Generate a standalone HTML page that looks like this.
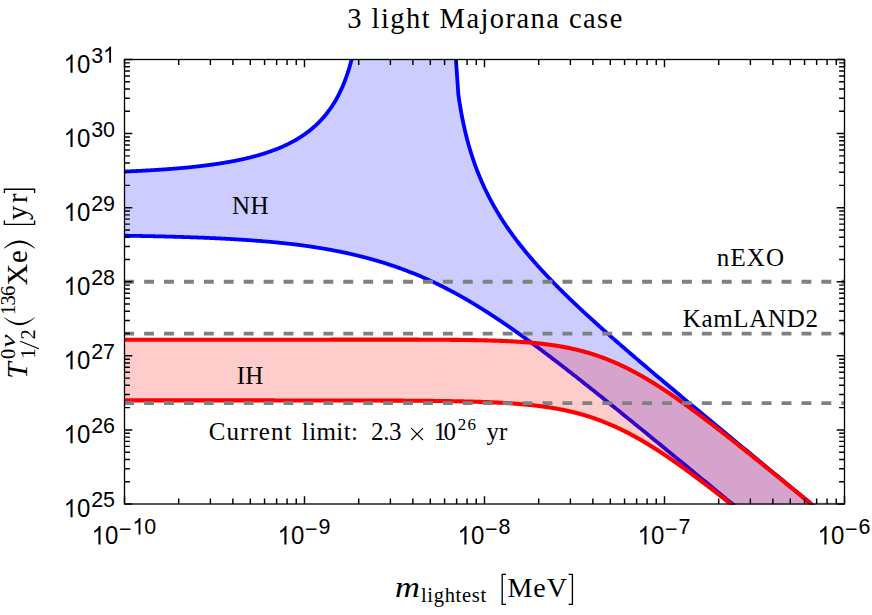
<!DOCTYPE html>
<html><head><meta charset="utf-8"><title>chart</title>
<style>
html,body{margin:0;padding:0;background:#fff;}
#c{position:relative;width:872px;height:615px;overflow:hidden;background:#fff;}
svg{position:absolute;left:0;top:0;}
.sans text{font-family:"Liberation Sans",sans-serif;fill:#000;}
.serif text{font-family:"Liberation Serif",serif;fill:#000;}
</style></head><body>
<div id="c">
<svg width="872" height="615" viewBox="0 0 872 615">
<defs><clipPath id="cp"><rect x="124.0" y="59.0" width="721.0" height="445.5"/></clipPath></defs>
<g clip-path="url(#cp)">
<path d="M124.50,235.72 L125.10,235.73 L125.70,235.73 L126.30,235.74 L126.90,235.75 L127.50,235.76 L128.10,235.77 L128.70,235.78 L129.30,235.79 L129.90,235.80 L130.51,235.81 L131.11,235.82 L131.71,235.83 L132.31,235.84 L132.91,235.85 L133.51,235.86 L134.11,235.87 L134.71,235.88 L135.31,235.89 L135.91,235.90 L136.51,235.91 L137.11,235.92 L137.71,235.93 L138.31,235.94 L138.91,235.95 L139.51,235.96 L140.11,235.97 L140.71,235.99 L141.31,236.00 L141.91,236.01 L142.52,236.02 L143.12,236.03 L143.72,236.04 L144.32,236.05 L144.92,236.06 L145.52,236.08 L146.12,236.09 L146.72,236.10 L147.32,236.11 L147.92,236.12 L148.52,236.14 L149.12,236.15 L149.72,236.16 L150.32,236.17 L150.92,236.19 L151.52,236.20 L152.12,236.21 L152.72,236.22 L153.32,236.24 L153.92,236.25 L154.53,236.26 L155.13,236.28 L155.73,236.29 L156.33,236.30 L156.93,236.32 L157.53,236.33 L158.13,236.34 L158.73,236.36 L159.33,236.37 L159.93,236.38 L160.53,236.40 L161.13,236.41 L161.73,236.43 L162.33,236.44 L162.93,236.46 L163.53,236.47 L164.13,236.49 L164.73,236.50 L165.33,236.52 L165.93,236.53 L166.54,236.55 L167.14,236.56 L167.74,236.58 L168.34,236.59 L168.94,236.61 L169.54,236.62 L170.14,236.64 L170.74,236.66 L171.34,236.67 L171.94,236.69 L172.54,236.70 L173.14,236.72 L173.74,236.74 L174.34,236.75 L174.94,236.77 L175.54,236.79 L176.14,236.80 L176.74,236.82 L177.34,236.84 L177.94,236.86 L178.55,236.87 L179.15,236.89 L179.75,236.91 L180.35,236.93 L180.95,236.95 L181.55,236.96 L182.15,236.98 L182.75,237.00 L183.35,237.02 L183.95,237.04 L184.55,237.06 L185.15,237.08 L185.75,237.10 L186.35,237.12 L186.95,237.14 L187.55,237.16 L188.15,237.18 L188.75,237.20 L189.35,237.22 L189.95,237.24 L190.56,237.26 L191.16,237.28 L191.76,237.30 L192.36,237.32 L192.96,237.34 L193.56,237.36 L194.16,237.38 L194.76,237.40 L195.36,237.43 L195.96,237.45 L196.56,237.47 L197.16,237.49 L197.76,237.51 L198.36,237.54 L198.96,237.56 L199.56,237.58 L200.16,237.61 L200.76,237.63 L201.36,237.65 L201.96,237.68 L202.57,237.70 L203.17,237.72 L203.77,237.75 L204.37,237.77 L204.97,237.80 L205.57,237.82 L206.17,237.85 L206.77,237.87 L207.37,237.90 L207.97,237.92 L208.57,237.95 L209.17,237.97 L209.77,238.00 L210.37,238.03 L210.97,238.05 L211.57,238.08 L212.17,238.11 L212.77,238.13 L213.37,238.16 L213.97,238.19 L214.58,238.21 L215.18,238.24 L215.78,238.27 L216.38,238.30 L216.98,238.33 L217.58,238.36 L218.18,238.38 L218.78,238.41 L219.38,238.44 L219.98,238.47 L220.58,238.50 L221.18,238.53 L221.78,238.56 L222.38,238.59 L222.98,238.62 L223.58,238.65 L224.18,238.68 L224.78,238.72 L225.38,238.75 L225.98,238.78 L226.59,238.81 L227.19,238.84 L227.79,238.87 L228.39,238.91 L228.99,238.94 L229.59,238.97 L230.19,239.01 L230.79,239.04 L231.39,239.07 L231.99,239.11 L232.59,239.14 L233.19,239.18 L233.79,239.21 L234.39,239.25 L234.99,239.28 L235.59,239.32 L236.19,239.35 L236.79,239.39 L237.39,239.43 L237.99,239.46 L238.60,239.50 L239.20,239.54 L239.80,239.58 L240.40,239.61 L241.00,239.65 L241.60,239.69 L242.20,239.73 L242.80,239.77 L243.40,239.81 L244.00,239.85 L244.60,239.89 L245.20,239.93 L245.80,239.97 L246.40,240.01 L247.00,240.05 L247.60,240.09 L248.20,240.13 L248.80,240.17 L249.40,240.21 L250.00,240.26 L250.61,240.30 L251.21,240.34 L251.81,240.38 L252.41,240.43 L253.01,240.47 L253.61,240.52 L254.21,240.56 L254.81,240.61 L255.41,240.65 L256.01,240.70 L256.61,240.74 L257.21,240.79 L257.81,240.84 L258.41,240.88 L259.01,240.93 L259.61,240.98 L260.21,241.02 L260.81,241.07 L261.41,241.12 L262.01,241.17 L262.62,241.22 L263.22,241.27 L263.82,241.32 L264.42,241.37 L265.02,241.42 L265.62,241.47 L266.22,241.52 L266.82,241.57 L267.42,241.63 L268.02,241.68 L268.62,241.73 L269.22,241.79 L269.82,241.84 L270.42,241.89 L271.02,241.95 L271.62,242.00 L272.22,242.06 L272.82,242.11 L273.42,242.17 L274.02,242.23 L274.63,242.28 L275.23,242.34 L275.83,242.40 L276.43,242.46 L277.03,242.51 L277.63,242.57 L278.23,242.63 L278.83,242.69 L279.43,242.75 L280.03,242.81 L280.63,242.87 L281.23,242.93 L281.83,243.00 L282.43,243.06 L283.03,243.12 L283.63,243.18 L284.23,243.25 L284.83,243.31 L285.43,243.38 L286.03,243.44 L286.64,243.51 L287.24,243.57 L287.84,243.64 L288.44,243.71 L289.04,243.77 L289.64,243.84 L290.24,243.91 L290.84,243.98 L291.44,244.05 L292.04,244.12 L292.64,244.19 L293.24,244.26 L293.84,244.33 L294.44,244.40 L295.04,244.47 L295.64,244.54 L296.24,244.62 L296.84,244.69 L297.44,244.76 L298.04,244.84 L298.65,244.91 L299.25,244.99 L299.85,245.06 L300.45,245.14 L301.05,245.22 L301.65,245.30 L302.25,245.38 L302.85,245.47 L303.45,245.55 L304.05,245.63 L304.65,245.71 L305.25,245.80 L305.85,245.88 L306.45,245.97 L307.05,246.05 L307.65,246.14 L308.25,246.22 L308.85,246.31 L309.45,246.40 L310.05,246.49 L310.66,246.58 L311.26,246.66 L311.86,246.75 L312.46,246.84 L313.06,246.94 L313.66,247.03 L314.26,247.12 L314.86,247.21 L315.46,247.31 L316.06,247.40 L316.66,247.50 L317.26,247.59 L317.86,247.69 L318.46,247.78 L319.06,247.88 L319.66,247.98 L320.26,248.08 L320.86,248.18 L321.46,248.27 L322.06,248.38 L322.67,248.48 L323.27,248.58 L323.87,248.68 L324.47,248.78 L325.07,248.89 L325.67,248.99 L326.27,249.10 L326.87,249.20 L327.47,249.31 L328.07,249.41 L328.67,249.52 L329.27,249.63 L329.87,249.74 L330.47,249.85 L331.07,249.96 L331.67,250.07 L332.27,250.18 L332.87,250.30 L333.47,250.41 L334.07,250.52 L334.68,250.64 L335.28,250.75 L335.88,250.87 L336.48,250.99 L337.08,251.10 L337.68,251.22 L338.28,251.34 L338.88,251.46 L339.48,251.58 L340.08,251.70 L340.68,251.82 L341.28,251.95 L341.88,252.07 L342.48,252.20 L343.08,252.32 L343.68,252.45 L344.28,252.57 L344.88,252.70 L345.48,252.83 L346.08,252.96 L346.69,253.09 L347.29,253.22 L347.89,253.35 L348.49,253.48 L349.09,253.62 L349.69,253.75 L350.29,253.88 L350.89,254.02 L351.49,254.16 L352.09,254.29 L352.69,254.43 L353.29,254.57 L353.89,254.71 L354.49,254.85 L355.09,254.99 L355.69,255.13 L356.29,255.28 L356.89,255.42 L357.49,255.57 L358.09,255.71 L358.70,255.86 L359.30,256.01 L359.90,256.15 L360.50,256.30 L361.10,256.45 L361.70,256.60 L362.30,256.76 L362.90,256.91 L363.50,257.06 L364.10,257.22 L364.70,257.37 L365.30,257.53 L365.90,257.69 L366.50,257.85 L367.10,258.01 L367.70,258.17 L368.30,258.33 L368.90,258.49 L369.50,258.65 L370.10,258.82 L370.71,258.98 L371.31,259.15 L371.91,259.31 L372.51,259.48 L373.11,259.65 L373.71,259.82 L374.31,259.99 L374.91,260.16 L375.51,260.34 L376.11,260.51 L376.71,260.68 L377.31,260.86 L377.91,261.04 L378.51,261.21 L379.11,261.39 L379.71,261.57 L380.31,261.75 L380.91,261.93 L381.51,262.12 L382.11,262.30 L382.72,262.49 L383.32,262.67 L383.92,262.86 L384.52,263.05 L385.12,263.24 L385.72,263.43 L386.32,263.62 L386.92,263.81 L387.52,264.00 L388.12,264.20 L388.72,264.39 L389.32,264.59 L389.92,264.79 L390.52,264.98 L391.12,265.18 L391.72,265.38 L392.32,265.59 L392.92,265.79 L393.52,265.99 L394.12,266.20 L394.73,266.40 L395.33,266.61 L395.93,266.82 L396.53,267.03 L397.13,267.24 L397.73,267.45 L398.33,267.66 L398.93,267.88 L399.53,268.09 L400.13,268.31 L400.73,268.53 L401.33,268.74 L401.93,268.96 L402.53,269.18 L403.13,269.41 L403.73,269.63 L404.33,269.85 L404.93,270.08 L405.53,270.31 L406.13,270.53 L406.74,270.76 L407.34,270.99 L407.94,271.22 L408.54,271.45 L409.14,271.69 L409.74,271.92 L410.34,272.16 L410.94,272.40 L411.54,272.63 L412.14,272.87 L412.74,273.11 L413.34,273.35 L413.94,273.60 L414.54,273.84 L415.14,274.09 L415.74,274.33 L416.34,274.58 L416.94,274.83 L417.54,275.08 L418.14,275.33 L418.75,275.58 L419.35,275.84 L419.95,276.09 L420.55,276.35 L421.15,276.60 L421.75,276.86 L422.35,277.12 L422.95,277.38 L423.55,277.64 L424.15,277.91 L424.75,278.17 L425.35,278.44 L425.95,278.70 L426.55,278.97 L427.15,279.24 L427.75,279.51 L428.35,279.78 L428.95,280.06 L429.55,280.33 L430.15,280.61 L430.76,280.88 L431.36,281.16 L431.96,281.44 L432.56,281.72 L433.16,282.00 L433.76,282.28 L434.36,282.57 L434.96,282.85 L435.56,283.14 L436.16,283.43 L436.76,283.72 L437.36,284.01 L437.96,284.30 L438.56,284.59 L439.16,284.88 L439.76,285.18 L440.36,285.48 L440.96,285.77 L441.56,286.07 L442.16,286.37 L442.77,286.67 L443.37,286.98 L443.97,287.28 L444.57,287.58 L445.17,287.89 L445.77,288.20 L446.37,288.51 L446.97,288.81 L447.57,289.13 L448.17,289.44 L448.77,289.75 L449.37,290.07 L449.97,290.38 L450.57,290.70 L451.17,291.02 L451.77,291.33 L452.37,291.65 L452.97,291.98 L453.57,292.30 L454.17,292.62 L454.78,292.95 L455.38,293.27 L455.98,293.60 L456.58,293.93 L457.18,294.26 L457.78,294.59 L458.38,294.92 L458.98,295.25 L459.58,295.59 L460.18,295.92 L460.78,296.26 L461.38,296.60 L461.98,296.94 L462.58,297.28 L463.18,297.62 L463.78,297.96 L464.38,298.31 L464.98,298.65 L465.58,299.00 L466.18,299.34 L466.79,299.69 L467.39,300.04 L467.99,300.39 L468.59,300.74 L469.19,301.10 L469.79,301.45 L470.39,301.80 L470.99,302.16 L471.59,302.52 L472.19,302.88 L472.79,303.24 L473.39,303.60 L473.99,303.96 L474.59,304.32 L475.19,304.68 L475.79,305.05 L476.39,305.41 L476.99,305.78 L477.59,306.15 L478.19,306.52 L478.80,306.89 L479.40,307.26 L480.00,307.63 L480.60,308.00 L481.20,308.38 L481.80,308.75 L482.40,309.13 L483.00,309.51 L483.60,309.89 L484.20,310.27 L484.80,310.65 L485.40,311.03 L486.00,311.41 L486.60,311.79 L487.20,312.18 L487.80,312.56 L488.40,312.95 L489.00,313.34 L489.60,313.72 L490.20,314.11 L490.81,314.50 L491.41,314.90 L492.01,315.29 L492.61,315.68 L493.21,316.07 L493.81,316.47 L494.41,316.86 L495.01,317.26 L495.61,317.66 L496.21,318.06 L496.81,318.46 L497.41,318.86 L498.01,319.26 L498.61,319.66 L499.21,320.06 L499.81,320.47 L500.41,320.87 L501.01,321.28 L501.61,321.68 L502.21,322.09 L502.82,322.49 L503.42,322.90 L504.02,323.31 L504.62,323.72 L505.22,324.13 L505.82,324.54 L506.42,324.95 L507.02,325.37 L507.62,325.78 L508.22,326.19 L508.82,326.61 L509.42,327.02 L510.02,327.44 L510.62,327.86 L511.22,328.28 L511.82,328.70 L512.42,329.12 L513.02,329.54 L513.62,329.96 L514.22,330.38 L514.83,330.80 L515.43,331.22 L516.03,331.65 L516.63,332.07 L517.23,332.50 L517.83,332.92 L518.43,333.35 L519.03,333.78 L519.63,334.21 L520.23,334.64 L520.83,335.07 L521.43,335.50 L522.03,335.93 L522.63,336.36 L523.23,336.79 L523.83,337.22 L524.43,337.66 L525.03,338.09 L525.63,338.53 L526.23,338.96 L526.84,339.40 L527.44,339.83 L528.04,340.27 L528.64,340.71 L529.24,341.15 L529.84,341.59 L530.44,342.03 L531.04,342.47 L531.64,342.91 L532.24,343.35 L532.84,343.79 L533.44,344.23 L534.04,344.68 L534.64,345.12 L535.24,345.56 L535.84,346.01 L536.44,346.45 L537.04,346.90 L537.64,347.35 L538.24,347.79 L538.85,348.24 L539.45,348.69 L540.05,349.14 L540.65,349.58 L541.25,350.03 L541.85,350.48 L542.45,350.93 L543.05,351.38 L543.65,351.84 L544.25,352.29 L544.85,352.74 L545.45,353.19 L546.05,353.65 L546.65,354.10 L547.25,354.55 L547.85,355.01 L548.45,355.46 L549.05,355.92 L549.65,356.37 L550.25,356.83 L550.86,357.29 L551.46,357.74 L552.06,358.20 L552.66,358.66 L553.26,359.12 L553.86,359.58 L554.46,360.04 L555.06,360.49 L555.66,360.95 L556.26,361.42 L556.86,361.88 L557.46,362.34 L558.06,362.80 L558.66,363.26 L559.26,363.72 L559.86,364.19 L560.46,364.65 L561.06,365.11 L561.66,365.58 L562.26,366.04 L562.87,366.50 L563.47,366.97 L564.07,367.43 L564.67,367.90 L565.27,368.37 L565.87,368.83 L566.47,369.30 L567.07,369.76 L567.67,370.23 L568.27,370.70 L568.87,371.17 L569.47,371.64 L570.07,372.10 L570.67,372.57 L571.27,373.04 L571.87,373.51 L572.47,373.98 L573.07,374.45 L573.67,374.92 L574.27,375.39 L574.88,375.86 L575.48,376.33 L576.08,376.80 L576.68,377.28 L577.28,377.75 L577.88,378.22 L578.48,378.69 L579.08,379.16 L579.68,379.64 L580.28,380.11 L580.88,380.58 L581.48,381.06 L582.08,381.53 L582.68,382.01 L583.28,382.48 L583.88,382.96 L584.48,383.43 L585.08,383.91 L585.68,384.38 L586.28,384.86 L586.89,385.33 L587.49,385.81 L588.09,386.29 L588.69,386.76 L589.29,387.24 L589.89,387.72 L590.49,388.19 L591.09,388.67 L591.69,389.15 L592.29,389.63 L592.89,390.11 L593.49,390.58 L594.09,391.06 L594.69,391.54 L595.29,392.02 L595.89,392.50 L596.49,392.98 L597.09,393.46 L597.69,393.94 L598.29,394.42 L598.90,394.90 L599.50,395.38 L600.10,395.86 L600.70,396.34 L601.30,396.82 L601.90,397.30 L602.50,397.78 L603.10,398.27 L603.70,398.75 L604.30,399.23 L604.90,399.71 L605.50,400.19 L606.10,400.68 L606.70,401.16 L607.30,401.64 L607.90,402.12 L608.50,402.61 L609.10,403.09 L609.70,403.57 L610.30,404.06 L610.91,404.54 L611.51,405.02 L612.11,405.51 L612.71,405.99 L613.31,406.48 L613.91,406.96 L614.51,407.44 L615.11,407.93 L615.71,408.41 L616.31,408.90 L616.91,409.38 L617.51,409.87 L618.11,410.35 L618.71,410.84 L619.31,411.33 L619.91,411.81 L620.51,412.30 L621.11,412.78 L621.71,413.27 L622.31,413.76 L622.92,414.24 L623.52,414.73 L624.12,415.21 L624.72,415.70 L625.32,416.19 L625.92,416.67 L626.52,417.16 L627.12,417.65 L627.72,418.14 L628.32,418.62 L628.92,419.11 L629.52,419.60 L630.12,420.09 L630.72,420.57 L631.32,421.06 L631.92,421.55 L632.52,422.04 L633.12,422.53 L633.72,423.01 L634.32,423.50 L634.93,423.99 L635.53,424.48 L636.13,424.97 L636.73,425.46 L637.33,425.95 L637.93,426.44 L638.53,426.92 L639.13,427.41 L639.73,427.90 L640.33,428.39 L640.93,428.88 L641.53,429.37 L642.13,429.86 L642.73,430.35 L643.33,430.84 L643.93,431.33 L644.53,431.82 L645.13,432.31 L645.73,432.80 L646.33,433.29 L646.94,433.78 L647.54,434.27 L648.14,434.76 L648.74,435.25 L649.34,435.74 L649.94,436.23 L650.54,436.72 L651.14,437.21 L651.74,437.70 L652.34,438.19 L652.94,438.69 L653.54,439.18 L654.14,439.67 L654.74,440.16 L655.34,440.65 L655.94,441.14 L656.54,441.63 L657.14,442.12 L657.74,442.61 L658.34,443.11 L658.95,443.60 L659.55,444.09 L660.15,444.58 L660.75,445.07 L661.35,445.56 L661.95,446.06 L662.55,446.55 L663.15,447.04 L663.75,447.53 L664.35,448.02 L664.95,448.52 L665.55,449.01 L666.15,449.50 L666.75,449.99 L667.35,450.48 L667.95,450.98 L668.55,451.47 L669.15,451.96 L669.75,452.45 L670.35,452.95 L670.96,453.44 L671.56,453.93 L672.16,454.42 L672.76,454.92 L673.36,455.41 L673.96,455.90 L674.56,456.39 L675.16,456.89 L675.76,457.38 L676.36,457.87 L676.96,458.37 L677.56,458.86 L678.16,459.35 L678.76,459.84 L679.36,460.34 L679.96,460.83 L680.56,461.32 L681.16,461.82 L681.76,462.31 L682.36,462.80 L682.97,463.30 L683.57,463.79 L684.17,464.28 L684.77,464.78 L685.37,465.27 L685.97,465.76 L686.57,466.26 L687.17,466.75 L687.77,467.24 L688.37,467.74 L688.97,468.23 L689.57,468.73 L690.17,469.22 L690.77,469.71 L691.37,470.21 L691.97,470.70 L692.57,471.19 L693.17,471.69 L693.77,472.18 L694.37,472.68 L694.98,473.17 L695.58,473.66 L696.18,474.16 L696.78,474.65 L697.38,475.14 L697.98,475.64 L698.58,476.13 L699.18,476.63 L699.78,477.12 L700.38,477.62 L700.98,478.11 L701.58,478.60 L702.18,479.10 L702.78,479.59 L703.38,480.09 L703.98,480.58 L704.58,481.07 L705.18,481.57 L705.78,482.06 L706.38,482.56 L706.99,483.05 L707.59,483.55 L708.19,484.04 L708.79,484.53 L709.39,485.03 L709.99,485.52 L710.59,486.02 L711.19,486.51 L711.79,487.01 L712.39,487.50 L712.99,488.00 L713.59,488.49 L714.19,488.98 L714.79,489.48 L715.39,489.97 L715.99,490.47 L716.59,490.96 L717.19,491.46 L717.79,491.95 L718.39,492.45 L719.00,492.94 L719.60,493.44 L720.20,493.93 L720.80,494.43 L721.40,494.92 L722.00,495.41 L722.60,495.91 L723.20,496.40 L723.80,496.90 L724.40,497.39 L725.00,497.89 L725.60,498.38 L726.20,498.88 L726.80,499.37 L727.40,499.87 L728.00,500.36 L728.60,500.86 L729.20,501.35 L729.80,501.85 L730.40,502.34 L731.01,502.84 L731.61,503.33 L732.21,503.83 L732.81,504.32 L733.41,504.81 L734.01,505.31 L734.61,505.80 L735.21,506.29 L735.81,506.79 L736.41,507.28 L737.01,507.78 L737.61,508.27 L738.21,508.76 L738.81,509.26 L739.41,509.75 L740.01,510.24 L740.61,510.74 L741.21,511.23 L741.81,511.73 L742.41,512.22 L743.02,512.71 L743.62,513.21 L744.22,513.70 L744.82,514.19 L745.42,514.69 L746.02,515.18 L746.62,515.68 L747.22,516.17 L747.82,516.66 L748.42,517.16 L749.02,517.65 L749.62,518.15 L750.22,518.64 L750.82,519.13 L751.42,519.63 L752.02,520.12 L752.62,520.61 L753.22,521.11 L753.82,521.60 L754.42,522.10 L755.03,522.59 L755.63,523.08 L756.23,523.58 L756.83,524.07 L757.43,524.57 L758.03,525.06 L758.63,525.55 L759.23,526.05 L759.83,526.54 L760.43,527.04 L761.03,527.53 L761.63,528.02 L762.23,528.52 L762.83,529.01 L763.43,529.51 L764.03,530.00 L764.63,530.49 L765.23,530.99 L765.83,531.48 L766.43,531.98 L767.04,532.47 L767.64,532.96 L768.24,533.46 L768.84,533.95 L769.44,534.45 L770.04,534.94 L770.64,535.43 L771.24,535.93 L771.84,536.42 L772.44,536.92 L773.04,537.41 L773.64,537.90 L774.24,538.40 L774.84,538.89 L775.44,539.39 L776.04,539.88 L776.64,540.37 L777.24,540.87 L777.84,541.36 L778.44,541.86 L779.05,542.35 L779.65,542.85 L780.25,543.34 L780.85,543.83 L781.45,544.33 L782.05,544.82 L782.65,545.32 L783.25,545.81 L783.85,546.30 L784.45,546.80 L785.05,547.29 L785.65,547.79 L786.25,548.28 L786.85,548.77 L787.45,549.27 L788.05,549.76 L788.65,550.26 L789.25,550.75 L789.85,551.25 L790.45,551.74 L791.06,552.23 L791.66,552.73 L792.26,553.22 L792.86,553.72 L793.46,554.21 L794.06,554.70 L794.66,555.20 L795.26,555.69 L795.86,556.19 L796.46,556.68 L797.06,557.18 L797.66,557.67 L798.26,558.16 L798.86,558.66 L799.46,559.15 L800.06,559.65 L800.66,560.14 L801.26,560.63 L801.86,561.13 L802.46,561.62 L803.07,562.12 L803.67,562.61 L804.27,563.11 L804.87,563.60 L805.47,564.09 L806.07,564.59 L806.67,565.08 L807.27,565.58 L807.87,566.07 L808.47,566.56 L809.07,567.06 L809.67,567.55 L810.27,568.05 L810.87,568.54 L811.47,569.04 L812.07,569.53 L812.67,570.02 L813.27,570.52 L813.87,571.01 L814.47,571.51 L815.08,572.00 L815.68,572.50 L816.28,572.99 L816.88,573.48 L817.48,573.98 L818.08,574.47 L818.68,574.97 L819.28,575.46 L819.88,575.95 L820.48,576.45 L821.08,576.94 L821.68,577.44 L822.28,577.93 L822.88,578.43 L823.48,578.92 L824.08,579.41 L824.68,579.91 L825.28,580.40 L825.88,580.90 L826.48,581.39 L827.09,581.89 L827.69,582.38 L828.29,582.87 L828.89,583.37 L829.49,583.86 L830.09,584.36 L830.69,584.85 L831.29,585.35 L831.89,585.84 L832.49,586.33 L833.09,586.83 L833.69,587.32 L834.29,587.82 L834.89,588.31 L835.49,588.81 L836.09,589.30 L836.69,589.79 L837.29,590.29 L837.89,590.78 L838.49,591.28 L839.10,591.77 L839.70,592.26 L840.30,592.76 L840.90,593.25 L841.50,593.75 L842.10,594.24 L842.70,594.74 L843.30,595.23 L843.90,595.72 L844.50,596.22 L844.50,531.22 L843.90,530.73 L843.30,530.23 L842.70,529.74 L842.10,529.24 L841.50,528.75 L840.90,528.25 L840.30,527.76 L839.70,527.26 L839.10,526.77 L838.49,526.28 L837.89,525.78 L837.29,525.29 L836.69,524.79 L836.09,524.30 L835.49,523.80 L834.89,523.31 L834.29,522.81 L833.69,522.32 L833.09,521.83 L832.49,521.33 L831.89,520.84 L831.29,520.34 L830.69,519.85 L830.09,519.35 L829.49,518.86 L828.89,518.36 L828.29,517.87 L827.69,517.38 L827.09,516.88 L826.48,516.39 L825.88,515.89 L825.28,515.40 L824.68,514.90 L824.08,514.41 L823.48,513.91 L822.88,513.42 L822.28,512.93 L821.68,512.43 L821.08,511.94 L820.48,511.44 L819.88,510.95 L819.28,510.45 L818.68,509.96 L818.08,509.46 L817.48,508.97 L816.88,508.47 L816.28,507.98 L815.68,507.49 L815.08,506.99 L814.47,506.50 L813.87,506.00 L813.27,505.51 L812.67,505.01 L812.07,504.52 L811.47,504.02 L810.87,503.53 L810.27,503.03 L809.67,502.54 L809.07,502.05 L808.47,501.55 L807.87,501.06 L807.27,500.56 L806.67,500.07 L806.07,499.57 L805.47,499.08 L804.87,498.58 L804.27,498.09 L803.67,497.59 L803.07,497.10 L802.46,496.61 L801.86,496.11 L801.26,495.62 L800.66,495.12 L800.06,494.63 L799.46,494.13 L798.86,493.64 L798.26,493.14 L797.66,492.65 L797.06,492.15 L796.46,491.66 L795.86,491.16 L795.26,490.67 L794.66,490.17 L794.06,489.68 L793.46,489.19 L792.86,488.69 L792.26,488.20 L791.66,487.70 L791.06,487.21 L790.45,486.71 L789.85,486.22 L789.25,485.72 L788.65,485.23 L788.05,484.73 L787.45,484.24 L786.85,483.74 L786.25,483.25 L785.65,482.75 L785.05,482.26 L784.45,481.76 L783.85,481.27 L783.25,480.77 L782.65,480.28 L782.05,479.79 L781.45,479.29 L780.85,478.80 L780.25,478.30 L779.65,477.81 L779.05,477.31 L778.44,476.82 L777.84,476.32 L777.24,475.83 L776.64,475.33 L776.04,474.84 L775.44,474.34 L774.84,473.85 L774.24,473.35 L773.64,472.86 L773.04,472.36 L772.44,471.87 L771.84,471.37 L771.24,470.88 L770.64,470.38 L770.04,469.89 L769.44,469.39 L768.84,468.90 L768.24,468.40 L767.64,467.91 L767.04,467.41 L766.43,466.92 L765.83,466.42 L765.23,465.93 L764.63,465.43 L764.03,464.94 L763.43,464.44 L762.83,463.95 L762.23,463.45 L761.63,462.96 L761.03,462.46 L760.43,461.97 L759.83,461.47 L759.23,460.97 L758.63,460.48 L758.03,459.98 L757.43,459.49 L756.83,458.99 L756.23,458.50 L755.63,458.00 L755.03,457.51 L754.42,457.01 L753.82,456.52 L753.22,456.02 L752.62,455.53 L752.02,455.03 L751.42,454.54 L750.82,454.04 L750.22,453.54 L749.62,453.05 L749.02,452.55 L748.42,452.06 L747.82,451.56 L747.22,451.07 L746.62,450.57 L746.02,450.08 L745.42,449.58 L744.82,449.08 L744.22,448.59 L743.62,448.09 L743.02,447.60 L742.41,447.10 L741.81,446.61 L741.21,446.11 L740.61,445.61 L740.01,445.12 L739.41,444.62 L738.81,444.13 L738.21,443.63 L737.61,443.14 L737.01,442.64 L736.41,442.14 L735.81,441.65 L735.21,441.15 L734.61,440.66 L734.01,440.16 L733.41,439.66 L732.81,439.17 L732.21,438.67 L731.61,438.17 L731.01,437.68 L730.40,437.18 L729.80,436.69 L729.20,436.19 L728.60,435.69 L728.00,435.20 L727.40,434.70 L726.80,434.20 L726.20,433.71 L725.60,433.21 L725.00,432.71 L724.40,432.22 L723.80,431.72 L723.20,431.22 L722.60,430.73 L722.00,430.23 L721.40,429.73 L720.80,429.24 L720.20,428.74 L719.60,428.24 L719.00,427.75 L718.39,427.25 L717.79,426.75 L717.19,426.26 L716.59,425.76 L715.99,425.26 L715.39,424.77 L714.79,424.27 L714.19,423.77 L713.59,423.27 L712.99,422.78 L712.39,422.28 L711.79,421.78 L711.19,421.28 L710.59,420.79 L709.99,420.29 L709.39,419.79 L708.79,419.29 L708.19,418.80 L707.59,418.30 L706.99,417.80 L706.38,417.30 L705.78,416.81 L705.18,416.31 L704.58,415.81 L703.98,415.31 L703.38,414.81 L702.78,414.32 L702.18,413.82 L701.58,413.32 L700.98,412.82 L700.38,412.32 L699.78,411.82 L699.18,411.33 L698.58,410.83 L697.98,410.33 L697.38,409.83 L696.78,409.33 L696.18,408.83 L695.58,408.33 L694.98,407.83 L694.37,407.33 L693.77,406.84 L693.17,406.34 L692.57,405.84 L691.97,405.34 L691.37,404.84 L690.77,404.34 L690.17,403.84 L689.57,403.34 L688.97,402.84 L688.37,402.34 L687.77,401.84 L687.17,401.34 L686.57,400.84 L685.97,400.34 L685.37,399.84 L684.77,399.34 L684.17,398.84 L683.57,398.34 L682.97,397.84 L682.36,397.34 L681.76,396.84 L681.16,396.34 L680.56,395.83 L679.96,395.33 L679.36,394.83 L678.76,394.33 L678.16,393.83 L677.56,393.33 L676.96,392.83 L676.36,392.32 L675.76,391.82 L675.16,391.32 L674.56,390.82 L673.96,390.32 L673.36,389.81 L672.76,389.31 L672.16,388.81 L671.56,388.31 L670.96,387.80 L670.35,387.30 L669.75,386.80 L669.15,386.30 L668.55,385.79 L667.95,385.29 L667.35,384.78 L666.75,384.28 L666.15,383.78 L665.55,383.27 L664.95,382.77 L664.35,382.27 L663.75,381.76 L663.15,381.26 L662.55,380.75 L661.95,380.25 L661.35,379.74 L660.75,379.24 L660.15,378.73 L659.55,378.23 L658.95,377.72 L658.34,377.21 L657.74,376.71 L657.14,376.20 L656.54,375.70 L655.94,375.19 L655.34,374.68 L654.74,374.18 L654.14,373.67 L653.54,373.16 L652.94,372.66 L652.34,372.15 L651.74,371.64 L651.14,371.13 L650.54,370.62 L649.94,370.12 L649.34,369.61 L648.74,369.10 L648.14,368.59 L647.54,368.08 L646.94,367.57 L646.33,367.06 L645.73,366.55 L645.13,366.04 L644.53,365.53 L643.93,365.02 L643.33,364.51 L642.73,364.00 L642.13,363.49 L641.53,362.98 L640.93,362.47 L640.33,361.95 L639.73,361.44 L639.13,360.93 L638.53,360.42 L637.93,359.90 L637.33,359.39 L636.73,358.88 L636.13,358.36 L635.53,357.85 L634.93,357.34 L634.32,356.82 L633.72,356.31 L633.12,355.79 L632.52,355.28 L631.92,354.76 L631.32,354.25 L630.72,353.73 L630.12,353.21 L629.52,352.70 L628.92,352.18 L628.32,351.66 L627.72,351.14 L627.12,350.63 L626.52,350.11 L625.92,349.59 L625.32,349.07 L624.72,348.55 L624.12,348.03 L623.52,347.51 L622.92,346.99 L622.31,346.47 L621.71,345.95 L621.11,345.43 L620.51,344.91 L619.91,344.38 L619.31,343.86 L618.71,343.34 L618.11,342.81 L617.51,342.29 L616.91,341.77 L616.31,341.24 L615.71,340.72 L615.11,340.19 L614.51,339.66 L613.91,339.14 L613.31,338.61 L612.71,338.08 L612.11,337.56 L611.51,337.03 L610.91,336.50 L610.30,335.97 L609.70,335.44 L609.10,334.91 L608.50,334.38 L607.90,333.85 L607.30,333.32 L606.70,332.79 L606.10,332.25 L605.50,331.72 L604.90,331.19 L604.30,330.65 L603.70,330.12 L603.10,329.58 L602.50,329.05 L601.90,328.51 L601.30,327.98 L600.70,327.44 L600.10,326.90 L599.50,326.36 L598.90,325.82 L598.29,325.28 L597.69,324.74 L597.09,324.20 L596.49,323.66 L595.89,323.12 L595.29,322.58 L594.69,322.03 L594.09,321.49 L593.49,320.95 L592.89,320.40 L592.29,319.85 L591.69,319.31 L591.09,318.76 L590.49,318.21 L589.89,317.66 L589.29,317.11 L588.69,316.56 L588.09,316.01 L587.49,315.46 L586.89,314.91 L586.28,314.36 L585.68,313.80 L585.08,313.25 L584.48,312.69 L583.88,312.13 L583.28,311.58 L582.68,311.02 L582.08,310.46 L581.48,309.90 L580.88,309.34 L580.28,308.78 L579.68,308.22 L579.08,307.65 L578.48,307.09 L577.88,306.52 L577.28,305.96 L576.68,305.39 L576.08,304.82 L575.48,304.25 L574.88,303.68 L574.27,303.11 L573.67,302.54 L573.07,301.97 L572.47,301.39 L571.87,300.82 L571.27,300.24 L570.67,299.67 L570.07,299.09 L569.47,298.51 L568.87,297.93 L568.27,297.35 L567.67,296.76 L567.07,296.18 L566.47,295.59 L565.87,295.01 L565.27,294.42 L564.67,293.83 L564.07,293.24 L563.47,292.65 L562.87,292.06 L562.26,291.46 L561.66,290.87 L561.06,290.27 L560.46,289.67 L559.86,289.07 L559.26,288.47 L558.66,287.87 L558.06,287.27 L557.46,286.66 L556.86,286.05 L556.26,285.45 L555.66,284.84 L555.06,284.22 L554.46,283.61 L553.86,283.00 L553.26,282.38 L552.66,281.76 L552.06,281.14 L551.46,280.52 L550.86,279.90 L550.25,279.27 L549.65,278.65 L549.05,278.02 L548.45,277.39 L547.85,276.76 L547.25,276.12 L546.65,275.49 L546.05,274.85 L545.45,274.21 L544.85,273.57 L544.25,272.92 L543.65,272.28 L543.05,271.63 L542.45,270.98 L541.85,270.33 L541.25,269.67 L540.65,269.01 L540.05,268.35 L539.45,267.69 L538.85,267.03 L538.24,266.36 L537.64,265.69 L537.04,265.02 L536.44,264.35 L535.84,263.67 L535.24,262.99 L534.64,262.31 L534.04,261.63 L533.44,260.94 L532.84,260.25 L532.24,259.56 L531.64,258.86 L531.04,258.16 L530.44,257.46 L529.84,256.76 L529.24,256.05 L528.64,255.34 L528.04,254.63 L527.44,253.91 L526.84,253.19 L526.23,252.46 L525.63,251.74 L525.03,251.01 L524.43,250.27 L523.83,249.53 L523.23,248.79 L522.63,248.05 L522.03,247.30 L521.43,246.54 L520.83,245.79 L520.23,245.02 L519.63,244.26 L519.03,243.49 L518.43,242.72 L517.83,241.94 L517.23,241.15 L516.63,240.37 L516.03,239.58 L515.43,238.78 L514.83,237.98 L514.22,237.17 L513.62,236.36 L513.02,235.54 L512.42,234.72 L511.82,233.89 L511.22,233.06 L510.62,232.22 L510.02,231.38 L509.42,230.53 L508.82,229.68 L508.22,228.81 L507.62,227.95 L507.02,227.07 L506.42,226.19 L505.82,225.30 L505.22,224.41 L504.62,223.51 L504.02,222.60 L503.42,221.69 L502.82,220.76 L502.21,219.83 L501.61,218.90 L501.01,217.95 L500.41,217.00 L499.81,216.03 L499.21,215.06 L498.61,214.08 L498.01,213.09 L497.41,212.10 L496.81,211.09 L496.21,210.07 L495.61,209.05 L495.01,208.01 L494.41,206.96 L493.81,205.90 L493.21,204.83 L492.61,203.75 L492.01,202.66 L491.41,201.55 L490.81,200.43 L490.20,199.30 L489.60,198.16 L489.00,197.00 L488.40,195.83 L487.80,194.65 L487.20,193.45 L486.60,192.23 L486.00,191.00 L485.40,189.75 L484.80,188.48 L484.20,187.20 L483.60,185.90 L483.00,184.58 L482.40,183.24 L481.80,181.88 L481.20,180.50 L480.60,179.09 L480.00,177.67 L479.40,176.22 L478.80,174.75 L478.19,173.25 L477.59,171.72 L476.99,170.17 L476.39,168.59 L475.79,166.97 L475.19,165.33 L474.59,163.65 L473.99,161.94 L473.39,160.19 L472.79,158.41 L472.19,156.58 L471.59,154.72 L470.99,152.80 L470.39,150.84 L469.79,148.84 L469.19,146.77 L468.59,144.66 L467.99,142.48 L467.39,140.25 L466.79,137.94 L466.18,135.56 L465.58,133.11 L464.98,130.58 L464.38,127.96 L463.78,125.24 L463.18,122.42 L462.58,119.49 L461.98,116.43 L461.38,113.25 L460.78,109.92 L460.18,106.42 L459.58,102.75 L458.98,98.88 L458.38,94.79 L457.78,86.24 L457.18,77.69 L456.58,69.14 L455.98,60.59 L455.38,-300.00 L454.78,-300.00 L454.17,-300.00 L453.57,-300.00 L452.97,-300.00 L452.37,-300.00 L451.77,-300.00 L451.17,-300.00 L450.57,-300.00 L449.97,-300.00 L449.37,-300.00 L448.77,-300.00 L448.17,-300.00 L447.57,-300.00 L446.97,-300.00 L446.37,-300.00 L445.77,-300.00 L445.17,-300.00 L444.57,-300.00 L443.97,-300.00 L443.37,-300.00 L442.77,-300.00 L442.16,-300.00 L441.56,-300.00 L440.96,-300.00 L440.36,-300.00 L439.76,-300.00 L439.16,-300.00 L438.56,-300.00 L437.96,-300.00 L437.36,-300.00 L436.76,-300.00 L436.16,-300.00 L435.56,-300.00 L434.96,-300.00 L434.36,-300.00 L433.76,-300.00 L433.16,-300.00 L432.56,-300.00 L431.96,-300.00 L431.36,-300.00 L430.76,-300.00 L430.15,-300.00 L429.55,-300.00 L428.95,-300.00 L428.35,-300.00 L427.75,-300.00 L427.15,-300.00 L426.55,-300.00 L425.95,-300.00 L425.35,-300.00 L424.75,-300.00 L424.15,-300.00 L423.55,-300.00 L422.95,-300.00 L422.35,-300.00 L421.75,-300.00 L421.15,-300.00 L420.55,-300.00 L419.95,-300.00 L419.35,-300.00 L418.75,-300.00 L418.14,-300.00 L417.54,-300.00 L416.94,-300.00 L416.34,-300.00 L415.74,-300.00 L415.14,-300.00 L414.54,-300.00 L413.94,-300.00 L413.34,-300.00 L412.74,-300.00 L412.14,-300.00 L411.54,-300.00 L410.94,-300.00 L410.34,-300.00 L409.74,-300.00 L409.14,-300.00 L408.54,-300.00 L407.94,-300.00 L407.34,-300.00 L406.74,-300.00 L406.13,-300.00 L405.53,-300.00 L404.93,-300.00 L404.33,-300.00 L403.73,-300.00 L403.13,-300.00 L402.53,-300.00 L401.93,-300.00 L401.33,-300.00 L400.73,-300.00 L400.13,-300.00 L399.53,-300.00 L398.93,-300.00 L398.33,-300.00 L397.73,-300.00 L397.13,-300.00 L396.53,-300.00 L395.93,-300.00 L395.33,-300.00 L394.73,-300.00 L394.12,-300.00 L393.52,-300.00 L392.92,-300.00 L392.32,-300.00 L391.72,-300.00 L391.12,-300.00 L390.52,-300.00 L389.92,-300.00 L389.32,-300.00 L388.72,-300.00 L388.12,-300.00 L387.52,-300.00 L386.92,-300.00 L386.32,-300.00 L385.72,-300.00 L385.12,-300.00 L384.52,-300.00 L383.92,-300.00 L383.32,-300.00 L382.72,-300.00 L382.11,-300.00 L381.51,-300.00 L380.91,-300.00 L380.31,-300.00 L379.71,-300.00 L379.11,-300.00 L378.51,-300.00 L377.91,-300.00 L377.31,-300.00 L376.71,-300.00 L376.11,-300.00 L375.51,-300.00 L374.91,-300.00 L374.31,-300.00 L373.71,-300.00 L373.11,-300.00 L372.51,-300.00 L371.91,-300.00 L371.31,-300.00 L370.71,-300.00 L370.10,-300.00 L369.50,-300.00 L368.90,-300.00 L368.30,-300.00 L367.70,-300.00 L367.10,-300.00 L366.50,-255.09 L365.90,-132.21 L365.30,-92.76 L364.70,-68.62 L364.10,-51.21 L363.50,-37.61 L362.90,-26.45 L362.30,-17.01 L361.70,-8.83 L361.10,-1.62 L360.50,4.82 L359.90,10.63 L359.30,15.93 L358.70,20.79 L358.09,25.28 L357.49,29.45 L356.89,33.34 L356.29,36.98 L355.69,40.41 L355.09,43.63 L354.49,46.69 L353.89,49.58 L353.29,52.34 L352.69,54.96 L352.09,57.46 L351.49,59.85 L350.89,62.14 L350.29,64.34 L349.69,66.45 L349.09,68.48 L348.49,70.43 L347.89,72.31 L347.29,74.13 L346.69,75.88 L346.08,77.58 L345.48,79.22 L344.88,80.81 L344.28,82.35 L343.68,83.84 L343.08,85.29 L342.48,86.70 L341.88,88.07 L341.28,89.40 L340.68,90.69 L340.08,91.95 L339.48,93.18 L338.88,94.38 L338.28,95.54 L337.68,96.68 L337.08,97.79 L336.48,98.87 L335.88,99.93 L335.28,100.96 L334.68,101.97 L334.07,102.96 L333.47,103.92 L332.87,104.87 L332.27,105.79 L331.67,106.70 L331.07,107.58 L330.47,108.45 L329.87,109.30 L329.27,110.13 L328.67,110.95 L328.07,111.75 L327.47,112.53 L326.87,113.30 L326.27,114.06 L325.67,114.80 L325.07,115.53 L324.47,116.24 L323.87,116.95 L323.27,117.64 L322.67,118.31 L322.06,118.98 L321.46,119.63 L320.86,120.27 L320.26,120.91 L319.66,121.53 L319.06,122.14 L318.46,122.74 L317.86,123.33 L317.26,123.91 L316.66,124.48 L316.06,125.04 L315.46,125.60 L314.86,126.14 L314.26,126.68 L313.66,127.21 L313.06,127.73 L312.46,128.24 L311.86,128.75 L311.26,129.24 L310.66,129.73 L310.05,130.22 L309.45,130.69 L308.85,131.16 L308.25,131.62 L307.65,132.08 L307.05,132.53 L306.45,132.97 L305.85,133.41 L305.25,133.84 L304.65,134.26 L304.05,134.68 L303.45,135.09 L302.85,135.50 L302.25,135.90 L301.65,136.30 L301.05,136.69 L300.45,137.08 L299.85,137.46 L299.25,137.83 L298.65,138.20 L298.04,138.57 L297.44,138.93 L296.84,139.29 L296.24,139.64 L295.64,139.99 L295.04,140.33 L294.44,140.67 L293.84,141.00 L293.24,141.34 L292.64,141.66 L292.04,141.98 L291.44,142.30 L290.84,142.62 L290.24,142.93 L289.64,143.24 L289.04,143.54 L288.44,143.84 L287.84,144.14 L287.24,144.43 L286.64,144.72 L286.03,145.00 L285.43,145.29 L284.83,145.56 L284.23,145.84 L283.63,146.11 L283.03,146.38 L282.43,146.65 L281.83,146.91 L281.23,147.17 L280.63,147.43 L280.03,147.69 L279.43,147.94 L278.83,148.19 L278.23,148.43 L277.63,148.68 L277.03,148.92 L276.43,149.15 L275.83,149.39 L275.23,149.62 L274.63,149.85 L274.02,150.08 L273.42,150.30 L272.82,150.53 L272.22,150.75 L271.62,150.97 L271.02,151.18 L270.42,151.40 L269.82,151.61 L269.22,151.81 L268.62,152.02 L268.02,152.23 L267.42,152.43 L266.82,152.63 L266.22,152.83 L265.62,153.02 L265.02,153.22 L264.42,153.41 L263.82,153.60 L263.22,153.79 L262.62,153.97 L262.01,154.16 L261.41,154.34 L260.81,154.52 L260.21,154.70 L259.61,154.87 L259.01,155.05 L258.41,155.22 L257.81,155.39 L257.21,155.56 L256.61,155.73 L256.01,155.90 L255.41,156.06 L254.81,156.23 L254.21,156.39 L253.61,156.55 L253.01,156.70 L252.41,156.86 L251.81,157.02 L251.21,157.17 L250.61,157.32 L250.00,157.47 L249.40,157.62 L248.80,157.77 L248.20,157.92 L247.60,158.06 L247.00,158.20 L246.40,158.35 L245.80,158.49 L245.20,158.63 L244.60,158.76 L244.00,158.90 L243.40,159.03 L242.80,159.17 L242.20,159.30 L241.60,159.43 L241.00,159.56 L240.40,159.69 L239.80,159.82 L239.20,159.95 L238.60,160.07 L237.99,160.20 L237.39,160.32 L236.79,160.44 L236.19,160.56 L235.59,160.68 L234.99,160.80 L234.39,160.92 L233.79,161.03 L233.19,161.15 L232.59,161.26 L231.99,161.38 L231.39,161.49 L230.79,161.60 L230.19,161.71 L229.59,161.82 L228.99,161.93 L228.39,162.03 L227.79,162.14 L227.19,162.24 L226.59,162.35 L225.98,162.45 L225.38,162.55 L224.78,162.65 L224.18,162.75 L223.58,162.85 L222.98,162.95 L222.38,163.05 L221.78,163.15 L221.18,163.24 L220.58,163.34 L219.98,163.43 L219.38,163.53 L218.78,163.62 L218.18,163.71 L217.58,163.80 L216.98,163.89 L216.38,163.98 L215.78,164.07 L215.18,164.16 L214.58,164.24 L213.97,164.33 L213.37,164.41 L212.77,164.50 L212.17,164.58 L211.57,164.67 L210.97,164.75 L210.37,164.83 L209.77,164.91 L209.17,164.99 L208.57,165.07 L207.97,165.15 L207.37,165.23 L206.77,165.30 L206.17,165.38 L205.57,165.46 L204.97,165.53 L204.37,165.61 L203.77,165.68 L203.17,165.76 L202.57,165.83 L201.96,165.90 L201.36,165.97 L200.76,166.04 L200.16,166.11 L199.56,166.18 L198.96,166.25 L198.36,166.32 L197.76,166.39 L197.16,166.46 L196.56,166.52 L195.96,166.59 L195.36,166.65 L194.76,166.72 L194.16,166.78 L193.56,166.85 L192.96,166.91 L192.36,166.97 L191.76,167.04 L191.16,167.10 L190.56,167.16 L189.95,167.22 L189.35,167.28 L188.75,167.34 L188.15,167.40 L187.55,167.46 L186.95,167.52 L186.35,167.57 L185.75,167.63 L185.15,167.69 L184.55,167.75 L183.95,167.80 L183.35,167.86 L182.75,167.91 L182.15,167.97 L181.55,168.02 L180.95,168.07 L180.35,168.13 L179.75,168.18 L179.15,168.23 L178.55,168.28 L177.94,168.33 L177.34,168.38 L176.74,168.44 L176.14,168.49 L175.54,168.53 L174.94,168.58 L174.34,168.63 L173.74,168.68 L173.14,168.73 L172.54,168.78 L171.94,168.82 L171.34,168.87 L170.74,168.92 L170.14,168.96 L169.54,169.01 L168.94,169.05 L168.34,169.10 L167.74,169.14 L167.14,169.19 L166.54,169.23 L165.93,169.27 L165.33,169.32 L164.73,169.36 L164.13,169.40 L163.53,169.45 L162.93,169.49 L162.33,169.53 L161.73,169.57 L161.13,169.61 L160.53,169.65 L159.93,169.69 L159.33,169.73 L158.73,169.77 L158.13,169.81 L157.53,169.85 L156.93,169.89 L156.33,169.92 L155.73,169.96 L155.13,170.00 L154.53,170.04 L153.92,170.07 L153.32,170.11 L152.72,170.14 L152.12,170.18 L151.52,170.22 L150.92,170.25 L150.32,170.29 L149.72,170.32 L149.12,170.36 L148.52,170.39 L147.92,170.42 L147.32,170.46 L146.72,170.49 L146.12,170.52 L145.52,170.56 L144.92,170.59 L144.32,170.62 L143.72,170.65 L143.12,170.69 L142.52,170.72 L141.91,170.75 L141.31,170.78 L140.71,170.81 L140.11,170.84 L139.51,170.87 L138.91,170.90 L138.31,170.93 L137.71,170.96 L137.11,170.99 L136.51,171.02 L135.91,171.05 L135.31,171.08 L134.71,171.11 L134.11,171.13 L133.51,171.16 L132.91,171.19 L132.31,171.22 L131.71,171.24 L131.11,171.27 L130.51,171.30 L129.90,171.32 L129.30,171.35 L128.70,171.38 L128.10,171.40 L127.50,171.43 L126.90,171.45 L126.30,171.48 L125.70,171.50 L125.10,171.53 L124.50,171.55Z" fill="#0000ff" fill-opacity="0.2" stroke="none"/>
<path d="M124.50,235.72 L125.10,235.73 L125.70,235.73 L126.30,235.74 L126.90,235.75 L127.50,235.76 L128.10,235.77 L128.70,235.78 L129.30,235.79 L129.90,235.80 L130.51,235.81 L131.11,235.82 L131.71,235.83 L132.31,235.84 L132.91,235.85 L133.51,235.86 L134.11,235.87 L134.71,235.88 L135.31,235.89 L135.91,235.90 L136.51,235.91 L137.11,235.92 L137.71,235.93 L138.31,235.94 L138.91,235.95 L139.51,235.96 L140.11,235.97 L140.71,235.99 L141.31,236.00 L141.91,236.01 L142.52,236.02 L143.12,236.03 L143.72,236.04 L144.32,236.05 L144.92,236.06 L145.52,236.08 L146.12,236.09 L146.72,236.10 L147.32,236.11 L147.92,236.12 L148.52,236.14 L149.12,236.15 L149.72,236.16 L150.32,236.17 L150.92,236.19 L151.52,236.20 L152.12,236.21 L152.72,236.22 L153.32,236.24 L153.92,236.25 L154.53,236.26 L155.13,236.28 L155.73,236.29 L156.33,236.30 L156.93,236.32 L157.53,236.33 L158.13,236.34 L158.73,236.36 L159.33,236.37 L159.93,236.38 L160.53,236.40 L161.13,236.41 L161.73,236.43 L162.33,236.44 L162.93,236.46 L163.53,236.47 L164.13,236.49 L164.73,236.50 L165.33,236.52 L165.93,236.53 L166.54,236.55 L167.14,236.56 L167.74,236.58 L168.34,236.59 L168.94,236.61 L169.54,236.62 L170.14,236.64 L170.74,236.66 L171.34,236.67 L171.94,236.69 L172.54,236.70 L173.14,236.72 L173.74,236.74 L174.34,236.75 L174.94,236.77 L175.54,236.79 L176.14,236.80 L176.74,236.82 L177.34,236.84 L177.94,236.86 L178.55,236.87 L179.15,236.89 L179.75,236.91 L180.35,236.93 L180.95,236.95 L181.55,236.96 L182.15,236.98 L182.75,237.00 L183.35,237.02 L183.95,237.04 L184.55,237.06 L185.15,237.08 L185.75,237.10 L186.35,237.12 L186.95,237.14 L187.55,237.16 L188.15,237.18 L188.75,237.20 L189.35,237.22 L189.95,237.24 L190.56,237.26 L191.16,237.28 L191.76,237.30 L192.36,237.32 L192.96,237.34 L193.56,237.36 L194.16,237.38 L194.76,237.40 L195.36,237.43 L195.96,237.45 L196.56,237.47 L197.16,237.49 L197.76,237.51 L198.36,237.54 L198.96,237.56 L199.56,237.58 L200.16,237.61 L200.76,237.63 L201.36,237.65 L201.96,237.68 L202.57,237.70 L203.17,237.72 L203.77,237.75 L204.37,237.77 L204.97,237.80 L205.57,237.82 L206.17,237.85 L206.77,237.87 L207.37,237.90 L207.97,237.92 L208.57,237.95 L209.17,237.97 L209.77,238.00 L210.37,238.03 L210.97,238.05 L211.57,238.08 L212.17,238.11 L212.77,238.13 L213.37,238.16 L213.97,238.19 L214.58,238.21 L215.18,238.24 L215.78,238.27 L216.38,238.30 L216.98,238.33 L217.58,238.36 L218.18,238.38 L218.78,238.41 L219.38,238.44 L219.98,238.47 L220.58,238.50 L221.18,238.53 L221.78,238.56 L222.38,238.59 L222.98,238.62 L223.58,238.65 L224.18,238.68 L224.78,238.72 L225.38,238.75 L225.98,238.78 L226.59,238.81 L227.19,238.84 L227.79,238.87 L228.39,238.91 L228.99,238.94 L229.59,238.97 L230.19,239.01 L230.79,239.04 L231.39,239.07 L231.99,239.11 L232.59,239.14 L233.19,239.18 L233.79,239.21 L234.39,239.25 L234.99,239.28 L235.59,239.32 L236.19,239.35 L236.79,239.39 L237.39,239.43 L237.99,239.46 L238.60,239.50 L239.20,239.54 L239.80,239.58 L240.40,239.61 L241.00,239.65 L241.60,239.69 L242.20,239.73 L242.80,239.77 L243.40,239.81 L244.00,239.85 L244.60,239.89 L245.20,239.93 L245.80,239.97 L246.40,240.01 L247.00,240.05 L247.60,240.09 L248.20,240.13 L248.80,240.17 L249.40,240.21 L250.00,240.26 L250.61,240.30 L251.21,240.34 L251.81,240.38 L252.41,240.43 L253.01,240.47 L253.61,240.52 L254.21,240.56 L254.81,240.61 L255.41,240.65 L256.01,240.70 L256.61,240.74 L257.21,240.79 L257.81,240.84 L258.41,240.88 L259.01,240.93 L259.61,240.98 L260.21,241.02 L260.81,241.07 L261.41,241.12 L262.01,241.17 L262.62,241.22 L263.22,241.27 L263.82,241.32 L264.42,241.37 L265.02,241.42 L265.62,241.47 L266.22,241.52 L266.82,241.57 L267.42,241.63 L268.02,241.68 L268.62,241.73 L269.22,241.79 L269.82,241.84 L270.42,241.89 L271.02,241.95 L271.62,242.00 L272.22,242.06 L272.82,242.11 L273.42,242.17 L274.02,242.23 L274.63,242.28 L275.23,242.34 L275.83,242.40 L276.43,242.46 L277.03,242.51 L277.63,242.57 L278.23,242.63 L278.83,242.69 L279.43,242.75 L280.03,242.81 L280.63,242.87 L281.23,242.93 L281.83,243.00 L282.43,243.06 L283.03,243.12 L283.63,243.18 L284.23,243.25 L284.83,243.31 L285.43,243.38 L286.03,243.44 L286.64,243.51 L287.24,243.57 L287.84,243.64 L288.44,243.71 L289.04,243.77 L289.64,243.84 L290.24,243.91 L290.84,243.98 L291.44,244.05 L292.04,244.12 L292.64,244.19 L293.24,244.26 L293.84,244.33 L294.44,244.40 L295.04,244.47 L295.64,244.54 L296.24,244.62 L296.84,244.69 L297.44,244.76 L298.04,244.84 L298.65,244.91 L299.25,244.99 L299.85,245.06 L300.45,245.14 L301.05,245.22 L301.65,245.30 L302.25,245.38 L302.85,245.47 L303.45,245.55 L304.05,245.63 L304.65,245.71 L305.25,245.80 L305.85,245.88 L306.45,245.97 L307.05,246.05 L307.65,246.14 L308.25,246.22 L308.85,246.31 L309.45,246.40 L310.05,246.49 L310.66,246.58 L311.26,246.66 L311.86,246.75 L312.46,246.84 L313.06,246.94 L313.66,247.03 L314.26,247.12 L314.86,247.21 L315.46,247.31 L316.06,247.40 L316.66,247.50 L317.26,247.59 L317.86,247.69 L318.46,247.78 L319.06,247.88 L319.66,247.98 L320.26,248.08 L320.86,248.18 L321.46,248.27 L322.06,248.38 L322.67,248.48 L323.27,248.58 L323.87,248.68 L324.47,248.78 L325.07,248.89 L325.67,248.99 L326.27,249.10 L326.87,249.20 L327.47,249.31 L328.07,249.41 L328.67,249.52 L329.27,249.63 L329.87,249.74 L330.47,249.85 L331.07,249.96 L331.67,250.07 L332.27,250.18 L332.87,250.30 L333.47,250.41 L334.07,250.52 L334.68,250.64 L335.28,250.75 L335.88,250.87 L336.48,250.99 L337.08,251.10 L337.68,251.22 L338.28,251.34 L338.88,251.46 L339.48,251.58 L340.08,251.70 L340.68,251.82 L341.28,251.95 L341.88,252.07 L342.48,252.20 L343.08,252.32 L343.68,252.45 L344.28,252.57 L344.88,252.70 L345.48,252.83 L346.08,252.96 L346.69,253.09 L347.29,253.22 L347.89,253.35 L348.49,253.48 L349.09,253.62 L349.69,253.75 L350.29,253.88 L350.89,254.02 L351.49,254.16 L352.09,254.29 L352.69,254.43 L353.29,254.57 L353.89,254.71 L354.49,254.85 L355.09,254.99 L355.69,255.13 L356.29,255.28 L356.89,255.42 L357.49,255.57 L358.09,255.71 L358.70,255.86 L359.30,256.01 L359.90,256.15 L360.50,256.30 L361.10,256.45 L361.70,256.60 L362.30,256.76 L362.90,256.91 L363.50,257.06 L364.10,257.22 L364.70,257.37 L365.30,257.53 L365.90,257.69 L366.50,257.85 L367.10,258.01 L367.70,258.17 L368.30,258.33 L368.90,258.49 L369.50,258.65 L370.10,258.82 L370.71,258.98 L371.31,259.15 L371.91,259.31 L372.51,259.48 L373.11,259.65 L373.71,259.82 L374.31,259.99 L374.91,260.16 L375.51,260.34 L376.11,260.51 L376.71,260.68 L377.31,260.86 L377.91,261.04 L378.51,261.21 L379.11,261.39 L379.71,261.57 L380.31,261.75 L380.91,261.93 L381.51,262.12 L382.11,262.30 L382.72,262.49 L383.32,262.67 L383.92,262.86 L384.52,263.05 L385.12,263.24 L385.72,263.43 L386.32,263.62 L386.92,263.81 L387.52,264.00 L388.12,264.20 L388.72,264.39 L389.32,264.59 L389.92,264.79 L390.52,264.98 L391.12,265.18 L391.72,265.38 L392.32,265.59 L392.92,265.79 L393.52,265.99 L394.12,266.20 L394.73,266.40 L395.33,266.61 L395.93,266.82 L396.53,267.03 L397.13,267.24 L397.73,267.45 L398.33,267.66 L398.93,267.88 L399.53,268.09 L400.13,268.31 L400.73,268.53 L401.33,268.74 L401.93,268.96 L402.53,269.18 L403.13,269.41 L403.73,269.63 L404.33,269.85 L404.93,270.08 L405.53,270.31 L406.13,270.53 L406.74,270.76 L407.34,270.99 L407.94,271.22 L408.54,271.45 L409.14,271.69 L409.74,271.92 L410.34,272.16 L410.94,272.40 L411.54,272.63 L412.14,272.87 L412.74,273.11 L413.34,273.35 L413.94,273.60 L414.54,273.84 L415.14,274.09 L415.74,274.33 L416.34,274.58 L416.94,274.83 L417.54,275.08 L418.14,275.33 L418.75,275.58 L419.35,275.84 L419.95,276.09 L420.55,276.35 L421.15,276.60 L421.75,276.86 L422.35,277.12 L422.95,277.38 L423.55,277.64 L424.15,277.91 L424.75,278.17 L425.35,278.44 L425.95,278.70 L426.55,278.97 L427.15,279.24 L427.75,279.51 L428.35,279.78 L428.95,280.06 L429.55,280.33 L430.15,280.61 L430.76,280.88 L431.36,281.16 L431.96,281.44 L432.56,281.72 L433.16,282.00 L433.76,282.28 L434.36,282.57 L434.96,282.85 L435.56,283.14 L436.16,283.43 L436.76,283.72 L437.36,284.01 L437.96,284.30 L438.56,284.59 L439.16,284.88 L439.76,285.18 L440.36,285.48 L440.96,285.77 L441.56,286.07 L442.16,286.37 L442.77,286.67 L443.37,286.98 L443.97,287.28 L444.57,287.58 L445.17,287.89 L445.77,288.20 L446.37,288.51 L446.97,288.81 L447.57,289.13 L448.17,289.44 L448.77,289.75 L449.37,290.07 L449.97,290.38 L450.57,290.70 L451.17,291.02 L451.77,291.33 L452.37,291.65 L452.97,291.98 L453.57,292.30 L454.17,292.62 L454.78,292.95 L455.38,293.27 L455.98,293.60 L456.58,293.93 L457.18,294.26 L457.78,294.59 L458.38,294.92 L458.98,295.25 L459.58,295.59 L460.18,295.92 L460.78,296.26 L461.38,296.60 L461.98,296.94 L462.58,297.28 L463.18,297.62 L463.78,297.96 L464.38,298.31 L464.98,298.65 L465.58,299.00 L466.18,299.34 L466.79,299.69 L467.39,300.04 L467.99,300.39 L468.59,300.74 L469.19,301.10 L469.79,301.45 L470.39,301.80 L470.99,302.16 L471.59,302.52 L472.19,302.88 L472.79,303.24 L473.39,303.60 L473.99,303.96 L474.59,304.32 L475.19,304.68 L475.79,305.05 L476.39,305.41 L476.99,305.78 L477.59,306.15 L478.19,306.52 L478.80,306.89 L479.40,307.26 L480.00,307.63 L480.60,308.00 L481.20,308.38 L481.80,308.75 L482.40,309.13 L483.00,309.51 L483.60,309.89 L484.20,310.27 L484.80,310.65 L485.40,311.03 L486.00,311.41 L486.60,311.79 L487.20,312.18 L487.80,312.56 L488.40,312.95 L489.00,313.34 L489.60,313.72 L490.20,314.11 L490.81,314.50 L491.41,314.90 L492.01,315.29 L492.61,315.68 L493.21,316.07 L493.81,316.47 L494.41,316.86 L495.01,317.26 L495.61,317.66 L496.21,318.06 L496.81,318.46 L497.41,318.86 L498.01,319.26 L498.61,319.66 L499.21,320.06 L499.81,320.47 L500.41,320.87 L501.01,321.28 L501.61,321.68 L502.21,322.09 L502.82,322.49 L503.42,322.90 L504.02,323.31 L504.62,323.72 L505.22,324.13 L505.82,324.54 L506.42,324.95 L507.02,325.37 L507.62,325.78 L508.22,326.19 L508.82,326.61 L509.42,327.02 L510.02,327.44 L510.62,327.86 L511.22,328.28 L511.82,328.70 L512.42,329.12 L513.02,329.54 L513.62,329.96 L514.22,330.38 L514.83,330.80 L515.43,331.22 L516.03,331.65 L516.63,332.07 L517.23,332.50 L517.83,332.92 L518.43,333.35 L519.03,333.78 L519.63,334.21 L520.23,334.64 L520.83,335.07 L521.43,335.50 L522.03,335.93 L522.63,336.36 L523.23,336.79 L523.83,337.22 L524.43,337.66 L525.03,338.09 L525.63,338.53 L526.23,338.96 L526.84,339.40 L527.44,339.83 L528.04,340.27 L528.64,340.71 L529.24,341.15 L529.84,341.59 L530.44,342.03 L531.04,342.47 L531.64,342.91 L532.24,343.35 L532.84,343.79 L533.44,344.23 L534.04,344.68 L534.64,345.12 L535.24,345.56 L535.84,346.01 L536.44,346.45 L537.04,346.90 L537.64,347.35 L538.24,347.79 L538.85,348.24 L539.45,348.69 L540.05,349.14 L540.65,349.58 L541.25,350.03 L541.85,350.48 L542.45,350.93 L543.05,351.38 L543.65,351.84 L544.25,352.29 L544.85,352.74 L545.45,353.19 L546.05,353.65 L546.65,354.10 L547.25,354.55 L547.85,355.01 L548.45,355.46 L549.05,355.92 L549.65,356.37 L550.25,356.83 L550.86,357.29 L551.46,357.74 L552.06,358.20 L552.66,358.66 L553.26,359.12 L553.86,359.58 L554.46,360.04 L555.06,360.49 L555.66,360.95 L556.26,361.42 L556.86,361.88 L557.46,362.34 L558.06,362.80 L558.66,363.26 L559.26,363.72 L559.86,364.19 L560.46,364.65 L561.06,365.11 L561.66,365.58 L562.26,366.04 L562.87,366.50 L563.47,366.97 L564.07,367.43 L564.67,367.90 L565.27,368.37 L565.87,368.83 L566.47,369.30 L567.07,369.76 L567.67,370.23 L568.27,370.70 L568.87,371.17 L569.47,371.64 L570.07,372.10 L570.67,372.57 L571.27,373.04 L571.87,373.51 L572.47,373.98 L573.07,374.45 L573.67,374.92 L574.27,375.39 L574.88,375.86 L575.48,376.33 L576.08,376.80 L576.68,377.28 L577.28,377.75 L577.88,378.22 L578.48,378.69 L579.08,379.16 L579.68,379.64 L580.28,380.11 L580.88,380.58 L581.48,381.06 L582.08,381.53 L582.68,382.01 L583.28,382.48 L583.88,382.96 L584.48,383.43 L585.08,383.91 L585.68,384.38 L586.28,384.86 L586.89,385.33 L587.49,385.81 L588.09,386.29 L588.69,386.76 L589.29,387.24 L589.89,387.72 L590.49,388.19 L591.09,388.67 L591.69,389.15 L592.29,389.63 L592.89,390.11 L593.49,390.58 L594.09,391.06 L594.69,391.54 L595.29,392.02 L595.89,392.50 L596.49,392.98 L597.09,393.46 L597.69,393.94 L598.29,394.42 L598.90,394.90 L599.50,395.38 L600.10,395.86 L600.70,396.34 L601.30,396.82 L601.90,397.30 L602.50,397.78 L603.10,398.27 L603.70,398.75 L604.30,399.23 L604.90,399.71 L605.50,400.19 L606.10,400.68 L606.70,401.16 L607.30,401.64 L607.90,402.12 L608.50,402.61 L609.10,403.09 L609.70,403.57 L610.30,404.06 L610.91,404.54 L611.51,405.02 L612.11,405.51 L612.71,405.99 L613.31,406.48 L613.91,406.96 L614.51,407.44 L615.11,407.93 L615.71,408.41 L616.31,408.90 L616.91,409.38 L617.51,409.87 L618.11,410.35 L618.71,410.84 L619.31,411.33 L619.91,411.81 L620.51,412.30 L621.11,412.78 L621.71,413.27 L622.31,413.76 L622.92,414.24 L623.52,414.73 L624.12,415.21 L624.72,415.70 L625.32,416.19 L625.92,416.67 L626.52,417.16 L627.12,417.65 L627.72,418.14 L628.32,418.62 L628.92,419.11 L629.52,419.60 L630.12,420.09 L630.72,420.57 L631.32,421.06 L631.92,421.55 L632.52,422.04 L633.12,422.53 L633.72,423.01 L634.32,423.50 L634.93,423.99 L635.53,424.48 L636.13,424.97 L636.73,425.46 L637.33,425.95 L637.93,426.44 L638.53,426.92 L639.13,427.41 L639.73,427.90 L640.33,428.39 L640.93,428.88 L641.53,429.37 L642.13,429.86 L642.73,430.35 L643.33,430.84 L643.93,431.33 L644.53,431.82 L645.13,432.31 L645.73,432.80 L646.33,433.29 L646.94,433.78 L647.54,434.27 L648.14,434.76 L648.74,435.25 L649.34,435.74 L649.94,436.23 L650.54,436.72 L651.14,437.21 L651.74,437.70 L652.34,438.19 L652.94,438.69 L653.54,439.18 L654.14,439.67 L654.74,440.16 L655.34,440.65 L655.94,441.14 L656.54,441.63 L657.14,442.12 L657.74,442.61 L658.34,443.11 L658.95,443.60 L659.55,444.09 L660.15,444.58 L660.75,445.07 L661.35,445.56 L661.95,446.06 L662.55,446.55 L663.15,447.04 L663.75,447.53 L664.35,448.02 L664.95,448.52 L665.55,449.01 L666.15,449.50 L666.75,449.99 L667.35,450.48 L667.95,450.98 L668.55,451.47 L669.15,451.96 L669.75,452.45 L670.35,452.95 L670.96,453.44 L671.56,453.93 L672.16,454.42 L672.76,454.92 L673.36,455.41 L673.96,455.90 L674.56,456.39 L675.16,456.89 L675.76,457.38 L676.36,457.87 L676.96,458.37 L677.56,458.86 L678.16,459.35 L678.76,459.84 L679.36,460.34 L679.96,460.83 L680.56,461.32 L681.16,461.82 L681.76,462.31 L682.36,462.80 L682.97,463.30 L683.57,463.79 L684.17,464.28 L684.77,464.78 L685.37,465.27 L685.97,465.76 L686.57,466.26 L687.17,466.75 L687.77,467.24 L688.37,467.74 L688.97,468.23 L689.57,468.73 L690.17,469.22 L690.77,469.71 L691.37,470.21 L691.97,470.70 L692.57,471.19 L693.17,471.69 L693.77,472.18 L694.37,472.68 L694.98,473.17 L695.58,473.66 L696.18,474.16 L696.78,474.65 L697.38,475.14 L697.98,475.64 L698.58,476.13 L699.18,476.63 L699.78,477.12 L700.38,477.62 L700.98,478.11 L701.58,478.60 L702.18,479.10 L702.78,479.59 L703.38,480.09 L703.98,480.58 L704.58,481.07 L705.18,481.57 L705.78,482.06 L706.38,482.56 L706.99,483.05 L707.59,483.55 L708.19,484.04 L708.79,484.53 L709.39,485.03 L709.99,485.52 L710.59,486.02 L711.19,486.51 L711.79,487.01 L712.39,487.50 L712.99,488.00 L713.59,488.49 L714.19,488.98 L714.79,489.48 L715.39,489.97 L715.99,490.47 L716.59,490.96 L717.19,491.46 L717.79,491.95 L718.39,492.45 L719.00,492.94 L719.60,493.44 L720.20,493.93 L720.80,494.43 L721.40,494.92 L722.00,495.41 L722.60,495.91 L723.20,496.40 L723.80,496.90 L724.40,497.39 L725.00,497.89 L725.60,498.38 L726.20,498.88 L726.80,499.37 L727.40,499.87 L728.00,500.36 L728.60,500.86 L729.20,501.35 L729.80,501.85 L730.40,502.34 L731.01,502.84 L731.61,503.33 L732.21,503.83 L732.81,504.32 L733.41,504.81 L734.01,505.31 L734.61,505.80 L735.21,506.29 L735.81,506.79 L736.41,507.28 L737.01,507.78 L737.61,508.27 L738.21,508.76 L738.81,509.26 L739.41,509.75 L740.01,510.24 L740.61,510.74 L741.21,511.23 L741.81,511.73 L742.41,512.22 L743.02,512.71 L743.62,513.21 L744.22,513.70 L744.82,514.19 L745.42,514.69 L746.02,515.18 L746.62,515.68 L747.22,516.17 L747.82,516.66 L748.42,517.16 L749.02,517.65 L749.62,518.15 L750.22,518.64 L750.82,519.13 L751.42,519.63 L752.02,520.12 L752.62,520.61 L753.22,521.11 L753.82,521.60 L754.42,522.10 L755.03,522.59 L755.63,523.08 L756.23,523.58 L756.83,524.07 L757.43,524.57 L758.03,525.06 L758.63,525.55 L759.23,526.05 L759.83,526.54 L760.43,527.04 L761.03,527.53 L761.63,528.02 L762.23,528.52 L762.83,529.01 L763.43,529.51 L764.03,530.00 L764.63,530.49 L765.23,530.99 L765.83,531.48 L766.43,531.98 L767.04,532.47 L767.64,532.96 L768.24,533.46 L768.84,533.95 L769.44,534.45 L770.04,534.94 L770.64,535.43 L771.24,535.93 L771.84,536.42 L772.44,536.92 L773.04,537.41 L773.64,537.90 L774.24,538.40 L774.84,538.89 L775.44,539.39 L776.04,539.88 L776.64,540.37 L777.24,540.87 L777.84,541.36 L778.44,541.86 L779.05,542.35 L779.65,542.85 L780.25,543.34 L780.85,543.83 L781.45,544.33 L782.05,544.82 L782.65,545.32 L783.25,545.81 L783.85,546.30 L784.45,546.80 L785.05,547.29 L785.65,547.79 L786.25,548.28 L786.85,548.77 L787.45,549.27 L788.05,549.76 L788.65,550.26 L789.25,550.75 L789.85,551.25 L790.45,551.74 L791.06,552.23 L791.66,552.73 L792.26,553.22 L792.86,553.72 L793.46,554.21 L794.06,554.70 L794.66,555.20 L795.26,555.69 L795.86,556.19 L796.46,556.68 L797.06,557.18 L797.66,557.67 L798.26,558.16 L798.86,558.66 L799.46,559.15 L800.06,559.65 L800.66,560.14 L801.26,560.63 L801.86,561.13 L802.46,561.62 L803.07,562.12 L803.67,562.61 L804.27,563.11 L804.87,563.60 L805.47,564.09 L806.07,564.59 L806.67,565.08 L807.27,565.58 L807.87,566.07 L808.47,566.56 L809.07,567.06 L809.67,567.55 L810.27,568.05 L810.87,568.54 L811.47,569.04 L812.07,569.53 L812.67,570.02 L813.27,570.52 L813.87,571.01 L814.47,571.51 L815.08,572.00 L815.68,572.50 L816.28,572.99 L816.88,573.48 L817.48,573.98 L818.08,574.47 L818.68,574.97 L819.28,575.46 L819.88,575.95 L820.48,576.45 L821.08,576.94 L821.68,577.44 L822.28,577.93 L822.88,578.43 L823.48,578.92 L824.08,579.41 L824.68,579.91 L825.28,580.40 L825.88,580.90 L826.48,581.39 L827.09,581.89 L827.69,582.38 L828.29,582.87 L828.89,583.37 L829.49,583.86 L830.09,584.36 L830.69,584.85 L831.29,585.35 L831.89,585.84 L832.49,586.33 L833.09,586.83 L833.69,587.32 L834.29,587.82 L834.89,588.31 L835.49,588.81 L836.09,589.30 L836.69,589.79 L837.29,590.29 L837.89,590.78 L838.49,591.28 L839.10,591.77 L839.70,592.26 L840.30,592.76 L840.90,593.25 L841.50,593.75 L842.10,594.24 L842.70,594.74 L843.30,595.23 L843.90,595.72 L844.50,596.22" fill="none" stroke="#0000ff" stroke-width="3.8" stroke-linejoin="round"/>
<path d="M124.50,171.55 L125.10,171.53 L125.70,171.50 L126.30,171.48 L126.90,171.45 L127.50,171.43 L128.10,171.40 L128.70,171.38 L129.30,171.35 L129.90,171.32 L130.51,171.30 L131.11,171.27 L131.71,171.24 L132.31,171.22 L132.91,171.19 L133.51,171.16 L134.11,171.13 L134.71,171.11 L135.31,171.08 L135.91,171.05 L136.51,171.02 L137.11,170.99 L137.71,170.96 L138.31,170.93 L138.91,170.90 L139.51,170.87 L140.11,170.84 L140.71,170.81 L141.31,170.78 L141.91,170.75 L142.52,170.72 L143.12,170.69 L143.72,170.65 L144.32,170.62 L144.92,170.59 L145.52,170.56 L146.12,170.52 L146.72,170.49 L147.32,170.46 L147.92,170.42 L148.52,170.39 L149.12,170.36 L149.72,170.32 L150.32,170.29 L150.92,170.25 L151.52,170.22 L152.12,170.18 L152.72,170.14 L153.32,170.11 L153.92,170.07 L154.53,170.04 L155.13,170.00 L155.73,169.96 L156.33,169.92 L156.93,169.89 L157.53,169.85 L158.13,169.81 L158.73,169.77 L159.33,169.73 L159.93,169.69 L160.53,169.65 L161.13,169.61 L161.73,169.57 L162.33,169.53 L162.93,169.49 L163.53,169.45 L164.13,169.40 L164.73,169.36 L165.33,169.32 L165.93,169.27 L166.54,169.23 L167.14,169.19 L167.74,169.14 L168.34,169.10 L168.94,169.05 L169.54,169.01 L170.14,168.96 L170.74,168.92 L171.34,168.87 L171.94,168.82 L172.54,168.78 L173.14,168.73 L173.74,168.68 L174.34,168.63 L174.94,168.58 L175.54,168.53 L176.14,168.49 L176.74,168.44 L177.34,168.38 L177.94,168.33 L178.55,168.28 L179.15,168.23 L179.75,168.18 L180.35,168.13 L180.95,168.07 L181.55,168.02 L182.15,167.97 L182.75,167.91 L183.35,167.86 L183.95,167.80 L184.55,167.75 L185.15,167.69 L185.75,167.63 L186.35,167.57 L186.95,167.52 L187.55,167.46 L188.15,167.40 L188.75,167.34 L189.35,167.28 L189.95,167.22 L190.56,167.16 L191.16,167.10 L191.76,167.04 L192.36,166.97 L192.96,166.91 L193.56,166.85 L194.16,166.78 L194.76,166.72 L195.36,166.65 L195.96,166.59 L196.56,166.52 L197.16,166.46 L197.76,166.39 L198.36,166.32 L198.96,166.25 L199.56,166.18 L200.16,166.11 L200.76,166.04 L201.36,165.97 L201.96,165.90 L202.57,165.83 L203.17,165.76 L203.77,165.68 L204.37,165.61 L204.97,165.53 L205.57,165.46 L206.17,165.38 L206.77,165.30 L207.37,165.23 L207.97,165.15 L208.57,165.07 L209.17,164.99 L209.77,164.91 L210.37,164.83 L210.97,164.75 L211.57,164.67 L212.17,164.58 L212.77,164.50 L213.37,164.41 L213.97,164.33 L214.58,164.24 L215.18,164.16 L215.78,164.07 L216.38,163.98 L216.98,163.89 L217.58,163.80 L218.18,163.71 L218.78,163.62 L219.38,163.53 L219.98,163.43 L220.58,163.34 L221.18,163.24 L221.78,163.15 L222.38,163.05 L222.98,162.95 L223.58,162.85 L224.18,162.75 L224.78,162.65 L225.38,162.55 L225.98,162.45 L226.59,162.35 L227.19,162.24 L227.79,162.14 L228.39,162.03 L228.99,161.93 L229.59,161.82 L230.19,161.71 L230.79,161.60 L231.39,161.49 L231.99,161.38 L232.59,161.26 L233.19,161.15 L233.79,161.03 L234.39,160.92 L234.99,160.80 L235.59,160.68 L236.19,160.56 L236.79,160.44 L237.39,160.32 L237.99,160.20 L238.60,160.07 L239.20,159.95 L239.80,159.82 L240.40,159.69 L241.00,159.56 L241.60,159.43 L242.20,159.30 L242.80,159.17 L243.40,159.03 L244.00,158.90 L244.60,158.76 L245.20,158.63 L245.80,158.49 L246.40,158.35 L247.00,158.20 L247.60,158.06 L248.20,157.92 L248.80,157.77 L249.40,157.62 L250.00,157.47 L250.61,157.32 L251.21,157.17 L251.81,157.02 L252.41,156.86 L253.01,156.70 L253.61,156.55 L254.21,156.39 L254.81,156.23 L255.41,156.06 L256.01,155.90 L256.61,155.73 L257.21,155.56 L257.81,155.39 L258.41,155.22 L259.01,155.05 L259.61,154.87 L260.21,154.70 L260.81,154.52 L261.41,154.34 L262.01,154.16 L262.62,153.97 L263.22,153.79 L263.82,153.60 L264.42,153.41 L265.02,153.22 L265.62,153.02 L266.22,152.83 L266.82,152.63 L267.42,152.43 L268.02,152.23 L268.62,152.02 L269.22,151.81 L269.82,151.61 L270.42,151.40 L271.02,151.18 L271.62,150.97 L272.22,150.75 L272.82,150.53 L273.42,150.30 L274.02,150.08 L274.63,149.85 L275.23,149.62 L275.83,149.39 L276.43,149.15 L277.03,148.92 L277.63,148.68 L278.23,148.43 L278.83,148.19 L279.43,147.94 L280.03,147.69 L280.63,147.43 L281.23,147.17 L281.83,146.91 L282.43,146.65 L283.03,146.38 L283.63,146.11 L284.23,145.84 L284.83,145.56 L285.43,145.29 L286.03,145.00 L286.64,144.72 L287.24,144.43 L287.84,144.14 L288.44,143.84 L289.04,143.54 L289.64,143.24 L290.24,142.93 L290.84,142.62 L291.44,142.30 L292.04,141.98 L292.64,141.66 L293.24,141.34 L293.84,141.00 L294.44,140.67 L295.04,140.33 L295.64,139.99 L296.24,139.64 L296.84,139.29 L297.44,138.93 L298.04,138.57 L298.65,138.20 L299.25,137.83 L299.85,137.46 L300.45,137.08 L301.05,136.69 L301.65,136.30 L302.25,135.90 L302.85,135.50 L303.45,135.09 L304.05,134.68 L304.65,134.26 L305.25,133.84 L305.85,133.41 L306.45,132.97 L307.05,132.53 L307.65,132.08 L308.25,131.62 L308.85,131.16 L309.45,130.69 L310.05,130.22 L310.66,129.73 L311.26,129.24 L311.86,128.75 L312.46,128.24 L313.06,127.73 L313.66,127.21 L314.26,126.68 L314.86,126.14 L315.46,125.60 L316.06,125.04 L316.66,124.48 L317.26,123.91 L317.86,123.33 L318.46,122.74 L319.06,122.14 L319.66,121.53 L320.26,120.91 L320.86,120.27 L321.46,119.63 L322.06,118.98 L322.67,118.31 L323.27,117.64 L323.87,116.95 L324.47,116.24 L325.07,115.53 L325.67,114.80 L326.27,114.06 L326.87,113.30 L327.47,112.53 L328.07,111.75 L328.67,110.95 L329.27,110.13 L329.87,109.30 L330.47,108.45 L331.07,107.58 L331.67,106.70 L332.27,105.79 L332.87,104.87 L333.47,103.92 L334.07,102.96 L334.68,101.97 L335.28,100.96 L335.88,99.93 L336.48,98.87 L337.08,97.79 L337.68,96.68 L338.28,95.54 L338.88,94.38 L339.48,93.18 L340.08,91.95 L340.68,90.69 L341.28,89.40 L341.88,88.07 L342.48,86.70 L343.08,85.29 L343.68,83.84 L344.28,82.35 L344.88,80.81 L345.48,79.22 L346.08,77.58 L346.69,75.88 L347.29,74.13 L347.89,72.31 L348.49,70.43 L349.09,68.48 L349.69,66.45 L350.29,64.34 L350.89,62.14 L351.49,59.85 L352.09,57.46 L352.69,54.96 L353.29,52.34 L353.89,49.58 L354.49,46.69 L355.09,43.63 L355.69,40.41 L356.29,36.98 L356.89,33.34 L357.49,29.45 L358.09,25.28 L358.70,20.79 L359.30,15.93 L359.90,10.63 L360.50,4.82 L361.10,-1.62 L361.70,-8.83 L362.30,-17.01 L362.90,-26.45 L363.50,-37.61 L364.10,-51.21 L364.70,-68.62 L365.30,-92.76 L365.90,-132.21 L366.50,-255.09 L367.10,-300.00 L367.70,-300.00 L368.30,-300.00 L368.90,-300.00 L369.50,-300.00 L370.10,-300.00 L370.71,-300.00 L371.31,-300.00 L371.91,-300.00 L372.51,-300.00 L373.11,-300.00 L373.71,-300.00 L374.31,-300.00 L374.91,-300.00 L375.51,-300.00 L376.11,-300.00 L376.71,-300.00 L377.31,-300.00 L377.91,-300.00 L378.51,-300.00 L379.11,-300.00 L379.71,-300.00 L380.31,-300.00 L380.91,-300.00 L381.51,-300.00 L382.11,-300.00 L382.72,-300.00 L383.32,-300.00 L383.92,-300.00 L384.52,-300.00 L385.12,-300.00 L385.72,-300.00 L386.32,-300.00 L386.92,-300.00 L387.52,-300.00 L388.12,-300.00 L388.72,-300.00 L389.32,-300.00 L389.92,-300.00 L390.52,-300.00 L391.12,-300.00 L391.72,-300.00 L392.32,-300.00 L392.92,-300.00 L393.52,-300.00 L394.12,-300.00 L394.73,-300.00 L395.33,-300.00 L395.93,-300.00 L396.53,-300.00 L397.13,-300.00 L397.73,-300.00 L398.33,-300.00 L398.93,-300.00 L399.53,-300.00 L400.13,-300.00 L400.73,-300.00 L401.33,-300.00 L401.93,-300.00 L402.53,-300.00 L403.13,-300.00 L403.73,-300.00 L404.33,-300.00 L404.93,-300.00 L405.53,-300.00 L406.13,-300.00 L406.74,-300.00 L407.34,-300.00 L407.94,-300.00 L408.54,-300.00 L409.14,-300.00 L409.74,-300.00 L410.34,-300.00 L410.94,-300.00 L411.54,-300.00 L412.14,-300.00 L412.74,-300.00 L413.34,-300.00 L413.94,-300.00 L414.54,-300.00 L415.14,-300.00 L415.74,-300.00 L416.34,-300.00 L416.94,-300.00 L417.54,-300.00 L418.14,-300.00 L418.75,-300.00 L419.35,-300.00 L419.95,-300.00 L420.55,-300.00 L421.15,-300.00 L421.75,-300.00 L422.35,-300.00 L422.95,-300.00 L423.55,-300.00 L424.15,-300.00 L424.75,-300.00 L425.35,-300.00 L425.95,-300.00 L426.55,-300.00 L427.15,-300.00 L427.75,-300.00 L428.35,-300.00 L428.95,-300.00 L429.55,-300.00 L430.15,-300.00 L430.76,-300.00 L431.36,-300.00 L431.96,-300.00 L432.56,-300.00 L433.16,-300.00 L433.76,-300.00 L434.36,-300.00 L434.96,-300.00 L435.56,-300.00 L436.16,-300.00 L436.76,-300.00 L437.36,-300.00 L437.96,-300.00 L438.56,-300.00 L439.16,-300.00 L439.76,-300.00 L440.36,-300.00 L440.96,-300.00 L441.56,-300.00 L442.16,-300.00 L442.77,-300.00 L443.37,-300.00 L443.97,-300.00 L444.57,-300.00 L445.17,-300.00 L445.77,-300.00 L446.37,-300.00 L446.97,-300.00 L447.57,-300.00 L448.17,-300.00 L448.77,-300.00 L449.37,-300.00 L449.97,-300.00 L450.57,-300.00 L451.17,-300.00 L451.77,-300.00 L452.37,-300.00 L452.97,-300.00 L453.57,-300.00 L454.17,-300.00 L454.78,-300.00 L455.38,-300.00 L455.98,60.59 L456.58,69.14 L457.18,77.69 L457.78,86.24 L458.38,94.79 L458.98,98.88 L459.58,102.75 L460.18,106.42 L460.78,109.92 L461.38,113.25 L461.98,116.43 L462.58,119.49 L463.18,122.42 L463.78,125.24 L464.38,127.96 L464.98,130.58 L465.58,133.11 L466.18,135.56 L466.79,137.94 L467.39,140.25 L467.99,142.48 L468.59,144.66 L469.19,146.77 L469.79,148.84 L470.39,150.84 L470.99,152.80 L471.59,154.72 L472.19,156.58 L472.79,158.41 L473.39,160.19 L473.99,161.94 L474.59,163.65 L475.19,165.33 L475.79,166.97 L476.39,168.59 L476.99,170.17 L477.59,171.72 L478.19,173.25 L478.80,174.75 L479.40,176.22 L480.00,177.67 L480.60,179.09 L481.20,180.50 L481.80,181.88 L482.40,183.24 L483.00,184.58 L483.60,185.90 L484.20,187.20 L484.80,188.48 L485.40,189.75 L486.00,191.00 L486.60,192.23 L487.20,193.45 L487.80,194.65 L488.40,195.83 L489.00,197.00 L489.60,198.16 L490.20,199.30 L490.81,200.43 L491.41,201.55 L492.01,202.66 L492.61,203.75 L493.21,204.83 L493.81,205.90 L494.41,206.96 L495.01,208.01 L495.61,209.05 L496.21,210.07 L496.81,211.09 L497.41,212.10 L498.01,213.09 L498.61,214.08 L499.21,215.06 L499.81,216.03 L500.41,217.00 L501.01,217.95 L501.61,218.90 L502.21,219.83 L502.82,220.76 L503.42,221.69 L504.02,222.60 L504.62,223.51 L505.22,224.41 L505.82,225.30 L506.42,226.19 L507.02,227.07 L507.62,227.95 L508.22,228.81 L508.82,229.68 L509.42,230.53 L510.02,231.38 L510.62,232.22 L511.22,233.06 L511.82,233.89 L512.42,234.72 L513.02,235.54 L513.62,236.36 L514.22,237.17 L514.83,237.98 L515.43,238.78 L516.03,239.58 L516.63,240.37 L517.23,241.15 L517.83,241.94 L518.43,242.72 L519.03,243.49 L519.63,244.26 L520.23,245.02 L520.83,245.79 L521.43,246.54 L522.03,247.30 L522.63,248.05 L523.23,248.79 L523.83,249.53 L524.43,250.27 L525.03,251.01 L525.63,251.74 L526.23,252.46 L526.84,253.19 L527.44,253.91 L528.04,254.63 L528.64,255.34 L529.24,256.05 L529.84,256.76 L530.44,257.46 L531.04,258.16 L531.64,258.86 L532.24,259.56 L532.84,260.25 L533.44,260.94 L534.04,261.63 L534.64,262.31 L535.24,262.99 L535.84,263.67 L536.44,264.35 L537.04,265.02 L537.64,265.69 L538.24,266.36 L538.85,267.03 L539.45,267.69 L540.05,268.35 L540.65,269.01 L541.25,269.67 L541.85,270.33 L542.45,270.98 L543.05,271.63 L543.65,272.28 L544.25,272.92 L544.85,273.57 L545.45,274.21 L546.05,274.85 L546.65,275.49 L547.25,276.12 L547.85,276.76 L548.45,277.39 L549.05,278.02 L549.65,278.65 L550.25,279.27 L550.86,279.90 L551.46,280.52 L552.06,281.14 L552.66,281.76 L553.26,282.38 L553.86,283.00 L554.46,283.61 L555.06,284.22 L555.66,284.84 L556.26,285.45 L556.86,286.05 L557.46,286.66 L558.06,287.27 L558.66,287.87 L559.26,288.47 L559.86,289.07 L560.46,289.67 L561.06,290.27 L561.66,290.87 L562.26,291.46 L562.87,292.06 L563.47,292.65 L564.07,293.24 L564.67,293.83 L565.27,294.42 L565.87,295.01 L566.47,295.59 L567.07,296.18 L567.67,296.76 L568.27,297.35 L568.87,297.93 L569.47,298.51 L570.07,299.09 L570.67,299.67 L571.27,300.24 L571.87,300.82 L572.47,301.39 L573.07,301.97 L573.67,302.54 L574.27,303.11 L574.88,303.68 L575.48,304.25 L576.08,304.82 L576.68,305.39 L577.28,305.96 L577.88,306.52 L578.48,307.09 L579.08,307.65 L579.68,308.22 L580.28,308.78 L580.88,309.34 L581.48,309.90 L582.08,310.46 L582.68,311.02 L583.28,311.58 L583.88,312.13 L584.48,312.69 L585.08,313.25 L585.68,313.80 L586.28,314.36 L586.89,314.91 L587.49,315.46 L588.09,316.01 L588.69,316.56 L589.29,317.11 L589.89,317.66 L590.49,318.21 L591.09,318.76 L591.69,319.31 L592.29,319.85 L592.89,320.40 L593.49,320.95 L594.09,321.49 L594.69,322.03 L595.29,322.58 L595.89,323.12 L596.49,323.66 L597.09,324.20 L597.69,324.74 L598.29,325.28 L598.90,325.82 L599.50,326.36 L600.10,326.90 L600.70,327.44 L601.30,327.98 L601.90,328.51 L602.50,329.05 L603.10,329.58 L603.70,330.12 L604.30,330.65 L604.90,331.19 L605.50,331.72 L606.10,332.25 L606.70,332.79 L607.30,333.32 L607.90,333.85 L608.50,334.38 L609.10,334.91 L609.70,335.44 L610.30,335.97 L610.91,336.50 L611.51,337.03 L612.11,337.56 L612.71,338.08 L613.31,338.61 L613.91,339.14 L614.51,339.66 L615.11,340.19 L615.71,340.72 L616.31,341.24 L616.91,341.77 L617.51,342.29 L618.11,342.81 L618.71,343.34 L619.31,343.86 L619.91,344.38 L620.51,344.91 L621.11,345.43 L621.71,345.95 L622.31,346.47 L622.92,346.99 L623.52,347.51 L624.12,348.03 L624.72,348.55 L625.32,349.07 L625.92,349.59 L626.52,350.11 L627.12,350.63 L627.72,351.14 L628.32,351.66 L628.92,352.18 L629.52,352.70 L630.12,353.21 L630.72,353.73 L631.32,354.25 L631.92,354.76 L632.52,355.28 L633.12,355.79 L633.72,356.31 L634.32,356.82 L634.93,357.34 L635.53,357.85 L636.13,358.36 L636.73,358.88 L637.33,359.39 L637.93,359.90 L638.53,360.42 L639.13,360.93 L639.73,361.44 L640.33,361.95 L640.93,362.47 L641.53,362.98 L642.13,363.49 L642.73,364.00 L643.33,364.51 L643.93,365.02 L644.53,365.53 L645.13,366.04 L645.73,366.55 L646.33,367.06 L646.94,367.57 L647.54,368.08 L648.14,368.59 L648.74,369.10 L649.34,369.61 L649.94,370.12 L650.54,370.62 L651.14,371.13 L651.74,371.64 L652.34,372.15 L652.94,372.66 L653.54,373.16 L654.14,373.67 L654.74,374.18 L655.34,374.68 L655.94,375.19 L656.54,375.70 L657.14,376.20 L657.74,376.71 L658.34,377.21 L658.95,377.72 L659.55,378.23 L660.15,378.73 L660.75,379.24 L661.35,379.74 L661.95,380.25 L662.55,380.75 L663.15,381.26 L663.75,381.76 L664.35,382.27 L664.95,382.77 L665.55,383.27 L666.15,383.78 L666.75,384.28 L667.35,384.78 L667.95,385.29 L668.55,385.79 L669.15,386.30 L669.75,386.80 L670.35,387.30 L670.96,387.80 L671.56,388.31 L672.16,388.81 L672.76,389.31 L673.36,389.81 L673.96,390.32 L674.56,390.82 L675.16,391.32 L675.76,391.82 L676.36,392.32 L676.96,392.83 L677.56,393.33 L678.16,393.83 L678.76,394.33 L679.36,394.83 L679.96,395.33 L680.56,395.83 L681.16,396.34 L681.76,396.84 L682.36,397.34 L682.97,397.84 L683.57,398.34 L684.17,398.84 L684.77,399.34 L685.37,399.84 L685.97,400.34 L686.57,400.84 L687.17,401.34 L687.77,401.84 L688.37,402.34 L688.97,402.84 L689.57,403.34 L690.17,403.84 L690.77,404.34 L691.37,404.84 L691.97,405.34 L692.57,405.84 L693.17,406.34 L693.77,406.84 L694.37,407.33 L694.98,407.83 L695.58,408.33 L696.18,408.83 L696.78,409.33 L697.38,409.83 L697.98,410.33 L698.58,410.83 L699.18,411.33 L699.78,411.82 L700.38,412.32 L700.98,412.82 L701.58,413.32 L702.18,413.82 L702.78,414.32 L703.38,414.81 L703.98,415.31 L704.58,415.81 L705.18,416.31 L705.78,416.81 L706.38,417.30 L706.99,417.80 L707.59,418.30 L708.19,418.80 L708.79,419.29 L709.39,419.79 L709.99,420.29 L710.59,420.79 L711.19,421.28 L711.79,421.78 L712.39,422.28 L712.99,422.78 L713.59,423.27 L714.19,423.77 L714.79,424.27 L715.39,424.77 L715.99,425.26 L716.59,425.76 L717.19,426.26 L717.79,426.75 L718.39,427.25 L719.00,427.75 L719.60,428.24 L720.20,428.74 L720.80,429.24 L721.40,429.73 L722.00,430.23 L722.60,430.73 L723.20,431.22 L723.80,431.72 L724.40,432.22 L725.00,432.71 L725.60,433.21 L726.20,433.71 L726.80,434.20 L727.40,434.70 L728.00,435.20 L728.60,435.69 L729.20,436.19 L729.80,436.69 L730.40,437.18 L731.01,437.68 L731.61,438.17 L732.21,438.67 L732.81,439.17 L733.41,439.66 L734.01,440.16 L734.61,440.66 L735.21,441.15 L735.81,441.65 L736.41,442.14 L737.01,442.64 L737.61,443.14 L738.21,443.63 L738.81,444.13 L739.41,444.62 L740.01,445.12 L740.61,445.61 L741.21,446.11 L741.81,446.61 L742.41,447.10 L743.02,447.60 L743.62,448.09 L744.22,448.59 L744.82,449.08 L745.42,449.58 L746.02,450.08 L746.62,450.57 L747.22,451.07 L747.82,451.56 L748.42,452.06 L749.02,452.55 L749.62,453.05 L750.22,453.54 L750.82,454.04 L751.42,454.54 L752.02,455.03 L752.62,455.53 L753.22,456.02 L753.82,456.52 L754.42,457.01 L755.03,457.51 L755.63,458.00 L756.23,458.50 L756.83,458.99 L757.43,459.49 L758.03,459.98 L758.63,460.48 L759.23,460.97 L759.83,461.47 L760.43,461.97 L761.03,462.46 L761.63,462.96 L762.23,463.45 L762.83,463.95 L763.43,464.44 L764.03,464.94 L764.63,465.43 L765.23,465.93 L765.83,466.42 L766.43,466.92 L767.04,467.41 L767.64,467.91 L768.24,468.40 L768.84,468.90 L769.44,469.39 L770.04,469.89 L770.64,470.38 L771.24,470.88 L771.84,471.37 L772.44,471.87 L773.04,472.36 L773.64,472.86 L774.24,473.35 L774.84,473.85 L775.44,474.34 L776.04,474.84 L776.64,475.33 L777.24,475.83 L777.84,476.32 L778.44,476.82 L779.05,477.31 L779.65,477.81 L780.25,478.30 L780.85,478.80 L781.45,479.29 L782.05,479.79 L782.65,480.28 L783.25,480.77 L783.85,481.27 L784.45,481.76 L785.05,482.26 L785.65,482.75 L786.25,483.25 L786.85,483.74 L787.45,484.24 L788.05,484.73 L788.65,485.23 L789.25,485.72 L789.85,486.22 L790.45,486.71 L791.06,487.21 L791.66,487.70 L792.26,488.20 L792.86,488.69 L793.46,489.19 L794.06,489.68 L794.66,490.17 L795.26,490.67 L795.86,491.16 L796.46,491.66 L797.06,492.15 L797.66,492.65 L798.26,493.14 L798.86,493.64 L799.46,494.13 L800.06,494.63 L800.66,495.12 L801.26,495.62 L801.86,496.11 L802.46,496.61 L803.07,497.10 L803.67,497.59 L804.27,498.09 L804.87,498.58 L805.47,499.08 L806.07,499.57 L806.67,500.07 L807.27,500.56 L807.87,501.06 L808.47,501.55 L809.07,502.05 L809.67,502.54 L810.27,503.03 L810.87,503.53 L811.47,504.02 L812.07,504.52 L812.67,505.01 L813.27,505.51 L813.87,506.00 L814.47,506.50 L815.08,506.99 L815.68,507.49 L816.28,507.98 L816.88,508.47 L817.48,508.97 L818.08,509.46 L818.68,509.96 L819.28,510.45 L819.88,510.95 L820.48,511.44 L821.08,511.94 L821.68,512.43 L822.28,512.93 L822.88,513.42 L823.48,513.91 L824.08,514.41 L824.68,514.90 L825.28,515.40 L825.88,515.89 L826.48,516.39 L827.09,516.88 L827.69,517.38 L828.29,517.87 L828.89,518.36 L829.49,518.86 L830.09,519.35 L830.69,519.85 L831.29,520.34 L831.89,520.84 L832.49,521.33 L833.09,521.83 L833.69,522.32 L834.29,522.81 L834.89,523.31 L835.49,523.80 L836.09,524.30 L836.69,524.79 L837.29,525.29 L837.89,525.78 L838.49,526.28 L839.10,526.77 L839.70,527.26 L840.30,527.76 L840.90,528.25 L841.50,528.75 L842.10,529.24 L842.70,529.74 L843.30,530.23 L843.90,530.73 L844.50,531.22" fill="none" stroke="#0000ff" stroke-width="3.8" stroke-linejoin="round"/>
<path d="M124.50,400.40 L125.10,400.40 L125.70,400.40 L126.30,400.40 L126.90,400.40 L127.50,400.40 L128.10,400.40 L128.70,400.40 L129.30,400.40 L129.90,400.40 L130.51,400.40 L131.11,400.40 L131.71,400.40 L132.31,400.40 L132.91,400.40 L133.51,400.40 L134.11,400.40 L134.71,400.40 L135.31,400.40 L135.91,400.40 L136.51,400.40 L137.11,400.40 L137.71,400.40 L138.31,400.40 L138.91,400.40 L139.51,400.40 L140.11,400.40 L140.71,400.40 L141.31,400.40 L141.91,400.40 L142.52,400.40 L143.12,400.40 L143.72,400.40 L144.32,400.40 L144.92,400.40 L145.52,400.40 L146.12,400.40 L146.72,400.40 L147.32,400.40 L147.92,400.40 L148.52,400.40 L149.12,400.40 L149.72,400.40 L150.32,400.40 L150.92,400.40 L151.52,400.40 L152.12,400.40 L152.72,400.40 L153.32,400.40 L153.92,400.40 L154.53,400.40 L155.13,400.40 L155.73,400.40 L156.33,400.40 L156.93,400.40 L157.53,400.40 L158.13,400.40 L158.73,400.40 L159.33,400.40 L159.93,400.40 L160.53,400.40 L161.13,400.40 L161.73,400.40 L162.33,400.40 L162.93,400.40 L163.53,400.40 L164.13,400.40 L164.73,400.40 L165.33,400.40 L165.93,400.40 L166.54,400.40 L167.14,400.40 L167.74,400.40 L168.34,400.40 L168.94,400.40 L169.54,400.40 L170.14,400.40 L170.74,400.40 L171.34,400.40 L171.94,400.40 L172.54,400.40 L173.14,400.40 L173.74,400.40 L174.34,400.40 L174.94,400.40 L175.54,400.40 L176.14,400.40 L176.74,400.40 L177.34,400.40 L177.94,400.40 L178.55,400.40 L179.15,400.40 L179.75,400.40 L180.35,400.40 L180.95,400.40 L181.55,400.40 L182.15,400.40 L182.75,400.40 L183.35,400.40 L183.95,400.40 L184.55,400.40 L185.15,400.40 L185.75,400.40 L186.35,400.41 L186.95,400.41 L187.55,400.41 L188.15,400.41 L188.75,400.41 L189.35,400.41 L189.95,400.41 L190.56,400.41 L191.16,400.41 L191.76,400.41 L192.36,400.41 L192.96,400.41 L193.56,400.41 L194.16,400.41 L194.76,400.41 L195.36,400.41 L195.96,400.41 L196.56,400.41 L197.16,400.41 L197.76,400.41 L198.36,400.41 L198.96,400.41 L199.56,400.41 L200.16,400.41 L200.76,400.41 L201.36,400.41 L201.96,400.41 L202.57,400.41 L203.17,400.41 L203.77,400.41 L204.37,400.41 L204.97,400.41 L205.57,400.41 L206.17,400.41 L206.77,400.41 L207.37,400.41 L207.97,400.41 L208.57,400.41 L209.17,400.41 L209.77,400.41 L210.37,400.41 L210.97,400.41 L211.57,400.41 L212.17,400.41 L212.77,400.41 L213.37,400.41 L213.97,400.41 L214.58,400.41 L215.18,400.41 L215.78,400.41 L216.38,400.41 L216.98,400.41 L217.58,400.41 L218.18,400.41 L218.78,400.41 L219.38,400.41 L219.98,400.41 L220.58,400.41 L221.18,400.41 L221.78,400.41 L222.38,400.41 L222.98,400.41 L223.58,400.41 L224.18,400.41 L224.78,400.41 L225.38,400.41 L225.98,400.41 L226.59,400.41 L227.19,400.41 L227.79,400.41 L228.39,400.41 L228.99,400.41 L229.59,400.41 L230.19,400.41 L230.79,400.41 L231.39,400.41 L231.99,400.41 L232.59,400.41 L233.19,400.41 L233.79,400.41 L234.39,400.41 L234.99,400.41 L235.59,400.41 L236.19,400.41 L236.79,400.41 L237.39,400.41 L237.99,400.41 L238.60,400.41 L239.20,400.41 L239.80,400.41 L240.40,400.41 L241.00,400.41 L241.60,400.41 L242.20,400.41 L242.80,400.41 L243.40,400.41 L244.00,400.41 L244.60,400.41 L245.20,400.42 L245.80,400.42 L246.40,400.42 L247.00,400.42 L247.60,400.42 L248.20,400.42 L248.80,400.42 L249.40,400.42 L250.00,400.42 L250.61,400.42 L251.21,400.42 L251.81,400.42 L252.41,400.42 L253.01,400.42 L253.61,400.42 L254.21,400.42 L254.81,400.42 L255.41,400.42 L256.01,400.42 L256.61,400.42 L257.21,400.42 L257.81,400.42 L258.41,400.42 L259.01,400.42 L259.61,400.42 L260.21,400.42 L260.81,400.42 L261.41,400.42 L262.01,400.42 L262.62,400.42 L263.22,400.42 L263.82,400.42 L264.42,400.42 L265.02,400.42 L265.62,400.42 L266.22,400.42 L266.82,400.42 L267.42,400.42 L268.02,400.42 L268.62,400.42 L269.22,400.42 L269.82,400.42 L270.42,400.42 L271.02,400.42 L271.62,400.42 L272.22,400.42 L272.82,400.42 L273.42,400.42 L274.02,400.42 L274.63,400.42 L275.23,400.43 L275.83,400.43 L276.43,400.43 L277.03,400.43 L277.63,400.43 L278.23,400.43 L278.83,400.43 L279.43,400.43 L280.03,400.43 L280.63,400.43 L281.23,400.43 L281.83,400.43 L282.43,400.43 L283.03,400.43 L283.63,400.43 L284.23,400.43 L284.83,400.43 L285.43,400.43 L286.03,400.43 L286.64,400.43 L287.24,400.43 L287.84,400.43 L288.44,400.43 L289.04,400.43 L289.64,400.43 L290.24,400.43 L290.84,400.43 L291.44,400.43 L292.04,400.43 L292.64,400.43 L293.24,400.43 L293.84,400.43 L294.44,400.44 L295.04,400.44 L295.64,400.44 L296.24,400.44 L296.84,400.44 L297.44,400.44 L298.04,400.44 L298.65,400.44 L299.25,400.44 L299.85,400.44 L300.45,400.44 L301.05,400.44 L301.65,400.44 L302.25,400.44 L302.85,400.44 L303.45,400.44 L304.05,400.44 L304.65,400.44 L305.25,400.44 L305.85,400.44 L306.45,400.44 L307.05,400.44 L307.65,400.44 L308.25,400.44 L308.85,400.45 L309.45,400.45 L310.05,400.45 L310.66,400.45 L311.26,400.45 L311.86,400.45 L312.46,400.45 L313.06,400.45 L313.66,400.45 L314.26,400.45 L314.86,400.45 L315.46,400.45 L316.06,400.45 L316.66,400.45 L317.26,400.45 L317.86,400.45 L318.46,400.45 L319.06,400.45 L319.66,400.46 L320.26,400.46 L320.86,400.46 L321.46,400.46 L322.06,400.46 L322.67,400.46 L323.27,400.46 L323.87,400.46 L324.47,400.46 L325.07,400.46 L325.67,400.46 L326.27,400.46 L326.87,400.46 L327.47,400.46 L328.07,400.46 L328.67,400.46 L329.27,400.47 L329.87,400.47 L330.47,400.47 L331.07,400.47 L331.67,400.47 L332.27,400.47 L332.87,400.47 L333.47,400.47 L334.07,400.47 L334.68,400.47 L335.28,400.47 L335.88,400.47 L336.48,400.47 L337.08,400.48 L337.68,400.48 L338.28,400.48 L338.88,400.48 L339.48,400.48 L340.08,400.48 L340.68,400.48 L341.28,400.48 L341.88,400.48 L342.48,400.48 L343.08,400.48 L343.68,400.49 L344.28,400.49 L344.88,400.49 L345.48,400.49 L346.08,400.49 L346.69,400.49 L347.29,400.49 L347.89,400.49 L348.49,400.49 L349.09,400.49 L349.69,400.50 L350.29,400.50 L350.89,400.50 L351.49,400.50 L352.09,400.50 L352.69,400.50 L353.29,400.50 L353.89,400.50 L354.49,400.50 L355.09,400.51 L355.69,400.51 L356.29,400.51 L356.89,400.51 L357.49,400.51 L358.09,400.51 L358.70,400.51 L359.30,400.51 L359.90,400.52 L360.50,400.52 L361.10,400.52 L361.70,400.52 L362.30,400.52 L362.90,400.52 L363.50,400.52 L364.10,400.53 L364.70,400.53 L365.30,400.53 L365.90,400.53 L366.50,400.53 L367.10,400.53 L367.70,400.54 L368.30,400.54 L368.90,400.54 L369.50,400.54 L370.10,400.54 L370.71,400.54 L371.31,400.54 L371.91,400.55 L372.51,400.55 L373.11,400.55 L373.71,400.55 L374.31,400.55 L374.91,400.56 L375.51,400.56 L376.11,400.56 L376.71,400.56 L377.31,400.56 L377.91,400.57 L378.51,400.57 L379.11,400.57 L379.71,400.57 L380.31,400.57 L380.91,400.58 L381.51,400.58 L382.11,400.58 L382.72,400.58 L383.32,400.58 L383.92,400.59 L384.52,400.59 L385.12,400.59 L385.72,400.59 L386.32,400.60 L386.92,400.60 L387.52,400.60 L388.12,400.60 L388.72,400.60 L389.32,400.61 L389.92,400.61 L390.52,400.61 L391.12,400.61 L391.72,400.62 L392.32,400.62 L392.92,400.62 L393.52,400.63 L394.12,400.63 L394.73,400.63 L395.33,400.63 L395.93,400.64 L396.53,400.64 L397.13,400.64 L397.73,400.65 L398.33,400.65 L398.93,400.65 L399.53,400.66 L400.13,400.66 L400.73,400.66 L401.33,400.66 L401.93,400.67 L402.53,400.67 L403.13,400.67 L403.73,400.68 L404.33,400.68 L404.93,400.69 L405.53,400.69 L406.13,400.69 L406.74,400.70 L407.34,400.70 L407.94,400.70 L408.54,400.71 L409.14,400.71 L409.74,400.72 L410.34,400.72 L410.94,400.72 L411.54,400.73 L412.14,400.73 L412.74,400.74 L413.34,400.74 L413.94,400.74 L414.54,400.75 L415.14,400.75 L415.74,400.76 L416.34,400.76 L416.94,400.77 L417.54,400.77 L418.14,400.78 L418.75,400.78 L419.35,400.79 L419.95,400.79 L420.55,400.80 L421.15,400.80 L421.75,400.81 L422.35,400.81 L422.95,400.82 L423.55,400.82 L424.15,400.83 L424.75,400.83 L425.35,400.84 L425.95,400.84 L426.55,400.85 L427.15,400.86 L427.75,400.86 L428.35,400.87 L428.95,400.87 L429.55,400.88 L430.15,400.89 L430.76,400.89 L431.36,400.90 L431.96,400.91 L432.56,400.91 L433.16,400.92 L433.76,400.93 L434.36,400.93 L434.96,400.94 L435.56,400.95 L436.16,400.95 L436.76,400.96 L437.36,400.97 L437.96,400.98 L438.56,400.98 L439.16,400.99 L439.76,401.00 L440.36,401.01 L440.96,401.01 L441.56,401.02 L442.16,401.03 L442.77,401.04 L443.37,401.05 L443.97,401.06 L444.57,401.06 L445.17,401.07 L445.77,401.08 L446.37,401.09 L446.97,401.10 L447.57,401.11 L448.17,401.12 L448.77,401.13 L449.37,401.14 L449.97,401.15 L450.57,401.16 L451.17,401.17 L451.77,401.18 L452.37,401.19 L452.97,401.20 L453.57,401.21 L454.17,401.22 L454.78,401.23 L455.38,401.24 L455.98,401.26 L456.58,401.27 L457.18,401.28 L457.78,401.29 L458.38,401.30 L458.98,401.31 L459.58,401.33 L460.18,401.34 L460.78,401.35 L461.38,401.36 L461.98,401.38 L462.58,401.39 L463.18,401.40 L463.78,401.42 L464.38,401.43 L464.98,401.45 L465.58,401.46 L466.18,401.47 L466.79,401.49 L467.39,401.50 L467.99,401.52 L468.59,401.53 L469.19,401.55 L469.79,401.56 L470.39,401.58 L470.99,401.60 L471.59,401.61 L472.19,401.63 L472.79,401.65 L473.39,401.66 L473.99,401.68 L474.59,401.70 L475.19,401.72 L475.79,401.73 L476.39,401.75 L476.99,401.77 L477.59,401.79 L478.19,401.81 L478.80,401.83 L479.40,401.85 L480.00,401.87 L480.60,401.89 L481.20,401.91 L481.80,401.93 L482.40,401.95 L483.00,401.97 L483.60,401.99 L484.20,402.01 L484.80,402.04 L485.40,402.06 L486.00,402.08 L486.60,402.10 L487.20,402.13 L487.80,402.15 L488.40,402.17 L489.00,402.20 L489.60,402.22 L490.20,402.25 L490.81,402.27 L491.41,402.30 L492.01,402.33 L492.61,402.35 L493.21,402.38 L493.81,402.41 L494.41,402.43 L495.01,402.46 L495.61,402.49 L496.21,402.52 L496.81,402.55 L497.41,402.58 L498.01,402.61 L498.61,402.64 L499.21,402.67 L499.81,402.70 L500.41,402.73 L501.01,402.77 L501.61,402.80 L502.21,402.83 L502.82,402.87 L503.42,402.90 L504.02,402.93 L504.62,402.97 L505.22,403.00 L505.82,403.04 L506.42,403.08 L507.02,403.11 L507.62,403.15 L508.22,403.19 L508.82,403.23 L509.42,403.27 L510.02,403.31 L510.62,403.35 L511.22,403.39 L511.82,403.43 L512.42,403.47 L513.02,403.51 L513.62,403.55 L514.22,403.60 L514.83,403.64 L515.43,403.69 L516.03,403.73 L516.63,403.78 L517.23,403.82 L517.83,403.87 L518.43,403.92 L519.03,403.97 L519.63,404.02 L520.23,404.07 L520.83,404.12 L521.43,404.17 L522.03,404.22 L522.63,404.27 L523.23,404.33 L523.83,404.38 L524.43,404.43 L525.03,404.49 L525.63,404.55 L526.23,404.60 L526.84,404.66 L527.44,404.72 L528.04,404.78 L528.64,404.84 L529.24,404.90 L529.84,404.96 L530.44,405.02 L531.04,405.08 L531.64,405.15 L532.24,405.21 L532.84,405.28 L533.44,405.35 L534.04,405.41 L534.64,405.48 L535.24,405.55 L535.84,405.62 L536.44,405.69 L537.04,405.76 L537.64,405.84 L538.24,405.91 L538.85,405.98 L539.45,406.06 L540.05,406.14 L540.65,406.21 L541.25,406.29 L541.85,406.37 L542.45,406.45 L543.05,406.53 L543.65,406.62 L544.25,406.70 L544.85,406.78 L545.45,406.87 L546.05,406.96 L546.65,407.04 L547.25,407.13 L547.85,407.22 L548.45,407.31 L549.05,407.41 L549.65,407.50 L550.25,407.59 L550.86,407.69 L551.46,407.79 L552.06,407.88 L552.66,407.98 L553.26,408.08 L553.86,408.19 L554.46,408.29 L555.06,408.39 L555.66,408.50 L556.26,408.60 L556.86,408.71 L557.46,408.82 L558.06,408.93 L558.66,409.04 L559.26,409.16 L559.86,409.27 L560.46,409.39 L561.06,409.50 L561.66,409.62 L562.26,409.74 L562.87,409.86 L563.47,409.98 L564.07,410.11 L564.67,410.23 L565.27,410.36 L565.87,410.49 L566.47,410.62 L567.07,410.75 L567.67,410.88 L568.27,411.02 L568.87,411.15 L569.47,411.29 L570.07,411.43 L570.67,411.57 L571.27,411.71 L571.87,411.85 L572.47,411.99 L573.07,412.14 L573.67,412.29 L574.27,412.44 L574.88,412.59 L575.48,412.74 L576.08,412.89 L576.68,413.05 L577.28,413.21 L577.88,413.37 L578.48,413.53 L579.08,413.69 L579.68,413.85 L580.28,414.02 L580.88,414.18 L581.48,414.35 L582.08,414.52 L582.68,414.70 L583.28,414.87 L583.88,415.05 L584.48,415.22 L585.08,415.40 L585.68,415.58 L586.28,415.76 L586.89,415.95 L587.49,416.14 L588.09,416.32 L588.69,416.51 L589.29,416.70 L589.89,416.90 L590.49,417.09 L591.09,417.29 L591.69,417.49 L592.29,417.69 L592.89,417.89 L593.49,418.09 L594.09,418.30 L594.69,418.51 L595.29,418.72 L595.89,418.93 L596.49,419.14 L597.09,419.36 L597.69,419.57 L598.29,419.79 L598.90,420.01 L599.50,420.23 L600.10,420.46 L600.70,420.68 L601.30,420.91 L601.90,421.14 L602.50,421.37 L603.10,421.61 L603.70,421.84 L604.30,422.08 L604.90,422.32 L605.50,422.56 L606.10,422.80 L606.70,423.05 L607.30,423.29 L607.90,423.54 L608.50,423.79 L609.10,424.05 L609.70,424.30 L610.30,424.56 L610.91,424.81 L611.51,425.07 L612.11,425.34 L612.71,425.60 L613.31,425.86 L613.91,426.13 L614.51,426.40 L615.11,426.67 L615.71,426.95 L616.31,427.22 L616.91,427.50 L617.51,427.78 L618.11,428.06 L618.71,428.34 L619.31,428.62 L619.91,428.91 L620.51,429.20 L621.11,429.49 L621.71,429.78 L622.31,430.07 L622.92,430.37 L623.52,430.66 L624.12,430.96 L624.72,431.26 L625.32,431.56 L625.92,431.87 L626.52,432.17 L627.12,432.48 L627.72,432.79 L628.32,433.10 L628.92,433.42 L629.52,433.73 L630.12,434.05 L630.72,434.37 L631.32,434.69 L631.92,435.01 L632.52,435.33 L633.12,435.66 L633.72,435.98 L634.32,436.31 L634.93,436.64 L635.53,436.97 L636.13,437.31 L636.73,437.64 L637.33,437.98 L637.93,438.32 L638.53,438.66 L639.13,439.00 L639.73,439.34 L640.33,439.69 L640.93,440.03 L641.53,440.38 L642.13,440.73 L642.73,441.08 L643.33,441.43 L643.93,441.79 L644.53,442.14 L645.13,442.50 L645.73,442.86 L646.33,443.22 L646.94,443.58 L647.54,443.95 L648.14,444.31 L648.74,444.68 L649.34,445.04 L649.94,445.41 L650.54,445.78 L651.14,446.16 L651.74,446.53 L652.34,446.90 L652.94,447.28 L653.54,447.66 L654.14,448.04 L654.74,448.42 L655.34,448.80 L655.94,449.18 L656.54,449.57 L657.14,449.95 L657.74,450.34 L658.34,450.73 L658.95,451.12 L659.55,451.51 L660.15,451.90 L660.75,452.29 L661.35,452.69 L661.95,453.08 L662.55,453.48 L663.15,453.88 L663.75,454.27 L664.35,454.67 L664.95,455.08 L665.55,455.48 L666.15,455.88 L666.75,456.29 L667.35,456.69 L667.95,457.10 L668.55,457.51 L669.15,457.92 L669.75,458.33 L670.35,458.74 L670.96,459.15 L671.56,459.57 L672.16,459.98 L672.76,460.40 L673.36,460.81 L673.96,461.23 L674.56,461.65 L675.16,462.07 L675.76,462.49 L676.36,462.91 L676.96,463.33 L677.56,463.76 L678.16,464.18 L678.76,464.61 L679.36,465.03 L679.96,465.46 L680.56,465.89 L681.16,466.31 L681.76,466.74 L682.36,467.18 L682.97,467.61 L683.57,468.04 L684.17,468.47 L684.77,468.91 L685.37,469.34 L685.97,469.78 L686.57,470.21 L687.17,470.65 L687.77,471.09 L688.37,471.52 L688.97,471.96 L689.57,472.40 L690.17,472.84 L690.77,473.29 L691.37,473.73 L691.97,474.17 L692.57,474.62 L693.17,475.06 L693.77,475.50 L694.37,475.95 L694.98,476.40 L695.58,476.84 L696.18,477.29 L696.78,477.74 L697.38,478.19 L697.98,478.64 L698.58,479.09 L699.18,479.54 L699.78,479.99 L700.38,480.44 L700.98,480.90 L701.58,481.35 L702.18,481.80 L702.78,482.26 L703.38,482.71 L703.98,483.17 L704.58,483.62 L705.18,484.08 L705.78,484.54 L706.38,484.99 L706.99,485.45 L707.59,485.91 L708.19,486.37 L708.79,486.83 L709.39,487.29 L709.99,487.75 L710.59,488.21 L711.19,488.67 L711.79,489.13 L712.39,489.60 L712.99,490.06 L713.59,490.52 L714.19,490.99 L714.79,491.45 L715.39,491.92 L715.99,492.38 L716.59,492.85 L717.19,493.31 L717.79,493.78 L718.39,494.25 L719.00,494.71 L719.60,495.18 L720.20,495.65 L720.80,496.12 L721.40,496.59 L722.00,497.05 L722.60,497.52 L723.20,497.99 L723.80,498.46 L724.40,498.93 L725.00,499.40 L725.60,499.88 L726.20,500.35 L726.80,500.82 L727.40,501.29 L728.00,501.76 L728.60,502.24 L729.20,502.71 L729.80,503.18 L730.40,503.66 L731.01,504.13 L731.61,504.61 L732.21,505.08 L732.81,505.56 L733.41,506.03 L734.01,506.51 L734.61,506.98 L735.21,507.46 L735.81,507.93 L736.41,508.41 L737.01,508.89 L737.61,509.36 L738.21,509.84 L738.81,510.32 L739.41,510.80 L740.01,511.27 L740.61,511.75 L741.21,512.23 L741.81,512.71 L742.41,513.19 L743.02,513.67 L743.62,514.15 L744.22,514.63 L744.82,515.11 L745.42,515.59 L746.02,516.07 L746.62,516.55 L747.22,517.03 L747.82,517.51 L748.42,517.99 L749.02,518.47 L749.62,518.95 L750.22,519.44 L750.82,519.92 L751.42,520.40 L752.02,520.88 L752.62,521.36 L753.22,521.85 L753.82,522.33 L754.42,522.81 L755.03,523.30 L755.63,523.78 L756.23,524.26 L756.83,524.75 L757.43,525.23 L758.03,525.71 L758.63,526.20 L759.23,526.68 L759.83,527.17 L760.43,527.65 L761.03,528.14 L761.63,528.62 L762.23,529.11 L762.83,529.59 L763.43,530.08 L764.03,530.56 L764.63,531.05 L765.23,531.53 L765.83,532.02 L766.43,532.50 L767.04,532.99 L767.64,533.48 L768.24,533.96 L768.84,534.45 L769.44,534.94 L770.04,535.42 L770.64,535.91 L771.24,536.40 L771.84,536.88 L772.44,537.37 L773.04,537.86 L773.64,538.34 L774.24,538.83 L774.84,539.32 L775.44,539.81 L776.04,540.29 L776.64,540.78 L777.24,541.27 L777.84,541.76 L778.44,542.25 L779.05,542.73 L779.65,543.22 L780.25,543.71 L780.85,544.20 L781.45,544.69 L782.05,545.18 L782.65,545.67 L783.25,546.15 L783.85,546.64 L784.45,547.13 L785.05,547.62 L785.65,548.11 L786.25,548.60 L786.85,549.09 L787.45,549.58 L788.05,550.07 L788.65,550.56 L789.25,551.05 L789.85,551.54 L790.45,552.03 L791.06,552.52 L791.66,553.01 L792.26,553.50 L792.86,553.99 L793.46,554.48 L794.06,554.97 L794.66,555.46 L795.26,555.95 L795.86,556.44 L796.46,556.93 L797.06,557.42 L797.66,557.91 L798.26,558.40 L798.86,558.89 L799.46,559.38 L800.06,559.87 L800.66,560.36 L801.26,560.85 L801.86,561.34 L802.46,561.83 L803.07,562.33 L803.67,562.82 L804.27,563.31 L804.87,563.80 L805.47,564.29 L806.07,564.78 L806.67,565.27 L807.27,565.76 L807.87,566.25 L808.47,566.75 L809.07,567.24 L809.67,567.73 L810.27,568.22 L810.87,568.71 L811.47,569.20 L812.07,569.70 L812.67,570.19 L813.27,570.68 L813.87,571.17 L814.47,571.66 L815.08,572.15 L815.68,572.65 L816.28,573.14 L816.88,573.63 L817.48,574.12 L818.08,574.61 L818.68,575.11 L819.28,575.60 L819.88,576.09 L820.48,576.58 L821.08,577.07 L821.68,577.57 L822.28,578.06 L822.88,578.55 L823.48,579.04 L824.08,579.54 L824.68,580.03 L825.28,580.52 L825.88,581.01 L826.48,581.51 L827.09,582.00 L827.69,582.49 L828.29,582.98 L828.89,583.48 L829.49,583.97 L830.09,584.46 L830.69,584.95 L831.29,585.45 L831.89,585.94 L832.49,586.43 L833.09,586.92 L833.69,587.42 L834.29,587.91 L834.89,588.40 L835.49,588.90 L836.09,589.39 L836.69,589.88 L837.29,590.37 L837.89,590.87 L838.49,591.36 L839.10,591.85 L839.70,592.35 L840.30,592.84 L840.90,593.33 L841.50,593.83 L842.10,594.32 L842.70,594.81 L843.30,595.31 L843.90,595.80 L844.50,596.29 L844.50,531.31 L843.90,530.81 L843.30,530.32 L842.70,529.83 L842.10,529.33 L841.50,528.84 L840.90,528.35 L840.30,527.85 L839.70,527.36 L839.10,526.87 L838.49,526.38 L837.89,525.88 L837.29,525.39 L836.69,524.90 L836.09,524.40 L835.49,523.91 L834.89,523.42 L834.29,522.93 L833.69,522.43 L833.09,521.94 L832.49,521.45 L831.89,520.95 L831.29,520.46 L830.69,519.97 L830.09,519.48 L829.49,518.98 L828.89,518.49 L828.29,518.00 L827.69,517.51 L827.09,517.01 L826.48,516.52 L825.88,516.03 L825.28,515.54 L824.68,515.05 L824.08,514.55 L823.48,514.06 L822.88,513.57 L822.28,513.08 L821.68,512.58 L821.08,512.09 L820.48,511.60 L819.88,511.11 L819.28,510.62 L818.68,510.12 L818.08,509.63 L817.48,509.14 L816.88,508.65 L816.28,508.16 L815.68,507.66 L815.08,507.17 L814.47,506.68 L813.87,506.19 L813.27,505.70 L812.67,505.21 L812.07,504.71 L811.47,504.22 L810.87,503.73 L810.27,503.24 L809.67,502.75 L809.07,502.26 L808.47,501.77 L807.87,501.27 L807.27,500.78 L806.67,500.29 L806.07,499.80 L805.47,499.31 L804.87,498.82 L804.27,498.33 L803.67,497.84 L803.07,497.35 L802.46,496.86 L801.86,496.36 L801.26,495.87 L800.66,495.38 L800.06,494.89 L799.46,494.40 L798.86,493.91 L798.26,493.42 L797.66,492.93 L797.06,492.44 L796.46,491.95 L795.86,491.46 L795.26,490.97 L794.66,490.48 L794.06,489.99 L793.46,489.50 L792.86,489.01 L792.26,488.52 L791.66,488.03 L791.06,487.54 L790.45,487.05 L789.85,486.56 L789.25,486.07 L788.65,485.58 L788.05,485.09 L787.45,484.61 L786.85,484.12 L786.25,483.63 L785.65,483.14 L785.05,482.65 L784.45,482.16 L783.85,481.67 L783.25,481.18 L782.65,480.69 L782.05,480.21 L781.45,479.72 L780.85,479.23 L780.25,478.74 L779.65,478.25 L779.05,477.77 L778.44,477.28 L777.84,476.79 L777.24,476.30 L776.64,475.81 L776.04,475.33 L775.44,474.84 L774.84,474.35 L774.24,473.87 L773.64,473.38 L773.04,472.89 L772.44,472.40 L771.84,471.92 L771.24,471.43 L770.64,470.94 L770.04,470.46 L769.44,469.97 L768.84,469.49 L768.24,469.00 L767.64,468.51 L767.04,468.03 L766.43,467.54 L765.83,467.06 L765.23,466.57 L764.63,466.09 L764.03,465.60 L763.43,465.12 L762.83,464.63 L762.23,464.15 L761.63,463.66 L761.03,463.18 L760.43,462.69 L759.83,462.21 L759.23,461.73 L758.63,461.24 L758.03,460.76 L757.43,460.28 L756.83,459.79 L756.23,459.31 L755.63,458.83 L755.03,458.34 L754.42,457.86 L753.82,457.38 L753.22,456.90 L752.62,456.41 L752.02,455.93 L751.42,455.45 L750.82,454.97 L750.22,454.49 L749.62,454.01 L749.02,453.53 L748.42,453.05 L747.82,452.57 L747.22,452.09 L746.62,451.61 L746.02,451.13 L745.42,450.65 L744.82,450.17 L744.22,449.69 L743.62,449.21 L743.02,448.73 L742.41,448.25 L741.81,447.77 L741.21,447.30 L740.61,446.82 L740.01,446.34 L739.41,445.86 L738.81,445.39 L738.21,444.91 L737.61,444.43 L737.01,443.96 L736.41,443.48 L735.81,443.00 L735.21,442.53 L734.61,442.05 L734.01,441.58 L733.41,441.11 L732.81,440.63 L732.21,440.16 L731.61,439.68 L731.01,439.21 L730.40,438.74 L729.80,438.26 L729.20,437.79 L728.60,437.32 L728.00,436.85 L727.40,436.38 L726.80,435.91 L726.20,435.44 L725.60,434.96 L725.00,434.49 L724.40,434.03 L723.80,433.56 L723.20,433.09 L722.60,432.62 L722.00,432.15 L721.40,431.68 L720.80,431.22 L720.20,430.75 L719.60,430.28 L719.00,429.82 L718.39,429.35 L717.79,428.88 L717.19,428.42 L716.59,427.96 L715.99,427.49 L715.39,427.03 L714.79,426.56 L714.19,426.10 L713.59,425.64 L712.99,425.18 L712.39,424.72 L711.79,424.26 L711.19,423.79 L710.59,423.34 L709.99,422.88 L709.39,422.42 L708.79,421.96 L708.19,421.50 L707.59,421.04 L706.99,420.59 L706.38,420.13 L705.78,419.67 L705.18,419.22 L704.58,418.76 L703.98,418.31 L703.38,417.86 L702.78,417.40 L702.18,416.95 L701.58,416.50 L700.98,416.05 L700.38,415.60 L699.78,415.15 L699.18,414.70 L698.58,414.25 L697.98,413.80 L697.38,413.36 L696.78,412.91 L696.18,412.46 L695.58,412.02 L694.98,411.57 L694.37,411.13 L693.77,410.69 L693.17,410.24 L692.57,409.80 L691.97,409.36 L691.37,408.92 L690.77,408.48 L690.17,408.04 L689.57,407.60 L688.97,407.17 L688.37,406.73 L687.77,406.29 L687.17,405.86 L686.57,405.43 L685.97,404.99 L685.37,404.56 L684.77,404.13 L684.17,403.70 L683.57,403.27 L682.97,402.84 L682.36,402.41 L681.76,401.98 L681.16,401.56 L680.56,401.13 L679.96,400.71 L679.36,400.28 L678.76,399.86 L678.16,399.44 L677.56,399.02 L676.96,398.60 L676.36,398.18 L675.76,397.76 L675.16,397.34 L674.56,396.93 L673.96,396.51 L673.36,396.10 L672.76,395.69 L672.16,395.28 L671.56,394.87 L670.96,394.46 L670.35,394.05 L669.75,393.64 L669.15,393.23 L668.55,392.83 L667.95,392.43 L667.35,392.02 L666.75,391.62 L666.15,391.22 L665.55,390.82 L664.95,390.42 L664.35,390.03 L663.75,389.63 L663.15,389.24 L662.55,388.84 L661.95,388.45 L661.35,388.06 L660.75,387.67 L660.15,387.28 L659.55,386.90 L658.95,386.51 L658.34,386.13 L657.74,385.74 L657.14,385.36 L656.54,384.98 L655.94,384.60 L655.34,384.23 L654.74,383.85 L654.14,383.47 L653.54,383.10 L652.94,382.73 L652.34,382.36 L651.74,381.99 L651.14,381.62 L650.54,381.26 L649.94,380.89 L649.34,380.53 L648.74,380.17 L648.14,379.81 L647.54,379.45 L646.94,379.09 L646.33,378.74 L645.73,378.38 L645.13,378.03 L644.53,377.68 L643.93,377.33 L643.33,376.98 L642.73,376.64 L642.13,376.29 L641.53,375.95 L640.93,375.61 L640.33,375.27 L639.73,374.93 L639.13,374.60 L638.53,374.26 L637.93,373.93 L637.33,373.60 L636.73,373.27 L636.13,372.94 L635.53,372.62 L634.93,372.29 L634.32,371.97 L633.72,371.65 L633.12,371.33 L632.52,371.01 L631.92,370.70 L631.32,370.38 L630.72,370.07 L630.12,369.76 L629.52,369.45 L628.92,369.15 L628.32,368.84 L627.72,368.54 L627.12,368.24 L626.52,367.94 L625.92,367.64 L625.32,367.35 L624.72,367.05 L624.12,366.76 L623.52,366.47 L622.92,366.19 L622.31,365.90 L621.71,365.62 L621.11,365.33 L620.51,365.05 L619.91,364.77 L619.31,364.50 L618.71,364.22 L618.11,363.95 L617.51,363.68 L616.91,363.41 L616.31,363.14 L615.71,362.88 L615.11,362.62 L614.51,362.35 L613.91,362.10 L613.31,361.84 L612.71,361.58 L612.11,361.33 L611.51,361.08 L610.91,360.83 L610.30,360.58 L609.70,360.33 L609.10,360.09 L608.50,359.85 L607.90,359.61 L607.30,359.37 L606.70,359.14 L606.10,358.90 L605.50,358.67 L604.90,358.44 L604.30,358.21 L603.70,357.98 L603.10,357.76 L602.50,357.54 L601.90,357.32 L601.30,357.10 L600.70,356.88 L600.10,356.67 L599.50,356.45 L598.90,356.24 L598.29,356.03 L597.69,355.83 L597.09,355.62 L596.49,355.42 L595.89,355.22 L595.29,355.02 L594.69,354.82 L594.09,354.62 L593.49,354.43 L592.89,354.24 L592.29,354.05 L591.69,353.86 L591.09,353.67 L590.49,353.49 L589.89,353.31 L589.29,353.12 L588.69,352.95 L588.09,352.77 L587.49,352.59 L586.89,352.42 L586.28,352.25 L585.68,352.08 L585.08,351.91 L584.48,351.74 L583.88,351.58 L583.28,351.41 L582.68,351.25 L582.08,351.09 L581.48,350.93 L580.88,350.78 L580.28,350.62 L579.68,350.47 L579.08,350.32 L578.48,350.17 L577.88,350.02 L577.28,349.87 L576.68,349.73 L576.08,349.59 L575.48,349.45 L574.88,349.31 L574.27,349.17 L573.67,349.03 L573.07,348.90 L572.47,348.76 L571.87,348.63 L571.27,348.50 L570.67,348.37 L570.07,348.24 L569.47,348.12 L568.87,347.99 L568.27,347.87 L567.67,347.75 L567.07,347.63 L566.47,347.51 L565.87,347.39 L565.27,347.28 L564.67,347.17 L564.07,347.05 L563.47,346.94 L562.87,346.83 L562.26,346.72 L561.66,346.62 L561.06,346.51 L560.46,346.41 L559.86,346.30 L559.26,346.20 L558.66,346.10 L558.06,346.00 L557.46,345.90 L556.86,345.81 L556.26,345.71 L555.66,345.62 L555.06,345.52 L554.46,345.43 L553.86,345.34 L553.26,345.25 L552.66,345.16 L552.06,345.08 L551.46,344.99 L550.86,344.91 L550.25,344.82 L549.65,344.74 L549.05,344.66 L548.45,344.58 L547.85,344.50 L547.25,344.42 L546.65,344.35 L546.05,344.27 L545.45,344.19 L544.85,344.12 L544.25,344.05 L543.65,343.98 L543.05,343.91 L542.45,343.84 L541.85,343.77 L541.25,343.70 L540.65,343.63 L540.05,343.57 L539.45,343.50 L538.85,343.44 L538.24,343.38 L537.64,343.31 L537.04,343.25 L536.44,343.19 L535.84,343.13 L535.24,343.07 L534.64,343.02 L534.04,342.96 L533.44,342.90 L532.84,342.85 L532.24,342.79 L531.64,342.74 L531.04,342.69 L530.44,342.63 L529.84,342.58 L529.24,342.53 L528.64,342.48 L528.04,342.43 L527.44,342.38 L526.84,342.34 L526.23,342.29 L525.63,342.24 L525.03,342.20 L524.43,342.15 L523.83,342.11 L523.23,342.07 L522.63,342.02 L522.03,341.98 L521.43,341.94 L520.83,341.90 L520.23,341.86 L519.63,341.82 L519.03,341.78 L518.43,341.74 L517.83,341.70 L517.23,341.67 L516.63,341.63 L516.03,341.60 L515.43,341.56 L514.83,341.53 L514.22,341.49 L513.62,341.46 L513.02,341.42 L512.42,341.39 L511.82,341.36 L511.22,341.33 L510.62,341.30 L510.02,341.27 L509.42,341.24 L508.82,341.21 L508.22,341.18 L507.62,341.15 L507.02,341.12 L506.42,341.09 L505.82,341.06 L505.22,341.04 L504.62,341.01 L504.02,340.99 L503.42,340.96 L502.82,340.93 L502.21,340.91 L501.61,340.89 L501.01,340.86 L500.41,340.84 L499.81,340.81 L499.21,340.79 L498.61,340.77 L498.01,340.75 L497.41,340.73 L496.81,340.70 L496.21,340.68 L495.61,340.66 L495.01,340.64 L494.41,340.62 L493.81,340.60 L493.21,340.58 L492.61,340.57 L492.01,340.55 L491.41,340.53 L490.81,340.51 L490.20,340.49 L489.60,340.48 L489.00,340.46 L488.40,340.44 L487.80,340.43 L487.20,340.41 L486.60,340.39 L486.00,340.38 L485.40,340.36 L484.80,340.35 L484.20,340.33 L483.60,340.32 L483.00,340.30 L482.40,340.29 L481.80,340.28 L481.20,340.26 L480.60,340.25 L480.00,340.24 L479.40,340.22 L478.80,340.21 L478.19,340.20 L477.59,340.19 L476.99,340.18 L476.39,340.16 L475.79,340.15 L475.19,340.14 L474.59,340.13 L473.99,340.12 L473.39,340.11 L472.79,340.10 L472.19,340.09 L471.59,340.08 L470.99,340.07 L470.39,340.06 L469.79,340.05 L469.19,340.04 L468.59,340.03 L467.99,340.02 L467.39,340.01 L466.79,340.00 L466.18,340.00 L465.58,339.99 L464.98,339.98 L464.38,339.97 L463.78,339.96 L463.18,339.96 L462.58,339.95 L461.98,339.94 L461.38,339.93 L460.78,339.93 L460.18,339.92 L459.58,339.91 L458.98,339.91 L458.38,339.90 L457.78,339.89 L457.18,339.89 L456.58,339.88 L455.98,339.87 L455.38,339.87 L454.78,339.86 L454.17,339.86 L453.57,339.85 L452.97,339.85 L452.37,339.84 L451.77,339.84 L451.17,339.83 L450.57,339.83 L449.97,339.82 L449.37,339.82 L448.77,339.81 L448.17,339.81 L447.57,339.80 L446.97,339.80 L446.37,339.79 L445.77,339.79 L445.17,339.79 L444.57,339.78 L443.97,339.78 L443.37,339.77 L442.77,339.77 L442.16,339.77 L441.56,339.76 L440.96,339.76 L440.36,339.76 L439.76,339.75 L439.16,339.75 L438.56,339.75 L437.96,339.74 L437.36,339.74 L436.76,339.74 L436.16,339.73 L435.56,339.73 L434.96,339.73 L434.36,339.72 L433.76,339.72 L433.16,339.72 L432.56,339.72 L431.96,339.71 L431.36,339.71 L430.76,339.71 L430.15,339.71 L429.55,339.71 L428.95,339.70 L428.35,339.70 L427.75,339.70 L427.15,339.70 L426.55,339.70 L425.95,339.69 L425.35,339.69 L424.75,339.69 L424.15,339.69 L423.55,339.69 L422.95,339.68 L422.35,339.68 L421.75,339.68 L421.15,339.68 L420.55,339.68 L419.95,339.68 L419.35,339.68 L418.75,339.67 L418.14,339.67 L417.54,339.67 L416.94,339.67 L416.34,339.67 L415.74,339.67 L415.14,339.67 L414.54,339.67 L413.94,339.66 L413.34,339.66 L412.74,339.66 L412.14,339.66 L411.54,339.66 L410.94,339.66 L410.34,339.66 L409.74,339.66 L409.14,339.66 L408.54,339.66 L407.94,339.66 L407.34,339.66 L406.74,339.65 L406.13,339.65 L405.53,339.65 L404.93,339.65 L404.33,339.65 L403.73,339.65 L403.13,339.65 L402.53,339.65 L401.93,339.65 L401.33,339.65 L400.73,339.65 L400.13,339.65 L399.53,339.65 L398.93,339.65 L398.33,339.65 L397.73,339.65 L397.13,339.65 L396.53,339.65 L395.93,339.65 L395.33,339.65 L394.73,339.65 L394.12,339.65 L393.52,339.65 L392.92,339.65 L392.32,339.65 L391.72,339.65 L391.12,339.65 L390.52,339.65 L389.92,339.64 L389.32,339.64 L388.72,339.64 L388.12,339.64 L387.52,339.64 L386.92,339.64 L386.32,339.64 L385.72,339.64 L385.12,339.64 L384.52,339.64 L383.92,339.64 L383.32,339.64 L382.72,339.65 L382.11,339.65 L381.51,339.65 L380.91,339.65 L380.31,339.65 L379.71,339.65 L379.11,339.65 L378.51,339.65 L377.91,339.65 L377.31,339.65 L376.71,339.65 L376.11,339.65 L375.51,339.65 L374.91,339.65 L374.31,339.65 L373.71,339.65 L373.11,339.65 L372.51,339.65 L371.91,339.65 L371.31,339.65 L370.71,339.65 L370.10,339.65 L369.50,339.65 L368.90,339.65 L368.30,339.65 L367.70,339.65 L367.10,339.65 L366.50,339.65 L365.90,339.65 L365.30,339.65 L364.70,339.65 L364.10,339.65 L363.50,339.65 L362.90,339.65 L362.30,339.65 L361.70,339.65 L361.10,339.65 L360.50,339.65 L359.90,339.65 L359.30,339.65 L358.70,339.66 L358.09,339.66 L357.49,339.66 L356.89,339.66 L356.29,339.66 L355.69,339.66 L355.09,339.66 L354.49,339.66 L353.89,339.66 L353.29,339.66 L352.69,339.66 L352.09,339.66 L351.49,339.66 L350.89,339.66 L350.29,339.66 L349.69,339.66 L349.09,339.66 L348.49,339.66 L347.89,339.66 L347.29,339.66 L346.69,339.66 L346.08,339.66 L345.48,339.66 L344.88,339.66 L344.28,339.66 L343.68,339.67 L343.08,339.67 L342.48,339.67 L341.88,339.67 L341.28,339.67 L340.68,339.67 L340.08,339.67 L339.48,339.67 L338.88,339.67 L338.28,339.67 L337.68,339.67 L337.08,339.67 L336.48,339.67 L335.88,339.67 L335.28,339.67 L334.68,339.67 L334.07,339.67 L333.47,339.67 L332.87,339.67 L332.27,339.67 L331.67,339.67 L331.07,339.67 L330.47,339.67 L329.87,339.68 L329.27,339.68 L328.67,339.68 L328.07,339.68 L327.47,339.68 L326.87,339.68 L326.27,339.68 L325.67,339.68 L325.07,339.68 L324.47,339.68 L323.87,339.68 L323.27,339.68 L322.67,339.68 L322.06,339.68 L321.46,339.68 L320.86,339.68 L320.26,339.68 L319.66,339.68 L319.06,339.68 L318.46,339.68 L317.86,339.68 L317.26,339.68 L316.66,339.68 L316.06,339.69 L315.46,339.69 L314.86,339.69 L314.26,339.69 L313.66,339.69 L313.06,339.69 L312.46,339.69 L311.86,339.69 L311.26,339.69 L310.66,339.69 L310.05,339.69 L309.45,339.69 L308.85,339.69 L308.25,339.69 L307.65,339.69 L307.05,339.69 L306.45,339.69 L305.85,339.69 L305.25,339.69 L304.65,339.69 L304.05,339.69 L303.45,339.69 L302.85,339.69 L302.25,339.69 L301.65,339.69 L301.05,339.70 L300.45,339.70 L299.85,339.70 L299.25,339.70 L298.65,339.70 L298.04,339.70 L297.44,339.70 L296.84,339.70 L296.24,339.70 L295.64,339.70 L295.04,339.70 L294.44,339.70 L293.84,339.70 L293.24,339.70 L292.64,339.70 L292.04,339.70 L291.44,339.70 L290.84,339.70 L290.24,339.70 L289.64,339.70 L289.04,339.70 L288.44,339.70 L287.84,339.70 L287.24,339.70 L286.64,339.70 L286.03,339.70 L285.43,339.70 L284.83,339.71 L284.23,339.71 L283.63,339.71 L283.03,339.71 L282.43,339.71 L281.83,339.71 L281.23,339.71 L280.63,339.71 L280.03,339.71 L279.43,339.71 L278.83,339.71 L278.23,339.71 L277.63,339.71 L277.03,339.71 L276.43,339.71 L275.83,339.71 L275.23,339.71 L274.63,339.71 L274.02,339.71 L273.42,339.71 L272.82,339.71 L272.22,339.71 L271.62,339.71 L271.02,339.71 L270.42,339.71 L269.82,339.71 L269.22,339.71 L268.62,339.71 L268.02,339.71 L267.42,339.71 L266.82,339.71 L266.22,339.72 L265.62,339.72 L265.02,339.72 L264.42,339.72 L263.82,339.72 L263.22,339.72 L262.62,339.72 L262.01,339.72 L261.41,339.72 L260.81,339.72 L260.21,339.72 L259.61,339.72 L259.01,339.72 L258.41,339.72 L257.81,339.72 L257.21,339.72 L256.61,339.72 L256.01,339.72 L255.41,339.72 L254.81,339.72 L254.21,339.72 L253.61,339.72 L253.01,339.72 L252.41,339.72 L251.81,339.72 L251.21,339.72 L250.61,339.72 L250.00,339.72 L249.40,339.72 L248.80,339.72 L248.20,339.72 L247.60,339.72 L247.00,339.72 L246.40,339.72 L245.80,339.72 L245.20,339.72 L244.60,339.72 L244.00,339.72 L243.40,339.73 L242.80,339.73 L242.20,339.73 L241.60,339.73 L241.00,339.73 L240.40,339.73 L239.80,339.73 L239.20,339.73 L238.60,339.73 L237.99,339.73 L237.39,339.73 L236.79,339.73 L236.19,339.73 L235.59,339.73 L234.99,339.73 L234.39,339.73 L233.79,339.73 L233.19,339.73 L232.59,339.73 L231.99,339.73 L231.39,339.73 L230.79,339.73 L230.19,339.73 L229.59,339.73 L228.99,339.73 L228.39,339.73 L227.79,339.73 L227.19,339.73 L226.59,339.73 L225.98,339.73 L225.38,339.73 L224.78,339.73 L224.18,339.73 L223.58,339.73 L222.98,339.73 L222.38,339.73 L221.78,339.73 L221.18,339.73 L220.58,339.73 L219.98,339.73 L219.38,339.73 L218.78,339.73 L218.18,339.73 L217.58,339.73 L216.98,339.73 L216.38,339.73 L215.78,339.73 L215.18,339.73 L214.58,339.73 L213.97,339.74 L213.37,339.74 L212.77,339.74 L212.17,339.74 L211.57,339.74 L210.97,339.74 L210.37,339.74 L209.77,339.74 L209.17,339.74 L208.57,339.74 L207.97,339.74 L207.37,339.74 L206.77,339.74 L206.17,339.74 L205.57,339.74 L204.97,339.74 L204.37,339.74 L203.77,339.74 L203.17,339.74 L202.57,339.74 L201.96,339.74 L201.36,339.74 L200.76,339.74 L200.16,339.74 L199.56,339.74 L198.96,339.74 L198.36,339.74 L197.76,339.74 L197.16,339.74 L196.56,339.74 L195.96,339.74 L195.36,339.74 L194.76,339.74 L194.16,339.74 L193.56,339.74 L192.96,339.74 L192.36,339.74 L191.76,339.74 L191.16,339.74 L190.56,339.74 L189.95,339.74 L189.35,339.74 L188.75,339.74 L188.15,339.74 L187.55,339.74 L186.95,339.74 L186.35,339.74 L185.75,339.74 L185.15,339.74 L184.55,339.74 L183.95,339.74 L183.35,339.74 L182.75,339.74 L182.15,339.74 L181.55,339.74 L180.95,339.74 L180.35,339.74 L179.75,339.74 L179.15,339.74 L178.55,339.74 L177.94,339.74 L177.34,339.74 L176.74,339.74 L176.14,339.74 L175.54,339.74 L174.94,339.74 L174.34,339.74 L173.74,339.74 L173.14,339.74 L172.54,339.74 L171.94,339.74 L171.34,339.74 L170.74,339.74 L170.14,339.74 L169.54,339.75 L168.94,339.75 L168.34,339.75 L167.74,339.75 L167.14,339.75 L166.54,339.75 L165.93,339.75 L165.33,339.75 L164.73,339.75 L164.13,339.75 L163.53,339.75 L162.93,339.75 L162.33,339.75 L161.73,339.75 L161.13,339.75 L160.53,339.75 L159.93,339.75 L159.33,339.75 L158.73,339.75 L158.13,339.75 L157.53,339.75 L156.93,339.75 L156.33,339.75 L155.73,339.75 L155.13,339.75 L154.53,339.75 L153.92,339.75 L153.32,339.75 L152.72,339.75 L152.12,339.75 L151.52,339.75 L150.92,339.75 L150.32,339.75 L149.72,339.75 L149.12,339.75 L148.52,339.75 L147.92,339.75 L147.32,339.75 L146.72,339.75 L146.12,339.75 L145.52,339.75 L144.92,339.75 L144.32,339.75 L143.72,339.75 L143.12,339.75 L142.52,339.75 L141.91,339.75 L141.31,339.75 L140.71,339.75 L140.11,339.75 L139.51,339.75 L138.91,339.75 L138.31,339.75 L137.71,339.75 L137.11,339.75 L136.51,339.75 L135.91,339.75 L135.31,339.75 L134.71,339.75 L134.11,339.75 L133.51,339.75 L132.91,339.75 L132.31,339.75 L131.71,339.75 L131.11,339.75 L130.51,339.75 L129.90,339.75 L129.30,339.75 L128.70,339.75 L128.10,339.75 L127.50,339.75 L126.90,339.75 L126.30,339.75 L125.70,339.75 L125.10,339.75 L124.50,339.75Z" fill="#ff0000" fill-opacity="0.2" stroke="none"/>
<path d="M124.50,400.40 L125.10,400.40 L125.70,400.40 L126.30,400.40 L126.90,400.40 L127.50,400.40 L128.10,400.40 L128.70,400.40 L129.30,400.40 L129.90,400.40 L130.51,400.40 L131.11,400.40 L131.71,400.40 L132.31,400.40 L132.91,400.40 L133.51,400.40 L134.11,400.40 L134.71,400.40 L135.31,400.40 L135.91,400.40 L136.51,400.40 L137.11,400.40 L137.71,400.40 L138.31,400.40 L138.91,400.40 L139.51,400.40 L140.11,400.40 L140.71,400.40 L141.31,400.40 L141.91,400.40 L142.52,400.40 L143.12,400.40 L143.72,400.40 L144.32,400.40 L144.92,400.40 L145.52,400.40 L146.12,400.40 L146.72,400.40 L147.32,400.40 L147.92,400.40 L148.52,400.40 L149.12,400.40 L149.72,400.40 L150.32,400.40 L150.92,400.40 L151.52,400.40 L152.12,400.40 L152.72,400.40 L153.32,400.40 L153.92,400.40 L154.53,400.40 L155.13,400.40 L155.73,400.40 L156.33,400.40 L156.93,400.40 L157.53,400.40 L158.13,400.40 L158.73,400.40 L159.33,400.40 L159.93,400.40 L160.53,400.40 L161.13,400.40 L161.73,400.40 L162.33,400.40 L162.93,400.40 L163.53,400.40 L164.13,400.40 L164.73,400.40 L165.33,400.40 L165.93,400.40 L166.54,400.40 L167.14,400.40 L167.74,400.40 L168.34,400.40 L168.94,400.40 L169.54,400.40 L170.14,400.40 L170.74,400.40 L171.34,400.40 L171.94,400.40 L172.54,400.40 L173.14,400.40 L173.74,400.40 L174.34,400.40 L174.94,400.40 L175.54,400.40 L176.14,400.40 L176.74,400.40 L177.34,400.40 L177.94,400.40 L178.55,400.40 L179.15,400.40 L179.75,400.40 L180.35,400.40 L180.95,400.40 L181.55,400.40 L182.15,400.40 L182.75,400.40 L183.35,400.40 L183.95,400.40 L184.55,400.40 L185.15,400.40 L185.75,400.40 L186.35,400.41 L186.95,400.41 L187.55,400.41 L188.15,400.41 L188.75,400.41 L189.35,400.41 L189.95,400.41 L190.56,400.41 L191.16,400.41 L191.76,400.41 L192.36,400.41 L192.96,400.41 L193.56,400.41 L194.16,400.41 L194.76,400.41 L195.36,400.41 L195.96,400.41 L196.56,400.41 L197.16,400.41 L197.76,400.41 L198.36,400.41 L198.96,400.41 L199.56,400.41 L200.16,400.41 L200.76,400.41 L201.36,400.41 L201.96,400.41 L202.57,400.41 L203.17,400.41 L203.77,400.41 L204.37,400.41 L204.97,400.41 L205.57,400.41 L206.17,400.41 L206.77,400.41 L207.37,400.41 L207.97,400.41 L208.57,400.41 L209.17,400.41 L209.77,400.41 L210.37,400.41 L210.97,400.41 L211.57,400.41 L212.17,400.41 L212.77,400.41 L213.37,400.41 L213.97,400.41 L214.58,400.41 L215.18,400.41 L215.78,400.41 L216.38,400.41 L216.98,400.41 L217.58,400.41 L218.18,400.41 L218.78,400.41 L219.38,400.41 L219.98,400.41 L220.58,400.41 L221.18,400.41 L221.78,400.41 L222.38,400.41 L222.98,400.41 L223.58,400.41 L224.18,400.41 L224.78,400.41 L225.38,400.41 L225.98,400.41 L226.59,400.41 L227.19,400.41 L227.79,400.41 L228.39,400.41 L228.99,400.41 L229.59,400.41 L230.19,400.41 L230.79,400.41 L231.39,400.41 L231.99,400.41 L232.59,400.41 L233.19,400.41 L233.79,400.41 L234.39,400.41 L234.99,400.41 L235.59,400.41 L236.19,400.41 L236.79,400.41 L237.39,400.41 L237.99,400.41 L238.60,400.41 L239.20,400.41 L239.80,400.41 L240.40,400.41 L241.00,400.41 L241.60,400.41 L242.20,400.41 L242.80,400.41 L243.40,400.41 L244.00,400.41 L244.60,400.41 L245.20,400.42 L245.80,400.42 L246.40,400.42 L247.00,400.42 L247.60,400.42 L248.20,400.42 L248.80,400.42 L249.40,400.42 L250.00,400.42 L250.61,400.42 L251.21,400.42 L251.81,400.42 L252.41,400.42 L253.01,400.42 L253.61,400.42 L254.21,400.42 L254.81,400.42 L255.41,400.42 L256.01,400.42 L256.61,400.42 L257.21,400.42 L257.81,400.42 L258.41,400.42 L259.01,400.42 L259.61,400.42 L260.21,400.42 L260.81,400.42 L261.41,400.42 L262.01,400.42 L262.62,400.42 L263.22,400.42 L263.82,400.42 L264.42,400.42 L265.02,400.42 L265.62,400.42 L266.22,400.42 L266.82,400.42 L267.42,400.42 L268.02,400.42 L268.62,400.42 L269.22,400.42 L269.82,400.42 L270.42,400.42 L271.02,400.42 L271.62,400.42 L272.22,400.42 L272.82,400.42 L273.42,400.42 L274.02,400.42 L274.63,400.42 L275.23,400.43 L275.83,400.43 L276.43,400.43 L277.03,400.43 L277.63,400.43 L278.23,400.43 L278.83,400.43 L279.43,400.43 L280.03,400.43 L280.63,400.43 L281.23,400.43 L281.83,400.43 L282.43,400.43 L283.03,400.43 L283.63,400.43 L284.23,400.43 L284.83,400.43 L285.43,400.43 L286.03,400.43 L286.64,400.43 L287.24,400.43 L287.84,400.43 L288.44,400.43 L289.04,400.43 L289.64,400.43 L290.24,400.43 L290.84,400.43 L291.44,400.43 L292.04,400.43 L292.64,400.43 L293.24,400.43 L293.84,400.43 L294.44,400.44 L295.04,400.44 L295.64,400.44 L296.24,400.44 L296.84,400.44 L297.44,400.44 L298.04,400.44 L298.65,400.44 L299.25,400.44 L299.85,400.44 L300.45,400.44 L301.05,400.44 L301.65,400.44 L302.25,400.44 L302.85,400.44 L303.45,400.44 L304.05,400.44 L304.65,400.44 L305.25,400.44 L305.85,400.44 L306.45,400.44 L307.05,400.44 L307.65,400.44 L308.25,400.44 L308.85,400.45 L309.45,400.45 L310.05,400.45 L310.66,400.45 L311.26,400.45 L311.86,400.45 L312.46,400.45 L313.06,400.45 L313.66,400.45 L314.26,400.45 L314.86,400.45 L315.46,400.45 L316.06,400.45 L316.66,400.45 L317.26,400.45 L317.86,400.45 L318.46,400.45 L319.06,400.45 L319.66,400.46 L320.26,400.46 L320.86,400.46 L321.46,400.46 L322.06,400.46 L322.67,400.46 L323.27,400.46 L323.87,400.46 L324.47,400.46 L325.07,400.46 L325.67,400.46 L326.27,400.46 L326.87,400.46 L327.47,400.46 L328.07,400.46 L328.67,400.46 L329.27,400.47 L329.87,400.47 L330.47,400.47 L331.07,400.47 L331.67,400.47 L332.27,400.47 L332.87,400.47 L333.47,400.47 L334.07,400.47 L334.68,400.47 L335.28,400.47 L335.88,400.47 L336.48,400.47 L337.08,400.48 L337.68,400.48 L338.28,400.48 L338.88,400.48 L339.48,400.48 L340.08,400.48 L340.68,400.48 L341.28,400.48 L341.88,400.48 L342.48,400.48 L343.08,400.48 L343.68,400.49 L344.28,400.49 L344.88,400.49 L345.48,400.49 L346.08,400.49 L346.69,400.49 L347.29,400.49 L347.89,400.49 L348.49,400.49 L349.09,400.49 L349.69,400.50 L350.29,400.50 L350.89,400.50 L351.49,400.50 L352.09,400.50 L352.69,400.50 L353.29,400.50 L353.89,400.50 L354.49,400.50 L355.09,400.51 L355.69,400.51 L356.29,400.51 L356.89,400.51 L357.49,400.51 L358.09,400.51 L358.70,400.51 L359.30,400.51 L359.90,400.52 L360.50,400.52 L361.10,400.52 L361.70,400.52 L362.30,400.52 L362.90,400.52 L363.50,400.52 L364.10,400.53 L364.70,400.53 L365.30,400.53 L365.90,400.53 L366.50,400.53 L367.10,400.53 L367.70,400.54 L368.30,400.54 L368.90,400.54 L369.50,400.54 L370.10,400.54 L370.71,400.54 L371.31,400.54 L371.91,400.55 L372.51,400.55 L373.11,400.55 L373.71,400.55 L374.31,400.55 L374.91,400.56 L375.51,400.56 L376.11,400.56 L376.71,400.56 L377.31,400.56 L377.91,400.57 L378.51,400.57 L379.11,400.57 L379.71,400.57 L380.31,400.57 L380.91,400.58 L381.51,400.58 L382.11,400.58 L382.72,400.58 L383.32,400.58 L383.92,400.59 L384.52,400.59 L385.12,400.59 L385.72,400.59 L386.32,400.60 L386.92,400.60 L387.52,400.60 L388.12,400.60 L388.72,400.60 L389.32,400.61 L389.92,400.61 L390.52,400.61 L391.12,400.61 L391.72,400.62 L392.32,400.62 L392.92,400.62 L393.52,400.63 L394.12,400.63 L394.73,400.63 L395.33,400.63 L395.93,400.64 L396.53,400.64 L397.13,400.64 L397.73,400.65 L398.33,400.65 L398.93,400.65 L399.53,400.66 L400.13,400.66 L400.73,400.66 L401.33,400.66 L401.93,400.67 L402.53,400.67 L403.13,400.67 L403.73,400.68 L404.33,400.68 L404.93,400.69 L405.53,400.69 L406.13,400.69 L406.74,400.70 L407.34,400.70 L407.94,400.70 L408.54,400.71 L409.14,400.71 L409.74,400.72 L410.34,400.72 L410.94,400.72 L411.54,400.73 L412.14,400.73 L412.74,400.74 L413.34,400.74 L413.94,400.74 L414.54,400.75 L415.14,400.75 L415.74,400.76 L416.34,400.76 L416.94,400.77 L417.54,400.77 L418.14,400.78 L418.75,400.78 L419.35,400.79 L419.95,400.79 L420.55,400.80 L421.15,400.80 L421.75,400.81 L422.35,400.81 L422.95,400.82 L423.55,400.82 L424.15,400.83 L424.75,400.83 L425.35,400.84 L425.95,400.84 L426.55,400.85 L427.15,400.86 L427.75,400.86 L428.35,400.87 L428.95,400.87 L429.55,400.88 L430.15,400.89 L430.76,400.89 L431.36,400.90 L431.96,400.91 L432.56,400.91 L433.16,400.92 L433.76,400.93 L434.36,400.93 L434.96,400.94 L435.56,400.95 L436.16,400.95 L436.76,400.96 L437.36,400.97 L437.96,400.98 L438.56,400.98 L439.16,400.99 L439.76,401.00 L440.36,401.01 L440.96,401.01 L441.56,401.02 L442.16,401.03 L442.77,401.04 L443.37,401.05 L443.97,401.06 L444.57,401.06 L445.17,401.07 L445.77,401.08 L446.37,401.09 L446.97,401.10 L447.57,401.11 L448.17,401.12 L448.77,401.13 L449.37,401.14 L449.97,401.15 L450.57,401.16 L451.17,401.17 L451.77,401.18 L452.37,401.19 L452.97,401.20 L453.57,401.21 L454.17,401.22 L454.78,401.23 L455.38,401.24 L455.98,401.26 L456.58,401.27 L457.18,401.28 L457.78,401.29 L458.38,401.30 L458.98,401.31 L459.58,401.33 L460.18,401.34 L460.78,401.35 L461.38,401.36 L461.98,401.38 L462.58,401.39 L463.18,401.40 L463.78,401.42 L464.38,401.43 L464.98,401.45 L465.58,401.46 L466.18,401.47 L466.79,401.49 L467.39,401.50 L467.99,401.52 L468.59,401.53 L469.19,401.55 L469.79,401.56 L470.39,401.58 L470.99,401.60 L471.59,401.61 L472.19,401.63 L472.79,401.65 L473.39,401.66 L473.99,401.68 L474.59,401.70 L475.19,401.72 L475.79,401.73 L476.39,401.75 L476.99,401.77 L477.59,401.79 L478.19,401.81 L478.80,401.83 L479.40,401.85 L480.00,401.87 L480.60,401.89 L481.20,401.91 L481.80,401.93 L482.40,401.95 L483.00,401.97 L483.60,401.99 L484.20,402.01 L484.80,402.04 L485.40,402.06 L486.00,402.08 L486.60,402.10 L487.20,402.13 L487.80,402.15 L488.40,402.17 L489.00,402.20 L489.60,402.22 L490.20,402.25 L490.81,402.27 L491.41,402.30 L492.01,402.33 L492.61,402.35 L493.21,402.38 L493.81,402.41 L494.41,402.43 L495.01,402.46 L495.61,402.49 L496.21,402.52 L496.81,402.55 L497.41,402.58 L498.01,402.61 L498.61,402.64 L499.21,402.67 L499.81,402.70 L500.41,402.73 L501.01,402.77 L501.61,402.80 L502.21,402.83 L502.82,402.87 L503.42,402.90 L504.02,402.93 L504.62,402.97 L505.22,403.00 L505.82,403.04 L506.42,403.08 L507.02,403.11 L507.62,403.15 L508.22,403.19 L508.82,403.23 L509.42,403.27 L510.02,403.31 L510.62,403.35 L511.22,403.39 L511.82,403.43 L512.42,403.47 L513.02,403.51 L513.62,403.55 L514.22,403.60 L514.83,403.64 L515.43,403.69 L516.03,403.73 L516.63,403.78 L517.23,403.82 L517.83,403.87 L518.43,403.92 L519.03,403.97 L519.63,404.02 L520.23,404.07 L520.83,404.12 L521.43,404.17 L522.03,404.22 L522.63,404.27 L523.23,404.33 L523.83,404.38 L524.43,404.43 L525.03,404.49 L525.63,404.55 L526.23,404.60 L526.84,404.66 L527.44,404.72 L528.04,404.78 L528.64,404.84 L529.24,404.90 L529.84,404.96 L530.44,405.02 L531.04,405.08 L531.64,405.15 L532.24,405.21 L532.84,405.28 L533.44,405.35 L534.04,405.41 L534.64,405.48 L535.24,405.55 L535.84,405.62 L536.44,405.69 L537.04,405.76 L537.64,405.84 L538.24,405.91 L538.85,405.98 L539.45,406.06 L540.05,406.14 L540.65,406.21 L541.25,406.29 L541.85,406.37 L542.45,406.45 L543.05,406.53 L543.65,406.62 L544.25,406.70 L544.85,406.78 L545.45,406.87 L546.05,406.96 L546.65,407.04 L547.25,407.13 L547.85,407.22 L548.45,407.31 L549.05,407.41 L549.65,407.50 L550.25,407.59 L550.86,407.69 L551.46,407.79 L552.06,407.88 L552.66,407.98 L553.26,408.08 L553.86,408.19 L554.46,408.29 L555.06,408.39 L555.66,408.50 L556.26,408.60 L556.86,408.71 L557.46,408.82 L558.06,408.93 L558.66,409.04 L559.26,409.16 L559.86,409.27 L560.46,409.39 L561.06,409.50 L561.66,409.62 L562.26,409.74 L562.87,409.86 L563.47,409.98 L564.07,410.11 L564.67,410.23 L565.27,410.36 L565.87,410.49 L566.47,410.62 L567.07,410.75 L567.67,410.88 L568.27,411.02 L568.87,411.15 L569.47,411.29 L570.07,411.43 L570.67,411.57 L571.27,411.71 L571.87,411.85 L572.47,411.99 L573.07,412.14 L573.67,412.29 L574.27,412.44 L574.88,412.59 L575.48,412.74 L576.08,412.89 L576.68,413.05 L577.28,413.21 L577.88,413.37 L578.48,413.53 L579.08,413.69 L579.68,413.85 L580.28,414.02 L580.88,414.18 L581.48,414.35 L582.08,414.52 L582.68,414.70 L583.28,414.87 L583.88,415.05 L584.48,415.22 L585.08,415.40 L585.68,415.58 L586.28,415.76 L586.89,415.95 L587.49,416.14 L588.09,416.32 L588.69,416.51 L589.29,416.70 L589.89,416.90 L590.49,417.09 L591.09,417.29 L591.69,417.49 L592.29,417.69 L592.89,417.89 L593.49,418.09 L594.09,418.30 L594.69,418.51 L595.29,418.72 L595.89,418.93 L596.49,419.14 L597.09,419.36 L597.69,419.57 L598.29,419.79 L598.90,420.01 L599.50,420.23 L600.10,420.46 L600.70,420.68 L601.30,420.91 L601.90,421.14 L602.50,421.37 L603.10,421.61 L603.70,421.84 L604.30,422.08 L604.90,422.32 L605.50,422.56 L606.10,422.80 L606.70,423.05 L607.30,423.29 L607.90,423.54 L608.50,423.79 L609.10,424.05 L609.70,424.30 L610.30,424.56 L610.91,424.81 L611.51,425.07 L612.11,425.34 L612.71,425.60 L613.31,425.86 L613.91,426.13 L614.51,426.40 L615.11,426.67 L615.71,426.95 L616.31,427.22 L616.91,427.50 L617.51,427.78 L618.11,428.06 L618.71,428.34 L619.31,428.62 L619.91,428.91 L620.51,429.20 L621.11,429.49 L621.71,429.78 L622.31,430.07 L622.92,430.37 L623.52,430.66 L624.12,430.96 L624.72,431.26 L625.32,431.56 L625.92,431.87 L626.52,432.17 L627.12,432.48 L627.72,432.79 L628.32,433.10 L628.92,433.42 L629.52,433.73 L630.12,434.05 L630.72,434.37 L631.32,434.69 L631.92,435.01 L632.52,435.33 L633.12,435.66 L633.72,435.98 L634.32,436.31 L634.93,436.64 L635.53,436.97 L636.13,437.31 L636.73,437.64 L637.33,437.98 L637.93,438.32 L638.53,438.66 L639.13,439.00 L639.73,439.34 L640.33,439.69 L640.93,440.03 L641.53,440.38 L642.13,440.73 L642.73,441.08 L643.33,441.43 L643.93,441.79 L644.53,442.14 L645.13,442.50 L645.73,442.86 L646.33,443.22 L646.94,443.58 L647.54,443.95 L648.14,444.31 L648.74,444.68 L649.34,445.04 L649.94,445.41 L650.54,445.78 L651.14,446.16 L651.74,446.53 L652.34,446.90 L652.94,447.28 L653.54,447.66 L654.14,448.04 L654.74,448.42 L655.34,448.80 L655.94,449.18 L656.54,449.57 L657.14,449.95 L657.74,450.34 L658.34,450.73 L658.95,451.12 L659.55,451.51 L660.15,451.90 L660.75,452.29 L661.35,452.69 L661.95,453.08 L662.55,453.48 L663.15,453.88 L663.75,454.27 L664.35,454.67 L664.95,455.08 L665.55,455.48 L666.15,455.88 L666.75,456.29 L667.35,456.69 L667.95,457.10 L668.55,457.51 L669.15,457.92 L669.75,458.33 L670.35,458.74 L670.96,459.15 L671.56,459.57 L672.16,459.98 L672.76,460.40 L673.36,460.81 L673.96,461.23 L674.56,461.65 L675.16,462.07 L675.76,462.49 L676.36,462.91 L676.96,463.33 L677.56,463.76 L678.16,464.18 L678.76,464.61 L679.36,465.03 L679.96,465.46 L680.56,465.89 L681.16,466.31 L681.76,466.74 L682.36,467.18 L682.97,467.61 L683.57,468.04 L684.17,468.47 L684.77,468.91 L685.37,469.34 L685.97,469.78 L686.57,470.21 L687.17,470.65 L687.77,471.09 L688.37,471.52 L688.97,471.96 L689.57,472.40 L690.17,472.84 L690.77,473.29 L691.37,473.73 L691.97,474.17 L692.57,474.62 L693.17,475.06 L693.77,475.50 L694.37,475.95 L694.98,476.40 L695.58,476.84 L696.18,477.29 L696.78,477.74 L697.38,478.19 L697.98,478.64 L698.58,479.09 L699.18,479.54 L699.78,479.99 L700.38,480.44 L700.98,480.90 L701.58,481.35 L702.18,481.80 L702.78,482.26 L703.38,482.71 L703.98,483.17 L704.58,483.62 L705.18,484.08 L705.78,484.54 L706.38,484.99 L706.99,485.45 L707.59,485.91 L708.19,486.37 L708.79,486.83 L709.39,487.29 L709.99,487.75 L710.59,488.21 L711.19,488.67 L711.79,489.13 L712.39,489.60 L712.99,490.06 L713.59,490.52 L714.19,490.99 L714.79,491.45 L715.39,491.92 L715.99,492.38 L716.59,492.85 L717.19,493.31 L717.79,493.78 L718.39,494.25 L719.00,494.71 L719.60,495.18 L720.20,495.65 L720.80,496.12 L721.40,496.59 L722.00,497.05 L722.60,497.52 L723.20,497.99 L723.80,498.46 L724.40,498.93 L725.00,499.40 L725.60,499.88 L726.20,500.35 L726.80,500.82 L727.40,501.29 L728.00,501.76 L728.60,502.24 L729.20,502.71 L729.80,503.18 L730.40,503.66 L731.01,504.13 L731.61,504.61 L732.21,505.08 L732.81,505.56 L733.41,506.03 L734.01,506.51 L734.61,506.98 L735.21,507.46 L735.81,507.93 L736.41,508.41 L737.01,508.89 L737.61,509.36 L738.21,509.84 L738.81,510.32 L739.41,510.80 L740.01,511.27 L740.61,511.75 L741.21,512.23 L741.81,512.71 L742.41,513.19 L743.02,513.67 L743.62,514.15 L744.22,514.63 L744.82,515.11 L745.42,515.59 L746.02,516.07 L746.62,516.55 L747.22,517.03 L747.82,517.51 L748.42,517.99 L749.02,518.47 L749.62,518.95 L750.22,519.44 L750.82,519.92 L751.42,520.40 L752.02,520.88 L752.62,521.36 L753.22,521.85 L753.82,522.33 L754.42,522.81 L755.03,523.30 L755.63,523.78 L756.23,524.26 L756.83,524.75 L757.43,525.23 L758.03,525.71 L758.63,526.20 L759.23,526.68 L759.83,527.17 L760.43,527.65 L761.03,528.14 L761.63,528.62 L762.23,529.11 L762.83,529.59 L763.43,530.08 L764.03,530.56 L764.63,531.05 L765.23,531.53 L765.83,532.02 L766.43,532.50 L767.04,532.99 L767.64,533.48 L768.24,533.96 L768.84,534.45 L769.44,534.94 L770.04,535.42 L770.64,535.91 L771.24,536.40 L771.84,536.88 L772.44,537.37 L773.04,537.86 L773.64,538.34 L774.24,538.83 L774.84,539.32 L775.44,539.81 L776.04,540.29 L776.64,540.78 L777.24,541.27 L777.84,541.76 L778.44,542.25 L779.05,542.73 L779.65,543.22 L780.25,543.71 L780.85,544.20 L781.45,544.69 L782.05,545.18 L782.65,545.67 L783.25,546.15 L783.85,546.64 L784.45,547.13 L785.05,547.62 L785.65,548.11 L786.25,548.60 L786.85,549.09 L787.45,549.58 L788.05,550.07 L788.65,550.56 L789.25,551.05 L789.85,551.54 L790.45,552.03 L791.06,552.52 L791.66,553.01 L792.26,553.50 L792.86,553.99 L793.46,554.48 L794.06,554.97 L794.66,555.46 L795.26,555.95 L795.86,556.44 L796.46,556.93 L797.06,557.42 L797.66,557.91 L798.26,558.40 L798.86,558.89 L799.46,559.38 L800.06,559.87 L800.66,560.36 L801.26,560.85 L801.86,561.34 L802.46,561.83 L803.07,562.33 L803.67,562.82 L804.27,563.31 L804.87,563.80 L805.47,564.29 L806.07,564.78 L806.67,565.27 L807.27,565.76 L807.87,566.25 L808.47,566.75 L809.07,567.24 L809.67,567.73 L810.27,568.22 L810.87,568.71 L811.47,569.20 L812.07,569.70 L812.67,570.19 L813.27,570.68 L813.87,571.17 L814.47,571.66 L815.08,572.15 L815.68,572.65 L816.28,573.14 L816.88,573.63 L817.48,574.12 L818.08,574.61 L818.68,575.11 L819.28,575.60 L819.88,576.09 L820.48,576.58 L821.08,577.07 L821.68,577.57 L822.28,578.06 L822.88,578.55 L823.48,579.04 L824.08,579.54 L824.68,580.03 L825.28,580.52 L825.88,581.01 L826.48,581.51 L827.09,582.00 L827.69,582.49 L828.29,582.98 L828.89,583.48 L829.49,583.97 L830.09,584.46 L830.69,584.95 L831.29,585.45 L831.89,585.94 L832.49,586.43 L833.09,586.92 L833.69,587.42 L834.29,587.91 L834.89,588.40 L835.49,588.90 L836.09,589.39 L836.69,589.88 L837.29,590.37 L837.89,590.87 L838.49,591.36 L839.10,591.85 L839.70,592.35 L840.30,592.84 L840.90,593.33 L841.50,593.83 L842.10,594.32 L842.70,594.81 L843.30,595.31 L843.90,595.80 L844.50,596.29" fill="none" stroke="#ff0000" stroke-width="4.1" stroke-linejoin="round"/>
<path d="M124.50,339.75 L125.10,339.75 L125.70,339.75 L126.30,339.75 L126.90,339.75 L127.50,339.75 L128.10,339.75 L128.70,339.75 L129.30,339.75 L129.90,339.75 L130.51,339.75 L131.11,339.75 L131.71,339.75 L132.31,339.75 L132.91,339.75 L133.51,339.75 L134.11,339.75 L134.71,339.75 L135.31,339.75 L135.91,339.75 L136.51,339.75 L137.11,339.75 L137.71,339.75 L138.31,339.75 L138.91,339.75 L139.51,339.75 L140.11,339.75 L140.71,339.75 L141.31,339.75 L141.91,339.75 L142.52,339.75 L143.12,339.75 L143.72,339.75 L144.32,339.75 L144.92,339.75 L145.52,339.75 L146.12,339.75 L146.72,339.75 L147.32,339.75 L147.92,339.75 L148.52,339.75 L149.12,339.75 L149.72,339.75 L150.32,339.75 L150.92,339.75 L151.52,339.75 L152.12,339.75 L152.72,339.75 L153.32,339.75 L153.92,339.75 L154.53,339.75 L155.13,339.75 L155.73,339.75 L156.33,339.75 L156.93,339.75 L157.53,339.75 L158.13,339.75 L158.73,339.75 L159.33,339.75 L159.93,339.75 L160.53,339.75 L161.13,339.75 L161.73,339.75 L162.33,339.75 L162.93,339.75 L163.53,339.75 L164.13,339.75 L164.73,339.75 L165.33,339.75 L165.93,339.75 L166.54,339.75 L167.14,339.75 L167.74,339.75 L168.34,339.75 L168.94,339.75 L169.54,339.75 L170.14,339.74 L170.74,339.74 L171.34,339.74 L171.94,339.74 L172.54,339.74 L173.14,339.74 L173.74,339.74 L174.34,339.74 L174.94,339.74 L175.54,339.74 L176.14,339.74 L176.74,339.74 L177.34,339.74 L177.94,339.74 L178.55,339.74 L179.15,339.74 L179.75,339.74 L180.35,339.74 L180.95,339.74 L181.55,339.74 L182.15,339.74 L182.75,339.74 L183.35,339.74 L183.95,339.74 L184.55,339.74 L185.15,339.74 L185.75,339.74 L186.35,339.74 L186.95,339.74 L187.55,339.74 L188.15,339.74 L188.75,339.74 L189.35,339.74 L189.95,339.74 L190.56,339.74 L191.16,339.74 L191.76,339.74 L192.36,339.74 L192.96,339.74 L193.56,339.74 L194.16,339.74 L194.76,339.74 L195.36,339.74 L195.96,339.74 L196.56,339.74 L197.16,339.74 L197.76,339.74 L198.36,339.74 L198.96,339.74 L199.56,339.74 L200.16,339.74 L200.76,339.74 L201.36,339.74 L201.96,339.74 L202.57,339.74 L203.17,339.74 L203.77,339.74 L204.37,339.74 L204.97,339.74 L205.57,339.74 L206.17,339.74 L206.77,339.74 L207.37,339.74 L207.97,339.74 L208.57,339.74 L209.17,339.74 L209.77,339.74 L210.37,339.74 L210.97,339.74 L211.57,339.74 L212.17,339.74 L212.77,339.74 L213.37,339.74 L213.97,339.74 L214.58,339.73 L215.18,339.73 L215.78,339.73 L216.38,339.73 L216.98,339.73 L217.58,339.73 L218.18,339.73 L218.78,339.73 L219.38,339.73 L219.98,339.73 L220.58,339.73 L221.18,339.73 L221.78,339.73 L222.38,339.73 L222.98,339.73 L223.58,339.73 L224.18,339.73 L224.78,339.73 L225.38,339.73 L225.98,339.73 L226.59,339.73 L227.19,339.73 L227.79,339.73 L228.39,339.73 L228.99,339.73 L229.59,339.73 L230.19,339.73 L230.79,339.73 L231.39,339.73 L231.99,339.73 L232.59,339.73 L233.19,339.73 L233.79,339.73 L234.39,339.73 L234.99,339.73 L235.59,339.73 L236.19,339.73 L236.79,339.73 L237.39,339.73 L237.99,339.73 L238.60,339.73 L239.20,339.73 L239.80,339.73 L240.40,339.73 L241.00,339.73 L241.60,339.73 L242.20,339.73 L242.80,339.73 L243.40,339.73 L244.00,339.72 L244.60,339.72 L245.20,339.72 L245.80,339.72 L246.40,339.72 L247.00,339.72 L247.60,339.72 L248.20,339.72 L248.80,339.72 L249.40,339.72 L250.00,339.72 L250.61,339.72 L251.21,339.72 L251.81,339.72 L252.41,339.72 L253.01,339.72 L253.61,339.72 L254.21,339.72 L254.81,339.72 L255.41,339.72 L256.01,339.72 L256.61,339.72 L257.21,339.72 L257.81,339.72 L258.41,339.72 L259.01,339.72 L259.61,339.72 L260.21,339.72 L260.81,339.72 L261.41,339.72 L262.01,339.72 L262.62,339.72 L263.22,339.72 L263.82,339.72 L264.42,339.72 L265.02,339.72 L265.62,339.72 L266.22,339.72 L266.82,339.71 L267.42,339.71 L268.02,339.71 L268.62,339.71 L269.22,339.71 L269.82,339.71 L270.42,339.71 L271.02,339.71 L271.62,339.71 L272.22,339.71 L272.82,339.71 L273.42,339.71 L274.02,339.71 L274.63,339.71 L275.23,339.71 L275.83,339.71 L276.43,339.71 L277.03,339.71 L277.63,339.71 L278.23,339.71 L278.83,339.71 L279.43,339.71 L280.03,339.71 L280.63,339.71 L281.23,339.71 L281.83,339.71 L282.43,339.71 L283.03,339.71 L283.63,339.71 L284.23,339.71 L284.83,339.71 L285.43,339.70 L286.03,339.70 L286.64,339.70 L287.24,339.70 L287.84,339.70 L288.44,339.70 L289.04,339.70 L289.64,339.70 L290.24,339.70 L290.84,339.70 L291.44,339.70 L292.04,339.70 L292.64,339.70 L293.24,339.70 L293.84,339.70 L294.44,339.70 L295.04,339.70 L295.64,339.70 L296.24,339.70 L296.84,339.70 L297.44,339.70 L298.04,339.70 L298.65,339.70 L299.25,339.70 L299.85,339.70 L300.45,339.70 L301.05,339.70 L301.65,339.69 L302.25,339.69 L302.85,339.69 L303.45,339.69 L304.05,339.69 L304.65,339.69 L305.25,339.69 L305.85,339.69 L306.45,339.69 L307.05,339.69 L307.65,339.69 L308.25,339.69 L308.85,339.69 L309.45,339.69 L310.05,339.69 L310.66,339.69 L311.26,339.69 L311.86,339.69 L312.46,339.69 L313.06,339.69 L313.66,339.69 L314.26,339.69 L314.86,339.69 L315.46,339.69 L316.06,339.69 L316.66,339.68 L317.26,339.68 L317.86,339.68 L318.46,339.68 L319.06,339.68 L319.66,339.68 L320.26,339.68 L320.86,339.68 L321.46,339.68 L322.06,339.68 L322.67,339.68 L323.27,339.68 L323.87,339.68 L324.47,339.68 L325.07,339.68 L325.67,339.68 L326.27,339.68 L326.87,339.68 L327.47,339.68 L328.07,339.68 L328.67,339.68 L329.27,339.68 L329.87,339.68 L330.47,339.67 L331.07,339.67 L331.67,339.67 L332.27,339.67 L332.87,339.67 L333.47,339.67 L334.07,339.67 L334.68,339.67 L335.28,339.67 L335.88,339.67 L336.48,339.67 L337.08,339.67 L337.68,339.67 L338.28,339.67 L338.88,339.67 L339.48,339.67 L340.08,339.67 L340.68,339.67 L341.28,339.67 L341.88,339.67 L342.48,339.67 L343.08,339.67 L343.68,339.67 L344.28,339.66 L344.88,339.66 L345.48,339.66 L346.08,339.66 L346.69,339.66 L347.29,339.66 L347.89,339.66 L348.49,339.66 L349.09,339.66 L349.69,339.66 L350.29,339.66 L350.89,339.66 L351.49,339.66 L352.09,339.66 L352.69,339.66 L353.29,339.66 L353.89,339.66 L354.49,339.66 L355.09,339.66 L355.69,339.66 L356.29,339.66 L356.89,339.66 L357.49,339.66 L358.09,339.66 L358.70,339.66 L359.30,339.65 L359.90,339.65 L360.50,339.65 L361.10,339.65 L361.70,339.65 L362.30,339.65 L362.90,339.65 L363.50,339.65 L364.10,339.65 L364.70,339.65 L365.30,339.65 L365.90,339.65 L366.50,339.65 L367.10,339.65 L367.70,339.65 L368.30,339.65 L368.90,339.65 L369.50,339.65 L370.10,339.65 L370.71,339.65 L371.31,339.65 L371.91,339.65 L372.51,339.65 L373.11,339.65 L373.71,339.65 L374.31,339.65 L374.91,339.65 L375.51,339.65 L376.11,339.65 L376.71,339.65 L377.31,339.65 L377.91,339.65 L378.51,339.65 L379.11,339.65 L379.71,339.65 L380.31,339.65 L380.91,339.65 L381.51,339.65 L382.11,339.65 L382.72,339.65 L383.32,339.64 L383.92,339.64 L384.52,339.64 L385.12,339.64 L385.72,339.64 L386.32,339.64 L386.92,339.64 L387.52,339.64 L388.12,339.64 L388.72,339.64 L389.32,339.64 L389.92,339.64 L390.52,339.65 L391.12,339.65 L391.72,339.65 L392.32,339.65 L392.92,339.65 L393.52,339.65 L394.12,339.65 L394.73,339.65 L395.33,339.65 L395.93,339.65 L396.53,339.65 L397.13,339.65 L397.73,339.65 L398.33,339.65 L398.93,339.65 L399.53,339.65 L400.13,339.65 L400.73,339.65 L401.33,339.65 L401.93,339.65 L402.53,339.65 L403.13,339.65 L403.73,339.65 L404.33,339.65 L404.93,339.65 L405.53,339.65 L406.13,339.65 L406.74,339.65 L407.34,339.66 L407.94,339.66 L408.54,339.66 L409.14,339.66 L409.74,339.66 L410.34,339.66 L410.94,339.66 L411.54,339.66 L412.14,339.66 L412.74,339.66 L413.34,339.66 L413.94,339.66 L414.54,339.67 L415.14,339.67 L415.74,339.67 L416.34,339.67 L416.94,339.67 L417.54,339.67 L418.14,339.67 L418.75,339.67 L419.35,339.68 L419.95,339.68 L420.55,339.68 L421.15,339.68 L421.75,339.68 L422.35,339.68 L422.95,339.68 L423.55,339.69 L424.15,339.69 L424.75,339.69 L425.35,339.69 L425.95,339.69 L426.55,339.70 L427.15,339.70 L427.75,339.70 L428.35,339.70 L428.95,339.70 L429.55,339.71 L430.15,339.71 L430.76,339.71 L431.36,339.71 L431.96,339.71 L432.56,339.72 L433.16,339.72 L433.76,339.72 L434.36,339.72 L434.96,339.73 L435.56,339.73 L436.16,339.73 L436.76,339.74 L437.36,339.74 L437.96,339.74 L438.56,339.75 L439.16,339.75 L439.76,339.75 L440.36,339.76 L440.96,339.76 L441.56,339.76 L442.16,339.77 L442.77,339.77 L443.37,339.77 L443.97,339.78 L444.57,339.78 L445.17,339.79 L445.77,339.79 L446.37,339.79 L446.97,339.80 L447.57,339.80 L448.17,339.81 L448.77,339.81 L449.37,339.82 L449.97,339.82 L450.57,339.83 L451.17,339.83 L451.77,339.84 L452.37,339.84 L452.97,339.85 L453.57,339.85 L454.17,339.86 L454.78,339.86 L455.38,339.87 L455.98,339.87 L456.58,339.88 L457.18,339.89 L457.78,339.89 L458.38,339.90 L458.98,339.91 L459.58,339.91 L460.18,339.92 L460.78,339.93 L461.38,339.93 L461.98,339.94 L462.58,339.95 L463.18,339.96 L463.78,339.96 L464.38,339.97 L464.98,339.98 L465.58,339.99 L466.18,340.00 L466.79,340.00 L467.39,340.01 L467.99,340.02 L468.59,340.03 L469.19,340.04 L469.79,340.05 L470.39,340.06 L470.99,340.07 L471.59,340.08 L472.19,340.09 L472.79,340.10 L473.39,340.11 L473.99,340.12 L474.59,340.13 L475.19,340.14 L475.79,340.15 L476.39,340.16 L476.99,340.18 L477.59,340.19 L478.19,340.20 L478.80,340.21 L479.40,340.22 L480.00,340.24 L480.60,340.25 L481.20,340.26 L481.80,340.28 L482.40,340.29 L483.00,340.30 L483.60,340.32 L484.20,340.33 L484.80,340.35 L485.40,340.36 L486.00,340.38 L486.60,340.39 L487.20,340.41 L487.80,340.43 L488.40,340.44 L489.00,340.46 L489.60,340.48 L490.20,340.49 L490.81,340.51 L491.41,340.53 L492.01,340.55 L492.61,340.57 L493.21,340.58 L493.81,340.60 L494.41,340.62 L495.01,340.64 L495.61,340.66 L496.21,340.68 L496.81,340.70 L497.41,340.73 L498.01,340.75 L498.61,340.77 L499.21,340.79 L499.81,340.81 L500.41,340.84 L501.01,340.86 L501.61,340.89 L502.21,340.91 L502.82,340.93 L503.42,340.96 L504.02,340.99 L504.62,341.01 L505.22,341.04 L505.82,341.06 L506.42,341.09 L507.02,341.12 L507.62,341.15 L508.22,341.18 L508.82,341.21 L509.42,341.24 L510.02,341.27 L510.62,341.30 L511.22,341.33 L511.82,341.36 L512.42,341.39 L513.02,341.42 L513.62,341.46 L514.22,341.49 L514.83,341.53 L515.43,341.56 L516.03,341.60 L516.63,341.63 L517.23,341.67 L517.83,341.70 L518.43,341.74 L519.03,341.78 L519.63,341.82 L520.23,341.86 L520.83,341.90 L521.43,341.94 L522.03,341.98 L522.63,342.02 L523.23,342.07 L523.83,342.11 L524.43,342.15 L525.03,342.20 L525.63,342.24 L526.23,342.29 L526.84,342.34 L527.44,342.38 L528.04,342.43 L528.64,342.48 L529.24,342.53 L529.84,342.58 L530.44,342.63 L531.04,342.69 L531.64,342.74 L532.24,342.79 L532.84,342.85 L533.44,342.90 L534.04,342.96 L534.64,343.02 L535.24,343.07 L535.84,343.13 L536.44,343.19 L537.04,343.25 L537.64,343.31 L538.24,343.38 L538.85,343.44 L539.45,343.50 L540.05,343.57 L540.65,343.63 L541.25,343.70 L541.85,343.77 L542.45,343.84 L543.05,343.91 L543.65,343.98 L544.25,344.05 L544.85,344.12 L545.45,344.19 L546.05,344.27 L546.65,344.35 L547.25,344.42 L547.85,344.50 L548.45,344.58 L549.05,344.66 L549.65,344.74 L550.25,344.82 L550.86,344.91 L551.46,344.99 L552.06,345.08 L552.66,345.16 L553.26,345.25 L553.86,345.34 L554.46,345.43 L555.06,345.52 L555.66,345.62 L556.26,345.71 L556.86,345.81 L557.46,345.90 L558.06,346.00 L558.66,346.10 L559.26,346.20 L559.86,346.30 L560.46,346.41 L561.06,346.51 L561.66,346.62 L562.26,346.72 L562.87,346.83 L563.47,346.94 L564.07,347.05 L564.67,347.17 L565.27,347.28 L565.87,347.39 L566.47,347.51 L567.07,347.63 L567.67,347.75 L568.27,347.87 L568.87,347.99 L569.47,348.12 L570.07,348.24 L570.67,348.37 L571.27,348.50 L571.87,348.63 L572.47,348.76 L573.07,348.90 L573.67,349.03 L574.27,349.17 L574.88,349.31 L575.48,349.45 L576.08,349.59 L576.68,349.73 L577.28,349.87 L577.88,350.02 L578.48,350.17 L579.08,350.32 L579.68,350.47 L580.28,350.62 L580.88,350.78 L581.48,350.93 L582.08,351.09 L582.68,351.25 L583.28,351.41 L583.88,351.58 L584.48,351.74 L585.08,351.91 L585.68,352.08 L586.28,352.25 L586.89,352.42 L587.49,352.59 L588.09,352.77 L588.69,352.95 L589.29,353.12 L589.89,353.31 L590.49,353.49 L591.09,353.67 L591.69,353.86 L592.29,354.05 L592.89,354.24 L593.49,354.43 L594.09,354.62 L594.69,354.82 L595.29,355.02 L595.89,355.22 L596.49,355.42 L597.09,355.62 L597.69,355.83 L598.29,356.03 L598.90,356.24 L599.50,356.45 L600.10,356.67 L600.70,356.88 L601.30,357.10 L601.90,357.32 L602.50,357.54 L603.10,357.76 L603.70,357.98 L604.30,358.21 L604.90,358.44 L605.50,358.67 L606.10,358.90 L606.70,359.14 L607.30,359.37 L607.90,359.61 L608.50,359.85 L609.10,360.09 L609.70,360.33 L610.30,360.58 L610.91,360.83 L611.51,361.08 L612.11,361.33 L612.71,361.58 L613.31,361.84 L613.91,362.10 L614.51,362.35 L615.11,362.62 L615.71,362.88 L616.31,363.14 L616.91,363.41 L617.51,363.68 L618.11,363.95 L618.71,364.22 L619.31,364.50 L619.91,364.77 L620.51,365.05 L621.11,365.33 L621.71,365.62 L622.31,365.90 L622.92,366.19 L623.52,366.47 L624.12,366.76 L624.72,367.05 L625.32,367.35 L625.92,367.64 L626.52,367.94 L627.12,368.24 L627.72,368.54 L628.32,368.84 L628.92,369.15 L629.52,369.45 L630.12,369.76 L630.72,370.07 L631.32,370.38 L631.92,370.70 L632.52,371.01 L633.12,371.33 L633.72,371.65 L634.32,371.97 L634.93,372.29 L635.53,372.62 L636.13,372.94 L636.73,373.27 L637.33,373.60 L637.93,373.93 L638.53,374.26 L639.13,374.60 L639.73,374.93 L640.33,375.27 L640.93,375.61 L641.53,375.95 L642.13,376.29 L642.73,376.64 L643.33,376.98 L643.93,377.33 L644.53,377.68 L645.13,378.03 L645.73,378.38 L646.33,378.74 L646.94,379.09 L647.54,379.45 L648.14,379.81 L648.74,380.17 L649.34,380.53 L649.94,380.89 L650.54,381.26 L651.14,381.62 L651.74,381.99 L652.34,382.36 L652.94,382.73 L653.54,383.10 L654.14,383.47 L654.74,383.85 L655.34,384.23 L655.94,384.60 L656.54,384.98 L657.14,385.36 L657.74,385.74 L658.34,386.13 L658.95,386.51 L659.55,386.90 L660.15,387.28 L660.75,387.67 L661.35,388.06 L661.95,388.45 L662.55,388.84 L663.15,389.24 L663.75,389.63 L664.35,390.03 L664.95,390.42 L665.55,390.82 L666.15,391.22 L666.75,391.62 L667.35,392.02 L667.95,392.43 L668.55,392.83 L669.15,393.23 L669.75,393.64 L670.35,394.05 L670.96,394.46 L671.56,394.87 L672.16,395.28 L672.76,395.69 L673.36,396.10 L673.96,396.51 L674.56,396.93 L675.16,397.34 L675.76,397.76 L676.36,398.18 L676.96,398.60 L677.56,399.02 L678.16,399.44 L678.76,399.86 L679.36,400.28 L679.96,400.71 L680.56,401.13 L681.16,401.56 L681.76,401.98 L682.36,402.41 L682.97,402.84 L683.57,403.27 L684.17,403.70 L684.77,404.13 L685.37,404.56 L685.97,404.99 L686.57,405.43 L687.17,405.86 L687.77,406.29 L688.37,406.73 L688.97,407.17 L689.57,407.60 L690.17,408.04 L690.77,408.48 L691.37,408.92 L691.97,409.36 L692.57,409.80 L693.17,410.24 L693.77,410.69 L694.37,411.13 L694.98,411.57 L695.58,412.02 L696.18,412.46 L696.78,412.91 L697.38,413.36 L697.98,413.80 L698.58,414.25 L699.18,414.70 L699.78,415.15 L700.38,415.60 L700.98,416.05 L701.58,416.50 L702.18,416.95 L702.78,417.40 L703.38,417.86 L703.98,418.31 L704.58,418.76 L705.18,419.22 L705.78,419.67 L706.38,420.13 L706.99,420.59 L707.59,421.04 L708.19,421.50 L708.79,421.96 L709.39,422.42 L709.99,422.88 L710.59,423.34 L711.19,423.79 L711.79,424.26 L712.39,424.72 L712.99,425.18 L713.59,425.64 L714.19,426.10 L714.79,426.56 L715.39,427.03 L715.99,427.49 L716.59,427.96 L717.19,428.42 L717.79,428.88 L718.39,429.35 L719.00,429.82 L719.60,430.28 L720.20,430.75 L720.80,431.22 L721.40,431.68 L722.00,432.15 L722.60,432.62 L723.20,433.09 L723.80,433.56 L724.40,434.03 L725.00,434.49 L725.60,434.96 L726.20,435.44 L726.80,435.91 L727.40,436.38 L728.00,436.85 L728.60,437.32 L729.20,437.79 L729.80,438.26 L730.40,438.74 L731.01,439.21 L731.61,439.68 L732.21,440.16 L732.81,440.63 L733.41,441.11 L734.01,441.58 L734.61,442.05 L735.21,442.53 L735.81,443.00 L736.41,443.48 L737.01,443.96 L737.61,444.43 L738.21,444.91 L738.81,445.39 L739.41,445.86 L740.01,446.34 L740.61,446.82 L741.21,447.30 L741.81,447.77 L742.41,448.25 L743.02,448.73 L743.62,449.21 L744.22,449.69 L744.82,450.17 L745.42,450.65 L746.02,451.13 L746.62,451.61 L747.22,452.09 L747.82,452.57 L748.42,453.05 L749.02,453.53 L749.62,454.01 L750.22,454.49 L750.82,454.97 L751.42,455.45 L752.02,455.93 L752.62,456.41 L753.22,456.90 L753.82,457.38 L754.42,457.86 L755.03,458.34 L755.63,458.83 L756.23,459.31 L756.83,459.79 L757.43,460.28 L758.03,460.76 L758.63,461.24 L759.23,461.73 L759.83,462.21 L760.43,462.69 L761.03,463.18 L761.63,463.66 L762.23,464.15 L762.83,464.63 L763.43,465.12 L764.03,465.60 L764.63,466.09 L765.23,466.57 L765.83,467.06 L766.43,467.54 L767.04,468.03 L767.64,468.51 L768.24,469.00 L768.84,469.49 L769.44,469.97 L770.04,470.46 L770.64,470.94 L771.24,471.43 L771.84,471.92 L772.44,472.40 L773.04,472.89 L773.64,473.38 L774.24,473.87 L774.84,474.35 L775.44,474.84 L776.04,475.33 L776.64,475.81 L777.24,476.30 L777.84,476.79 L778.44,477.28 L779.05,477.77 L779.65,478.25 L780.25,478.74 L780.85,479.23 L781.45,479.72 L782.05,480.21 L782.65,480.69 L783.25,481.18 L783.85,481.67 L784.45,482.16 L785.05,482.65 L785.65,483.14 L786.25,483.63 L786.85,484.12 L787.45,484.61 L788.05,485.09 L788.65,485.58 L789.25,486.07 L789.85,486.56 L790.45,487.05 L791.06,487.54 L791.66,488.03 L792.26,488.52 L792.86,489.01 L793.46,489.50 L794.06,489.99 L794.66,490.48 L795.26,490.97 L795.86,491.46 L796.46,491.95 L797.06,492.44 L797.66,492.93 L798.26,493.42 L798.86,493.91 L799.46,494.40 L800.06,494.89 L800.66,495.38 L801.26,495.87 L801.86,496.36 L802.46,496.86 L803.07,497.35 L803.67,497.84 L804.27,498.33 L804.87,498.82 L805.47,499.31 L806.07,499.80 L806.67,500.29 L807.27,500.78 L807.87,501.27 L808.47,501.77 L809.07,502.26 L809.67,502.75 L810.27,503.24 L810.87,503.73 L811.47,504.22 L812.07,504.71 L812.67,505.21 L813.27,505.70 L813.87,506.19 L814.47,506.68 L815.08,507.17 L815.68,507.66 L816.28,508.16 L816.88,508.65 L817.48,509.14 L818.08,509.63 L818.68,510.12 L819.28,510.62 L819.88,511.11 L820.48,511.60 L821.08,512.09 L821.68,512.58 L822.28,513.08 L822.88,513.57 L823.48,514.06 L824.08,514.55 L824.68,515.05 L825.28,515.54 L825.88,516.03 L826.48,516.52 L827.09,517.01 L827.69,517.51 L828.29,518.00 L828.89,518.49 L829.49,518.98 L830.09,519.48 L830.69,519.97 L831.29,520.46 L831.89,520.95 L832.49,521.45 L833.09,521.94 L833.69,522.43 L834.29,522.93 L834.89,523.42 L835.49,523.91 L836.09,524.40 L836.69,524.90 L837.29,525.39 L837.89,525.88 L838.49,526.38 L839.10,526.87 L839.70,527.36 L840.30,527.85 L840.90,528.35 L841.50,528.84 L842.10,529.33 L842.70,529.83 L843.30,530.32 L843.90,530.81 L844.50,531.31" fill="none" stroke="#ff0000" stroke-width="4.1" stroke-linejoin="round"/>
<g stroke="#808080" stroke-width="3.8" stroke-dasharray="9.9 10.02" fill="none"><line x1="124.2" x2="844.5" y1="281.75" y2="281.75"/><line x1="124.2" x2="844.5" y1="333.53" y2="333.53"/><line x1="124.2" x2="844.5" y1="403.12" y2="403.12"/></g>
</g>
<rect x="811" y="502.6" width="33.5" height="1.4" fill="#c878b4" fill-opacity="0.55"/>
<path d="M124.50,504.00v-7.80M124.50,59.50v7.80M178.69,504.00v-5.40M178.69,59.50v5.40M210.38,504.00v-5.40M210.38,59.50v5.40M232.87,504.00v-5.40M232.87,59.50v5.40M250.31,504.00v-5.40M250.31,59.50v5.40M264.57,504.00v-5.40M264.57,59.50v5.40M276.62,504.00v-5.40M276.62,59.50v5.40M287.06,504.00v-5.40M287.06,59.50v5.40M296.26,504.00v-5.40M296.26,59.50v5.40M304.50,504.00v-7.80M304.50,59.50v7.80M358.69,504.00v-5.40M358.69,59.50v5.40M390.38,504.00v-5.40M390.38,59.50v5.40M412.87,504.00v-5.40M412.87,59.50v5.40M430.31,504.00v-5.40M430.31,59.50v5.40M444.57,504.00v-5.40M444.57,59.50v5.40M456.62,504.00v-5.40M456.62,59.50v5.40M467.06,504.00v-5.40M467.06,59.50v5.40M476.26,504.00v-5.40M476.26,59.50v5.40M484.50,504.00v-7.80M484.50,59.50v7.80M538.69,504.00v-5.40M538.69,59.50v5.40M570.38,504.00v-5.40M570.38,59.50v5.40M592.87,504.00v-5.40M592.87,59.50v5.40M610.31,504.00v-5.40M610.31,59.50v5.40M624.57,504.00v-5.40M624.57,59.50v5.40M636.62,504.00v-5.40M636.62,59.50v5.40M647.06,504.00v-5.40M647.06,59.50v5.40M656.26,504.00v-5.40M656.26,59.50v5.40M664.50,504.00v-7.80M664.50,59.50v7.80M718.69,504.00v-5.40M718.69,59.50v5.40M750.38,504.00v-5.40M750.38,59.50v5.40M772.87,504.00v-5.40M772.87,59.50v5.40M790.31,504.00v-5.40M790.31,59.50v5.40M804.57,504.00v-5.40M804.57,59.50v5.40M816.62,504.00v-5.40M816.62,59.50v5.40M827.06,504.00v-5.40M827.06,59.50v5.40M836.26,504.00v-5.40M836.26,59.50v5.40M844.50,504.00v-7.80M844.50,59.50v7.80M124.50,504.00h7.80M844.50,504.00h-7.80M124.50,481.70h5.40M844.50,481.70h-5.40M124.50,468.65h5.40M844.50,468.65h-5.40M124.50,459.40h5.40M844.50,459.40h-5.40M124.50,452.22h5.40M844.50,452.22h-5.40M124.50,446.35h5.40M844.50,446.35h-5.40M124.50,441.39h5.40M844.50,441.39h-5.40M124.50,437.10h5.40M844.50,437.10h-5.40M124.50,433.31h5.40M844.50,433.31h-5.40M124.50,429.92h7.80M844.50,429.92h-7.80M124.50,407.62h5.40M844.50,407.62h-5.40M124.50,394.57h5.40M844.50,394.57h-5.40M124.50,385.31h5.40M844.50,385.31h-5.40M124.50,378.13h5.40M844.50,378.13h-5.40M124.50,372.27h5.40M844.50,372.27h-5.40M124.50,367.31h5.40M844.50,367.31h-5.40M124.50,363.01h5.40M844.50,363.01h-5.40M124.50,359.22h5.40M844.50,359.22h-5.40M124.50,355.83h7.80M844.50,355.83h-7.80M124.50,333.53h5.40M844.50,333.53h-5.40M124.50,320.49h5.40M844.50,320.49h-5.40M124.50,311.23h5.40M844.50,311.23h-5.40M124.50,304.05h5.40M844.50,304.05h-5.40M124.50,298.19h5.40M844.50,298.19h-5.40M124.50,293.23h5.40M844.50,293.23h-5.40M124.50,288.93h5.40M844.50,288.93h-5.40M124.50,285.14h5.40M844.50,285.14h-5.40M124.50,281.75h7.80M844.50,281.75h-7.80M124.50,259.45h5.40M844.50,259.45h-5.40M124.50,246.40h5.40M844.50,246.40h-5.40M124.50,237.15h5.40M844.50,237.15h-5.40M124.50,229.97h5.40M844.50,229.97h-5.40M124.50,224.10h5.40M844.50,224.10h-5.40M124.50,219.14h5.40M844.50,219.14h-5.40M124.50,214.85h5.40M844.50,214.85h-5.40M124.50,211.06h5.40M844.50,211.06h-5.40M124.50,207.67h7.80M844.50,207.67h-7.80M124.50,185.37h5.40M844.50,185.37h-5.40M124.50,172.32h5.40M844.50,172.32h-5.40M124.50,163.06h5.40M844.50,163.06h-5.40M124.50,155.88h5.40M844.50,155.88h-5.40M124.50,150.02h5.40M844.50,150.02h-5.40M124.50,145.06h5.40M844.50,145.06h-5.40M124.50,140.76h5.40M844.50,140.76h-5.40M124.50,136.97h5.40M844.50,136.97h-5.40M124.50,133.58h7.80M844.50,133.58h-7.80M124.50,111.28h5.40M844.50,111.28h-5.40M124.50,98.24h5.40M844.50,98.24h-5.40M124.50,88.98h5.40M844.50,88.98h-5.40M124.50,81.80h5.40M844.50,81.80h-5.40M124.50,75.94h5.40M844.50,75.94h-5.40M124.50,70.98h5.40M844.50,70.98h-5.40M124.50,66.68h5.40M844.50,66.68h-5.40M124.50,62.89h5.40M844.50,62.89h-5.40M124.50,59.50h7.80M844.50,59.50h-7.80" stroke="#000" stroke-width="1.45" fill="none"/>
<rect x="124.5" y="59.5" width="720.0" height="444.5" fill="none" stroke="#000" stroke-width="1.3"/>
<g class="sans"><g transform="translate(115.00,517.30) scale(0.94,1)"><path transform="translate(-54.61,0.00) scale(0.01245)" d="M763,0H583V-1147Q518,-1085 412.5,-1023Q307,-961 223,-930V-1104Q374,-1175 487,-1276Q600,-1377 647,-1472H763Z" fill="#000"/><text x="-40.43" y="0.00" font-size="25.5">0</text><text x="-25.35" y="-10.00" font-size="22.8">2</text><text x="-12.68" y="-10.00" font-size="22.8">5</text></g><g transform="translate(115.00,443.22) scale(0.94,1)"><path transform="translate(-54.61,0.00) scale(0.01245)" d="M763,0H583V-1147Q518,-1085 412.5,-1023Q307,-961 223,-930V-1104Q374,-1175 487,-1276Q600,-1377 647,-1472H763Z" fill="#000"/><text x="-40.43" y="0.00" font-size="25.5">0</text><text x="-25.35" y="-10.00" font-size="22.8">2</text><text x="-12.68" y="-10.00" font-size="22.8">6</text></g><g transform="translate(115.00,369.13) scale(0.94,1)"><path transform="translate(-54.61,0.00) scale(0.01245)" d="M763,0H583V-1147Q518,-1085 412.5,-1023Q307,-961 223,-930V-1104Q374,-1175 487,-1276Q600,-1377 647,-1472H763Z" fill="#000"/><text x="-40.43" y="0.00" font-size="25.5">0</text><text x="-25.35" y="-10.00" font-size="22.8">2</text><text x="-12.68" y="-10.00" font-size="22.8">7</text></g><g transform="translate(115.00,295.05) scale(0.94,1)"><path transform="translate(-54.61,0.00) scale(0.01245)" d="M763,0H583V-1147Q518,-1085 412.5,-1023Q307,-961 223,-930V-1104Q374,-1175 487,-1276Q600,-1377 647,-1472H763Z" fill="#000"/><text x="-40.43" y="0.00" font-size="25.5">0</text><text x="-25.35" y="-10.00" font-size="22.8">2</text><text x="-12.68" y="-10.00" font-size="22.8">8</text></g><g transform="translate(115.00,220.97) scale(0.94,1)"><path transform="translate(-54.61,0.00) scale(0.01245)" d="M763,0H583V-1147Q518,-1085 412.5,-1023Q307,-961 223,-930V-1104Q374,-1175 487,-1276Q600,-1377 647,-1472H763Z" fill="#000"/><text x="-40.43" y="0.00" font-size="25.5">0</text><text x="-25.35" y="-10.00" font-size="22.8">2</text><text x="-12.68" y="-10.00" font-size="22.8">9</text></g><g transform="translate(115.00,146.88) scale(0.94,1)"><path transform="translate(-54.61,0.00) scale(0.01245)" d="M763,0H583V-1147Q518,-1085 412.5,-1023Q307,-961 223,-930V-1104Q374,-1175 487,-1276Q600,-1377 647,-1472H763Z" fill="#000"/><text x="-40.43" y="0.00" font-size="25.5">0</text><text x="-25.35" y="-10.00" font-size="22.8">3</text><text x="-12.68" y="-10.00" font-size="22.8">0</text></g><g transform="translate(115.00,72.80) scale(0.94,1)"><path transform="translate(-54.61,0.00) scale(0.01245)" d="M763,0H583V-1147Q518,-1085 412.5,-1023Q307,-961 223,-930V-1104Q374,-1175 487,-1276Q600,-1377 647,-1472H763Z" fill="#000"/><text x="-40.43" y="0.00" font-size="25.5">0</text><text x="-25.35" y="-10.00" font-size="22.8">3</text><path transform="translate(-12.68,-10.00) scale(0.01113)" d="M763,0H583V-1147Q518,-1085 412.5,-1023Q307,-961 223,-930V-1104Q374,-1175 487,-1276Q600,-1377 647,-1472H763Z" fill="#000"/></g><g transform="translate(844.50,544.40) scale(0.94,1)"><path transform="translate(-28.67,0.00) scale(0.01245)" d="M763,0H583V-1147Q518,-1085 412.5,-1023Q307,-961 223,-930V-1104Q374,-1175 487,-1276Q600,-1377 647,-1472H763Z" fill="#000"/><text x="-14.50" y="0.00" font-size="25.5">0</text><text x="0.48" y="-7.90" font-size="22.8">−</text><text x="14.80" y="-10.00" font-size="22.8">6</text></g><g transform="translate(664.50,544.40) scale(0.94,1)"><path transform="translate(-28.67,0.00) scale(0.01245)" d="M763,0H583V-1147Q518,-1085 412.5,-1023Q307,-961 223,-930V-1104Q374,-1175 487,-1276Q600,-1377 647,-1472H763Z" fill="#000"/><text x="-14.50" y="0.00" font-size="25.5">0</text><text x="0.48" y="-7.90" font-size="22.8">−</text><text x="14.80" y="-10.00" font-size="22.8">7</text></g><g transform="translate(484.50,544.40) scale(0.94,1)"><path transform="translate(-28.67,0.00) scale(0.01245)" d="M763,0H583V-1147Q518,-1085 412.5,-1023Q307,-961 223,-930V-1104Q374,-1175 487,-1276Q600,-1377 647,-1472H763Z" fill="#000"/><text x="-14.50" y="0.00" font-size="25.5">0</text><text x="0.48" y="-7.90" font-size="22.8">−</text><text x="14.80" y="-10.00" font-size="22.8">8</text></g><g transform="translate(304.50,544.40) scale(0.94,1)"><path transform="translate(-28.67,0.00) scale(0.01245)" d="M763,0H583V-1147Q518,-1085 412.5,-1023Q307,-961 223,-930V-1104Q374,-1175 487,-1276Q600,-1377 647,-1472H763Z" fill="#000"/><text x="-14.50" y="0.00" font-size="25.5">0</text><text x="0.48" y="-7.90" font-size="22.8">−</text><text x="14.80" y="-10.00" font-size="22.8">9</text></g><g transform="translate(124.50,544.40) scale(0.94,1)"><path transform="translate(-35.01,0.00) scale(0.01245)" d="M763,0H583V-1147Q518,-1085 412.5,-1023Q307,-961 223,-930V-1104Q374,-1175 487,-1276Q600,-1377 647,-1472H763Z" fill="#000"/><text x="-20.83" y="0.00" font-size="25.5">0</text><text x="-5.86" y="-7.90" font-size="22.8">−</text><path transform="translate(8.46,-10.00) scale(0.01113)" d="M763,0H583V-1147Q518,-1085 412.5,-1023Q307,-961 223,-930V-1104Q374,-1175 487,-1276Q600,-1377 647,-1472H763Z" fill="#000"/><text x="21.14" y="-10.00" font-size="22.8">0</text></g></g>
<g class="serif"><text x="347.3" y="28.0" font-size="28.5" textLength="275" lengthAdjust="spacing">3 light Majorana case</text><text x="232.1" y="213.8" font-size="25" textLength="36.5" lengthAdjust="spacing">NH</text><text x="236.7" y="384.2" font-size="25" textLength="26.6" lengthAdjust="spacing">IH</text><text x="716.8" y="265.8" font-size="25" textLength="67.3" lengthAdjust="spacing">nEXO</text><text x="682.7" y="326.7" font-size="25" textLength="135.3" lengthAdjust="spacing">KamLAND2</text><text x="208.8" y="440.0" font-size="25" textLength="82.6" lengthAdjust="spacing">Current</text><text x="301.8" y="440.0" font-size="25" textLength="56.2" lengthAdjust="spacing">limit:</text><text x="371.1" y="440.0" font-size="25" textLength="30.3" lengthAdjust="spacing">2.3</text><text x="433.8" y="440.0" font-size="25" textLength="22.3" lengthAdjust="spacing">10</text><text x="457.8" y="430.0" font-size="17" textLength="18.3" lengthAdjust="spacing">26</text><text x="486.5" y="440.0" font-size="25" textLength="20.8" lengthAdjust="spacing">yr</text><g transform="translate(395.0,597.0) scale(1.17,1)"><text x="0" y="0" font-size="29.5" font-style="italic">m</text></g><text x="420.9" y="601.8" font-size="20.5" textLength="65.3" lengthAdjust="spacing">lightest</text><text x="507.4" y="597.0" font-size="28" textLength="59.6" lengthAdjust="spacing">MeV</text><path d="M506.0,574.3 H502.2 V604.3 H506.0 M568.6,574.3 H572.4 V604.3 H568.6" fill="none" stroke="#000" stroke-width="1.35"/><path d="M411.2,428.2 L423.0,440.0 M423.0,428.2 L411.2,440.0" stroke="#000" stroke-width="1.1" fill="none"/><g transform="translate(27.2,377.7) rotate(-90)"><text x="-1.0" y="0" font-size="29.5" font-style="italic">T</text><text x="18.6" y="-11.8" font-size="20.5">0</text><g transform="translate(30.0,-11.8) scale(1.35,1)"><text x="0" y="0" font-size="22" font-style="italic">ν</text></g><text x="19.3" y="7.3" font-size="20.5">1</text><path d="M29.0,11.7 L36.4,-6.8999999999999995" stroke="#000" stroke-width="1.2" fill="none"/><text x="38.2" y="7.3" font-size="20.5">2</text><path d="M59.90,-22.90 Q44.90,-7.70 59.90,7.50 L60.80,7.80 Q48.60,-7.70 60.80,-23.20 Z" fill="#000"/><text x="62.7" y="-11.8" font-size="20.5" textLength="29.2" lengthAdjust="spacing">136</text><g transform="translate(92.3,0) scale(1.06,1)"><text x="0" y="0" font-size="28.5">X</text></g><text x="114.6" y="0" font-size="28.5">e</text><path d="M129.90,-22.90 Q144.70,-7.70 129.90,7.50 L129.00,7.80 Q141.00,-7.70 129.00,-23.20 Z" fill="#000"/><path d="M157.30,-22.8 H153.40 V7.4 H157.30" fill="none" stroke="#000" stroke-width="1.35"/><text x="157.6" y="0" font-size="28.5" textLength="26.5" lengthAdjust="spacing">yr</text><path d="M184.60,-22.8 H188.50 V7.4 H184.60" fill="none" stroke="#000" stroke-width="1.35"/></g></g>
</svg>
</div>
</body></html>
